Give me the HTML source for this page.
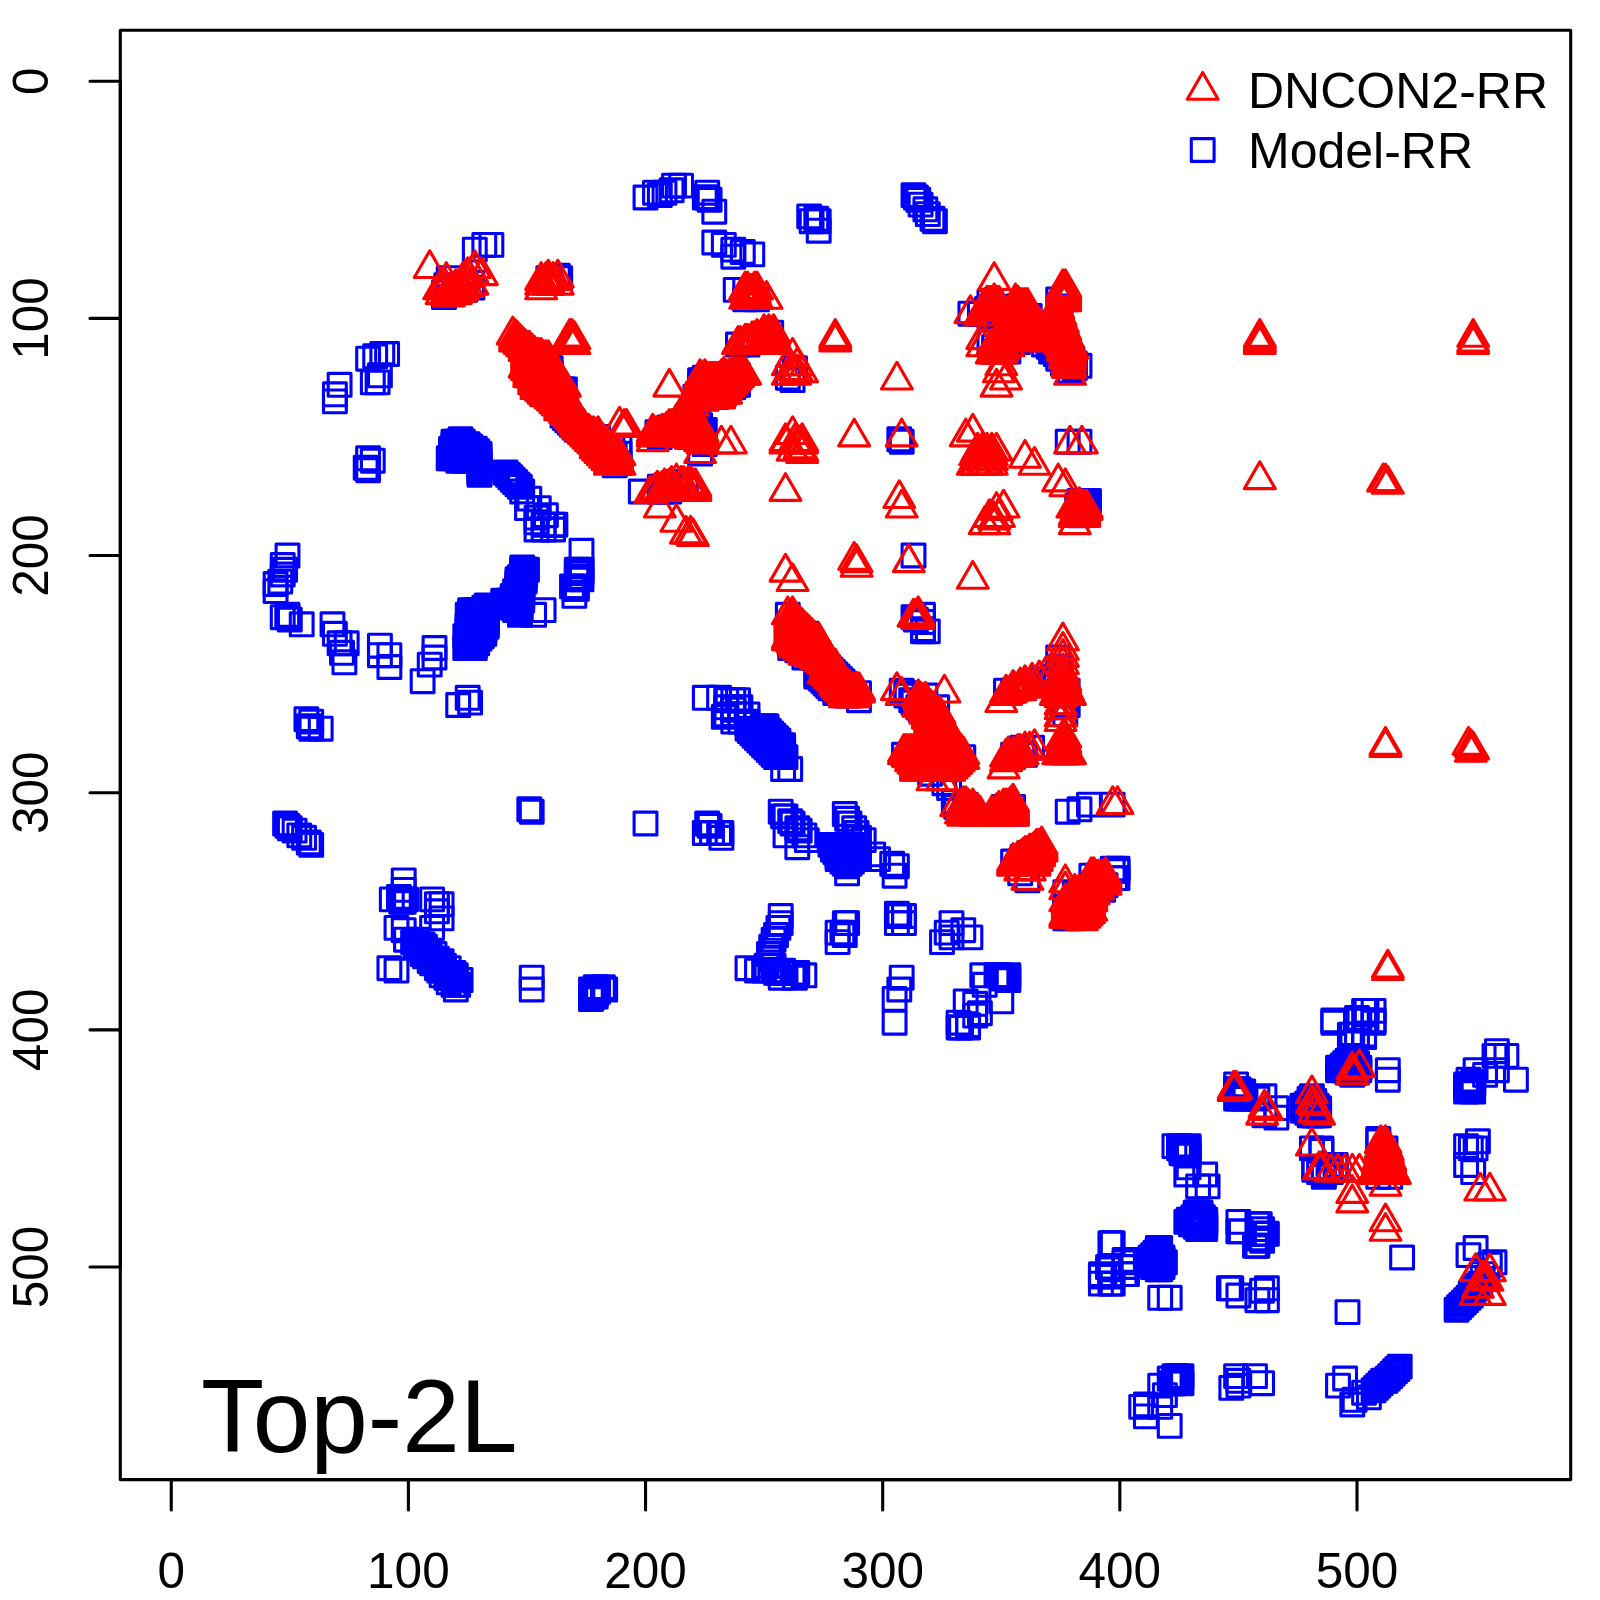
<!DOCTYPE html>
<html><head><meta charset="utf-8"><title>Top-2L contact map</title>
<style>
html,body{margin:0;padding:0;background:#fff}
svg{display:block}
text{font-family:"Liberation Sans",sans-serif;fill:#000}
.ax{stroke:#000;stroke-width:3.1;fill:none;stroke-linecap:round;stroke-linejoin:round}
.s{stroke:#0000ff;stroke-width:3.1;fill:none;stroke-linejoin:round}
.t{stroke:#ff0000;stroke-width:3.1;fill:none;stroke-linejoin:round}
</style></head><body>
<svg width="1600" height="1600" viewBox="0 0 1600 1600">
<rect width="1600" height="1600" fill="#fff"/>
<defs>
<rect id="q" x="-11.40" y="-11.40" width="22.80" height="22.80"/>
<path id="r" d="M0,-17.80 L15.42,8.90 L-15.42,8.90 Z"/>
</defs>

<g class="s">
<use href="#q" x="275.6" y="584.0"/>
<use href="#q" x="275.6" y="591.1"/>
<use href="#q" x="280.3" y="581.6"/>
<use href="#q" x="282.7" y="565.0"/>
<use href="#q" x="282.7" y="574.5"/>
<use href="#q" x="282.7" y="617.2"/>
<use href="#q" x="285.1" y="569.8"/>
<use href="#q" x="285.1" y="823.5"/>
<use href="#q" x="287.5" y="555.5"/>
<use href="#q" x="287.5" y="614.8"/>
<use href="#q" x="287.5" y="617.2"/>
<use href="#q" x="287.5" y="825.9"/>
<use href="#q" x="289.8" y="619.6"/>
<use href="#q" x="289.8" y="828.3"/>
<use href="#q" x="294.6" y="830.6"/>
<use href="#q" x="299.3" y="835.4"/>
<use href="#q" x="301.7" y="624.3"/>
<use href="#q" x="304.1" y="837.8"/>
<use href="#q" x="306.4" y="719.2"/>
<use href="#q" x="308.8" y="726.3"/>
<use href="#q" x="308.8" y="842.5"/>
<use href="#q" x="311.2" y="721.6"/>
<use href="#q" x="311.2" y="728.7"/>
<use href="#q" x="311.2" y="844.9"/>
<use href="#q" x="320.7" y="728.7"/>
<use href="#q" x="332.5" y="624.3"/>
<use href="#q" x="334.9" y="394.3"/>
<use href="#q" x="334.9" y="401.4"/>
<use href="#q" x="334.9" y="633.8"/>
<use href="#q" x="339.6" y="384.8"/>
<use href="#q" x="339.6" y="643.3"/>
<use href="#q" x="342.0" y="652.8"/>
<use href="#q" x="344.4" y="662.3"/>
<use href="#q" x="346.7" y="643.3"/>
<use href="#q" x="365.7" y="467.8"/>
<use href="#q" x="368.1" y="358.7"/>
<use href="#q" x="368.1" y="458.3"/>
<use href="#q" x="368.1" y="470.2"/>
<use href="#q" x="372.8" y="382.4"/>
<use href="#q" x="372.8" y="460.7"/>
<use href="#q" x="375.2" y="356.3"/>
<use href="#q" x="377.6" y="382.4"/>
<use href="#q" x="379.9" y="375.3"/>
<use href="#q" x="379.9" y="645.7"/>
<use href="#q" x="379.9" y="655.2"/>
<use href="#q" x="382.3" y="354.0"/>
<use href="#q" x="387.1" y="354.0"/>
<use href="#q" x="389.4" y="655.2"/>
<use href="#q" x="389.4" y="667.0"/>
<use href="#q" x="389.4" y="968.2"/>
<use href="#q" x="391.8" y="899.4"/>
<use href="#q" x="396.5" y="927.9"/>
<use href="#q" x="396.5" y="970.6"/>
<use href="#q" x="398.9" y="897.0"/>
<use href="#q" x="401.3" y="899.4"/>
<use href="#q" x="401.3" y="901.8"/>
<use href="#q" x="403.7" y="880.4"/>
<use href="#q" x="403.7" y="889.9"/>
<use href="#q" x="403.7" y="899.4"/>
<use href="#q" x="403.7" y="901.8"/>
<use href="#q" x="403.7" y="930.2"/>
<use href="#q" x="406.0" y="899.4"/>
<use href="#q" x="406.0" y="939.7"/>
<use href="#q" x="413.1" y="942.1"/>
<use href="#q" x="415.5" y="942.1"/>
<use href="#q" x="415.5" y="946.8"/>
<use href="#q" x="417.9" y="939.7"/>
<use href="#q" x="417.9" y="944.5"/>
<use href="#q" x="420.3" y="949.2"/>
<use href="#q" x="422.6" y="681.2"/>
<use href="#q" x="422.6" y="944.5"/>
<use href="#q" x="422.6" y="949.2"/>
<use href="#q" x="422.6" y="954.0"/>
<use href="#q" x="425.0" y="946.8"/>
<use href="#q" x="425.0" y="951.6"/>
<use href="#q" x="425.0" y="956.3"/>
<use href="#q" x="427.4" y="954.0"/>
<use href="#q" x="429.7" y="664.6"/>
<use href="#q" x="429.7" y="951.6"/>
<use href="#q" x="429.7" y="961.1"/>
<use href="#q" x="432.1" y="899.4"/>
<use href="#q" x="432.1" y="927.9"/>
<use href="#q" x="432.1" y="958.7"/>
<use href="#q" x="432.1" y="963.4"/>
<use href="#q" x="434.5" y="648.0"/>
<use href="#q" x="434.5" y="657.5"/>
<use href="#q" x="434.5" y="954.0"/>
<use href="#q" x="434.5" y="961.1"/>
<use href="#q" x="436.9" y="904.2"/>
<use href="#q" x="436.9" y="911.3"/>
<use href="#q" x="436.9" y="958.7"/>
<use href="#q" x="436.9" y="968.2"/>
<use href="#q" x="439.2" y="963.4"/>
<use href="#q" x="439.2" y="970.6"/>
<use href="#q" x="441.6" y="904.2"/>
<use href="#q" x="441.6" y="918.4"/>
<use href="#q" x="441.6" y="961.1"/>
<use href="#q" x="441.6" y="968.2"/>
<use href="#q" x="441.6" y="975.3"/>
<use href="#q" x="444.0" y="292.3"/>
<use href="#q" x="444.0" y="297.1"/>
<use href="#q" x="444.0" y="965.8"/>
<use href="#q" x="444.0" y="970.6"/>
<use href="#q" x="446.3" y="285.2"/>
<use href="#q" x="446.3" y="977.7"/>
<use href="#q" x="448.7" y="278.1"/>
<use href="#q" x="448.7" y="458.3"/>
<use href="#q" x="448.7" y="968.2"/>
<use href="#q" x="448.7" y="975.3"/>
<use href="#q" x="448.7" y="982.4"/>
<use href="#q" x="451.1" y="448.8"/>
<use href="#q" x="451.1" y="451.2"/>
<use href="#q" x="451.1" y="453.6"/>
<use href="#q" x="451.1" y="455.9"/>
<use href="#q" x="451.1" y="458.3"/>
<use href="#q" x="451.1" y="977.7"/>
<use href="#q" x="453.5" y="441.7"/>
<use href="#q" x="453.5" y="444.1"/>
<use href="#q" x="453.5" y="446.5"/>
<use href="#q" x="453.5" y="972.9"/>
<use href="#q" x="453.5" y="984.8"/>
<use href="#q" x="455.8" y="441.7"/>
<use href="#q" x="455.8" y="458.3"/>
<use href="#q" x="455.8" y="975.3"/>
<use href="#q" x="455.8" y="980.0"/>
<use href="#q" x="455.8" y="989.5"/>
<use href="#q" x="458.2" y="441.7"/>
<use href="#q" x="458.2" y="455.9"/>
<use href="#q" x="458.2" y="460.7"/>
<use href="#q" x="458.2" y="705.0"/>
<use href="#q" x="458.2" y="984.8"/>
<use href="#q" x="460.6" y="439.3"/>
<use href="#q" x="460.6" y="453.6"/>
<use href="#q" x="460.6" y="980.0"/>
<use href="#q" x="462.9" y="441.7"/>
<use href="#q" x="462.9" y="460.7"/>
<use href="#q" x="465.3" y="289.9"/>
<use href="#q" x="465.3" y="444.1"/>
<use href="#q" x="465.3" y="451.2"/>
<use href="#q" x="465.3" y="636.2"/>
<use href="#q" x="465.3" y="648.0"/>
<use href="#q" x="467.7" y="444.1"/>
<use href="#q" x="467.7" y="453.6"/>
<use href="#q" x="467.7" y="460.7"/>
<use href="#q" x="467.7" y="614.8"/>
<use href="#q" x="467.7" y="624.3"/>
<use href="#q" x="467.7" y="626.7"/>
<use href="#q" x="467.7" y="629.1"/>
<use href="#q" x="467.7" y="631.4"/>
<use href="#q" x="467.7" y="633.8"/>
<use href="#q" x="467.7" y="636.2"/>
<use href="#q" x="467.7" y="638.6"/>
<use href="#q" x="467.7" y="640.9"/>
<use href="#q" x="467.7" y="643.3"/>
<use href="#q" x="467.7" y="645.7"/>
<use href="#q" x="467.7" y="697.8"/>
<use href="#q" x="470.1" y="446.5"/>
<use href="#q" x="470.1" y="455.9"/>
<use href="#q" x="470.1" y="460.7"/>
<use href="#q" x="470.1" y="610.1"/>
<use href="#q" x="470.1" y="612.5"/>
<use href="#q" x="470.1" y="614.8"/>
<use href="#q" x="470.1" y="617.2"/>
<use href="#q" x="470.1" y="619.6"/>
<use href="#q" x="470.1" y="622.0"/>
<use href="#q" x="470.1" y="624.3"/>
<use href="#q" x="470.1" y="626.7"/>
<use href="#q" x="470.1" y="629.1"/>
<use href="#q" x="470.1" y="631.4"/>
<use href="#q" x="470.1" y="633.8"/>
<use href="#q" x="470.1" y="636.2"/>
<use href="#q" x="470.1" y="638.6"/>
<use href="#q" x="470.1" y="640.9"/>
<use href="#q" x="470.1" y="643.3"/>
<use href="#q" x="470.1" y="645.7"/>
<use href="#q" x="470.1" y="702.6"/>
<use href="#q" x="472.4" y="282.8"/>
<use href="#q" x="472.4" y="287.6"/>
<use href="#q" x="472.4" y="448.8"/>
<use href="#q" x="472.4" y="458.3"/>
<use href="#q" x="472.4" y="612.5"/>
<use href="#q" x="472.4" y="614.8"/>
<use href="#q" x="472.4" y="617.2"/>
<use href="#q" x="472.4" y="619.6"/>
<use href="#q" x="472.4" y="622.0"/>
<use href="#q" x="472.4" y="624.3"/>
<use href="#q" x="472.4" y="626.7"/>
<use href="#q" x="472.4" y="629.1"/>
<use href="#q" x="472.4" y="631.4"/>
<use href="#q" x="472.4" y="633.8"/>
<use href="#q" x="472.4" y="636.2"/>
<use href="#q" x="472.4" y="638.6"/>
<use href="#q" x="472.4" y="640.9"/>
<use href="#q" x="472.4" y="643.3"/>
<use href="#q" x="472.4" y="645.7"/>
<use href="#q" x="474.8" y="249.6"/>
<use href="#q" x="474.8" y="448.8"/>
<use href="#q" x="474.8" y="460.7"/>
<use href="#q" x="474.8" y="610.1"/>
<use href="#q" x="474.8" y="612.5"/>
<use href="#q" x="474.8" y="614.8"/>
<use href="#q" x="474.8" y="617.2"/>
<use href="#q" x="474.8" y="619.6"/>
<use href="#q" x="474.8" y="622.0"/>
<use href="#q" x="474.8" y="624.3"/>
<use href="#q" x="474.8" y="626.7"/>
<use href="#q" x="474.8" y="629.1"/>
<use href="#q" x="474.8" y="631.4"/>
<use href="#q" x="474.8" y="633.8"/>
<use href="#q" x="474.8" y="636.2"/>
<use href="#q" x="474.8" y="638.6"/>
<use href="#q" x="474.8" y="640.9"/>
<use href="#q" x="474.8" y="643.3"/>
<use href="#q" x="474.8" y="645.7"/>
<use href="#q" x="474.8" y="648.0"/>
<use href="#q" x="477.2" y="451.2"/>
<use href="#q" x="477.2" y="460.7"/>
<use href="#q" x="477.2" y="610.1"/>
<use href="#q" x="477.2" y="612.5"/>
<use href="#q" x="477.2" y="614.8"/>
<use href="#q" x="477.2" y="617.2"/>
<use href="#q" x="477.2" y="619.6"/>
<use href="#q" x="477.2" y="622.0"/>
<use href="#q" x="477.2" y="624.3"/>
<use href="#q" x="477.2" y="626.7"/>
<use href="#q" x="477.2" y="629.1"/>
<use href="#q" x="477.2" y="631.4"/>
<use href="#q" x="477.2" y="633.8"/>
<use href="#q" x="477.2" y="636.2"/>
<use href="#q" x="477.2" y="638.6"/>
<use href="#q" x="477.2" y="640.9"/>
<use href="#q" x="477.2" y="643.3"/>
<use href="#q" x="479.5" y="453.6"/>
<use href="#q" x="479.5" y="455.9"/>
<use href="#q" x="479.5" y="460.7"/>
<use href="#q" x="479.5" y="463.1"/>
<use href="#q" x="479.5" y="465.4"/>
<use href="#q" x="479.5" y="467.8"/>
<use href="#q" x="479.5" y="470.2"/>
<use href="#q" x="479.5" y="472.5"/>
<use href="#q" x="479.5" y="474.9"/>
<use href="#q" x="479.5" y="610.1"/>
<use href="#q" x="479.5" y="612.5"/>
<use href="#q" x="479.5" y="614.8"/>
<use href="#q" x="479.5" y="617.2"/>
<use href="#q" x="479.5" y="619.6"/>
<use href="#q" x="479.5" y="622.0"/>
<use href="#q" x="479.5" y="624.3"/>
<use href="#q" x="479.5" y="626.7"/>
<use href="#q" x="479.5" y="629.1"/>
<use href="#q" x="479.5" y="631.4"/>
<use href="#q" x="479.5" y="633.8"/>
<use href="#q" x="479.5" y="636.2"/>
<use href="#q" x="479.5" y="638.6"/>
<use href="#q" x="481.9" y="610.1"/>
<use href="#q" x="481.9" y="612.5"/>
<use href="#q" x="481.9" y="614.8"/>
<use href="#q" x="481.9" y="617.2"/>
<use href="#q" x="481.9" y="619.6"/>
<use href="#q" x="481.9" y="622.0"/>
<use href="#q" x="481.9" y="624.3"/>
<use href="#q" x="481.9" y="626.7"/>
<use href="#q" x="481.9" y="629.1"/>
<use href="#q" x="481.9" y="631.4"/>
<use href="#q" x="481.9" y="633.8"/>
<use href="#q" x="481.9" y="636.2"/>
<use href="#q" x="484.3" y="244.9"/>
<use href="#q" x="484.3" y="607.7"/>
<use href="#q" x="484.3" y="610.1"/>
<use href="#q" x="484.3" y="612.5"/>
<use href="#q" x="484.3" y="614.8"/>
<use href="#q" x="484.3" y="617.2"/>
<use href="#q" x="484.3" y="619.6"/>
<use href="#q" x="484.3" y="622.0"/>
<use href="#q" x="484.3" y="624.3"/>
<use href="#q" x="484.3" y="626.7"/>
<use href="#q" x="484.3" y="629.1"/>
<use href="#q" x="484.3" y="631.4"/>
<use href="#q" x="484.3" y="633.8"/>
<use href="#q" x="486.7" y="605.4"/>
<use href="#q" x="486.7" y="607.7"/>
<use href="#q" x="486.7" y="610.1"/>
<use href="#q" x="486.7" y="612.5"/>
<use href="#q" x="486.7" y="614.8"/>
<use href="#q" x="486.7" y="617.2"/>
<use href="#q" x="486.7" y="619.6"/>
<use href="#q" x="486.7" y="622.0"/>
<use href="#q" x="486.7" y="624.3"/>
<use href="#q" x="486.7" y="626.7"/>
<use href="#q" x="491.4" y="244.9"/>
<use href="#q" x="503.3" y="600.6"/>
<use href="#q" x="503.3" y="603.0"/>
<use href="#q" x="505.6" y="472.5"/>
<use href="#q" x="508.0" y="474.9"/>
<use href="#q" x="508.0" y="600.6"/>
<use href="#q" x="508.0" y="603.0"/>
<use href="#q" x="510.4" y="477.3"/>
<use href="#q" x="510.4" y="600.6"/>
<use href="#q" x="510.4" y="603.0"/>
<use href="#q" x="510.4" y="605.4"/>
<use href="#q" x="512.7" y="479.7"/>
<use href="#q" x="512.7" y="595.9"/>
<use href="#q" x="512.7" y="598.2"/>
<use href="#q" x="512.7" y="600.6"/>
<use href="#q" x="512.7" y="603.0"/>
<use href="#q" x="512.7" y="605.4"/>
<use href="#q" x="512.7" y="607.7"/>
<use href="#q" x="515.1" y="482.0"/>
<use href="#q" x="515.1" y="591.1"/>
<use href="#q" x="515.1" y="593.5"/>
<use href="#q" x="515.1" y="595.9"/>
<use href="#q" x="515.1" y="598.2"/>
<use href="#q" x="515.1" y="600.6"/>
<use href="#q" x="515.1" y="603.0"/>
<use href="#q" x="515.1" y="605.4"/>
<use href="#q" x="515.1" y="607.7"/>
<use href="#q" x="515.1" y="610.1"/>
<use href="#q" x="517.5" y="484.4"/>
<use href="#q" x="517.5" y="579.3"/>
<use href="#q" x="517.5" y="581.6"/>
<use href="#q" x="517.5" y="584.0"/>
<use href="#q" x="517.5" y="586.4"/>
<use href="#q" x="517.5" y="588.8"/>
<use href="#q" x="517.5" y="591.1"/>
<use href="#q" x="517.5" y="593.5"/>
<use href="#q" x="517.5" y="595.9"/>
<use href="#q" x="517.5" y="598.2"/>
<use href="#q" x="517.5" y="600.6"/>
<use href="#q" x="517.5" y="603.0"/>
<use href="#q" x="517.5" y="605.4"/>
<use href="#q" x="517.5" y="607.7"/>
<use href="#q" x="517.5" y="610.1"/>
<use href="#q" x="519.9" y="486.8"/>
<use href="#q" x="519.9" y="576.9"/>
<use href="#q" x="519.9" y="579.3"/>
<use href="#q" x="519.9" y="581.6"/>
<use href="#q" x="519.9" y="584.0"/>
<use href="#q" x="519.9" y="586.4"/>
<use href="#q" x="519.9" y="588.8"/>
<use href="#q" x="519.9" y="591.1"/>
<use href="#q" x="519.9" y="593.5"/>
<use href="#q" x="519.9" y="595.9"/>
<use href="#q" x="519.9" y="598.2"/>
<use href="#q" x="519.9" y="600.6"/>
<use href="#q" x="519.9" y="603.0"/>
<use href="#q" x="519.9" y="605.4"/>
<use href="#q" x="519.9" y="607.7"/>
<use href="#q" x="519.9" y="610.1"/>
<use href="#q" x="519.9" y="612.5"/>
<use href="#q" x="519.9" y="614.8"/>
<use href="#q" x="522.2" y="491.5"/>
<use href="#q" x="522.2" y="567.4"/>
<use href="#q" x="522.2" y="569.8"/>
<use href="#q" x="522.2" y="572.2"/>
<use href="#q" x="522.2" y="574.5"/>
<use href="#q" x="522.2" y="576.9"/>
<use href="#q" x="522.2" y="579.3"/>
<use href="#q" x="522.2" y="581.6"/>
<use href="#q" x="522.2" y="584.0"/>
<use href="#q" x="522.2" y="586.4"/>
<use href="#q" x="522.2" y="588.8"/>
<use href="#q" x="522.2" y="591.1"/>
<use href="#q" x="522.2" y="593.5"/>
<use href="#q" x="522.2" y="595.9"/>
<use href="#q" x="522.2" y="598.2"/>
<use href="#q" x="522.2" y="600.6"/>
<use href="#q" x="524.6" y="569.8"/>
<use href="#q" x="524.6" y="572.2"/>
<use href="#q" x="524.6" y="574.5"/>
<use href="#q" x="524.6" y="576.9"/>
<use href="#q" x="524.6" y="579.3"/>
<use href="#q" x="524.6" y="581.6"/>
<use href="#q" x="527.0" y="508.1"/>
<use href="#q" x="527.0" y="569.8"/>
<use href="#q" x="529.3" y="370.6"/>
<use href="#q" x="529.3" y="498.6"/>
<use href="#q" x="529.3" y="809.3"/>
<use href="#q" x="531.7" y="363.5"/>
<use href="#q" x="531.7" y="365.8"/>
<use href="#q" x="531.7" y="368.2"/>
<use href="#q" x="531.7" y="372.9"/>
<use href="#q" x="531.7" y="811.7"/>
<use href="#q" x="531.7" y="977.7"/>
<use href="#q" x="531.7" y="989.5"/>
<use href="#q" x="534.1" y="363.5"/>
<use href="#q" x="534.1" y="375.3"/>
<use href="#q" x="534.1" y="377.7"/>
<use href="#q" x="534.1" y="614.8"/>
<use href="#q" x="536.5" y="363.5"/>
<use href="#q" x="536.5" y="380.1"/>
<use href="#q" x="536.5" y="517.6"/>
<use href="#q" x="536.5" y="522.3"/>
<use href="#q" x="536.5" y="529.5"/>
<use href="#q" x="538.8" y="361.1"/>
<use href="#q" x="538.8" y="382.4"/>
<use href="#q" x="538.8" y="384.8"/>
<use href="#q" x="538.8" y="508.1"/>
<use href="#q" x="541.2" y="361.1"/>
<use href="#q" x="541.2" y="375.3"/>
<use href="#q" x="541.2" y="387.2"/>
<use href="#q" x="543.6" y="361.1"/>
<use href="#q" x="543.6" y="370.6"/>
<use href="#q" x="543.6" y="377.7"/>
<use href="#q" x="543.6" y="389.5"/>
<use href="#q" x="543.6" y="524.7"/>
<use href="#q" x="543.6" y="529.5"/>
<use href="#q" x="543.6" y="610.1"/>
<use href="#q" x="545.9" y="361.1"/>
<use href="#q" x="545.9" y="368.2"/>
<use href="#q" x="545.9" y="380.1"/>
<use href="#q" x="545.9" y="389.5"/>
<use href="#q" x="545.9" y="515.2"/>
<use href="#q" x="548.3" y="278.1"/>
<use href="#q" x="548.3" y="358.7"/>
<use href="#q" x="548.3" y="361.1"/>
<use href="#q" x="548.3" y="365.8"/>
<use href="#q" x="548.3" y="382.4"/>
<use href="#q" x="550.7" y="282.8"/>
<use href="#q" x="550.7" y="368.2"/>
<use href="#q" x="550.7" y="372.9"/>
<use href="#q" x="550.7" y="377.7"/>
<use href="#q" x="550.7" y="380.1"/>
<use href="#q" x="550.7" y="384.8"/>
<use href="#q" x="550.7" y="387.2"/>
<use href="#q" x="550.7" y="389.5"/>
<use href="#q" x="553.1" y="389.5"/>
<use href="#q" x="553.1" y="524.7"/>
<use href="#q" x="553.1" y="529.5"/>
<use href="#q" x="555.4" y="389.5"/>
<use href="#q" x="555.4" y="524.7"/>
<use href="#q" x="557.8" y="275.7"/>
<use href="#q" x="557.8" y="389.5"/>
<use href="#q" x="560.2" y="278.1"/>
<use href="#q" x="560.2" y="389.5"/>
<use href="#q" x="562.5" y="389.5"/>
<use href="#q" x="562.5" y="415.6"/>
<use href="#q" x="564.9" y="389.5"/>
<use href="#q" x="564.9" y="418.0"/>
<use href="#q" x="567.3" y="420.4"/>
<use href="#q" x="569.7" y="422.7"/>
<use href="#q" x="572.0" y="425.1"/>
<use href="#q" x="572.0" y="586.4"/>
<use href="#q" x="574.4" y="427.5"/>
<use href="#q" x="574.4" y="588.8"/>
<use href="#q" x="574.4" y="595.9"/>
<use href="#q" x="576.8" y="429.9"/>
<use href="#q" x="576.8" y="569.8"/>
<use href="#q" x="576.8" y="572.2"/>
<use href="#q" x="576.8" y="579.3"/>
<use href="#q" x="576.8" y="586.4"/>
<use href="#q" x="576.8" y="588.8"/>
<use href="#q" x="579.1" y="572.2"/>
<use href="#q" x="579.1" y="576.9"/>
<use href="#q" x="581.5" y="432.2"/>
<use href="#q" x="581.5" y="550.8"/>
<use href="#q" x="581.5" y="569.8"/>
<use href="#q" x="581.5" y="572.2"/>
<use href="#q" x="581.5" y="579.3"/>
<use href="#q" x="588.6" y="439.3"/>
<use href="#q" x="591.0" y="989.5"/>
<use href="#q" x="591.0" y="999.0"/>
<use href="#q" x="593.4" y="991.9"/>
<use href="#q" x="593.4" y="996.6"/>
<use href="#q" x="595.7" y="987.2"/>
<use href="#q" x="595.7" y="994.3"/>
<use href="#q" x="595.7" y="996.6"/>
<use href="#q" x="598.1" y="437.0"/>
<use href="#q" x="598.1" y="448.8"/>
<use href="#q" x="598.1" y="991.9"/>
<use href="#q" x="602.9" y="987.2"/>
<use href="#q" x="605.2" y="455.9"/>
<use href="#q" x="605.2" y="989.5"/>
<use href="#q" x="607.6" y="446.5"/>
<use href="#q" x="612.3" y="446.5"/>
<use href="#q" x="614.7" y="453.6"/>
<use href="#q" x="614.7" y="463.1"/>
<use href="#q" x="614.7" y="465.4"/>
<use href="#q" x="619.5" y="446.5"/>
<use href="#q" x="619.5" y="453.6"/>
<use href="#q" x="619.5" y="463.1"/>
<use href="#q" x="640.8" y="491.5"/>
<use href="#q" x="645.5" y="197.5"/>
<use href="#q" x="645.5" y="823.5"/>
<use href="#q" x="655.0" y="192.7"/>
<use href="#q" x="657.4" y="432.2"/>
<use href="#q" x="659.8" y="195.1"/>
<use href="#q" x="659.8" y="432.2"/>
<use href="#q" x="659.8" y="434.6"/>
<use href="#q" x="659.8" y="437.0"/>
<use href="#q" x="659.8" y="486.8"/>
<use href="#q" x="659.8" y="491.5"/>
<use href="#q" x="662.2" y="432.2"/>
<use href="#q" x="662.2" y="434.6"/>
<use href="#q" x="662.2" y="486.8"/>
<use href="#q" x="662.2" y="489.1"/>
<use href="#q" x="662.2" y="491.5"/>
<use href="#q" x="664.5" y="192.7"/>
<use href="#q" x="664.5" y="432.2"/>
<use href="#q" x="664.5" y="434.6"/>
<use href="#q" x="666.9" y="429.9"/>
<use href="#q" x="666.9" y="432.2"/>
<use href="#q" x="666.9" y="434.6"/>
<use href="#q" x="666.9" y="489.1"/>
<use href="#q" x="669.3" y="427.5"/>
<use href="#q" x="669.3" y="429.9"/>
<use href="#q" x="669.3" y="432.2"/>
<use href="#q" x="669.3" y="434.6"/>
<use href="#q" x="669.3" y="486.8"/>
<use href="#q" x="669.3" y="491.5"/>
<use href="#q" x="671.6" y="190.3"/>
<use href="#q" x="671.6" y="427.5"/>
<use href="#q" x="671.6" y="429.9"/>
<use href="#q" x="671.6" y="432.2"/>
<use href="#q" x="671.6" y="434.6"/>
<use href="#q" x="674.0" y="185.6"/>
<use href="#q" x="674.0" y="427.5"/>
<use href="#q" x="674.0" y="429.9"/>
<use href="#q" x="674.0" y="432.2"/>
<use href="#q" x="676.4" y="427.5"/>
<use href="#q" x="676.4" y="429.9"/>
<use href="#q" x="676.4" y="432.2"/>
<use href="#q" x="676.4" y="482.0"/>
<use href="#q" x="676.4" y="486.8"/>
<use href="#q" x="678.8" y="427.5"/>
<use href="#q" x="678.8" y="429.9"/>
<use href="#q" x="678.8" y="432.2"/>
<use href="#q" x="678.8" y="484.4"/>
<use href="#q" x="678.8" y="486.8"/>
<use href="#q" x="681.1" y="185.6"/>
<use href="#q" x="681.1" y="425.1"/>
<use href="#q" x="681.1" y="427.5"/>
<use href="#q" x="681.1" y="429.9"/>
<use href="#q" x="681.1" y="432.2"/>
<use href="#q" x="683.5" y="425.1"/>
<use href="#q" x="683.5" y="427.5"/>
<use href="#q" x="683.5" y="429.9"/>
<use href="#q" x="683.5" y="432.2"/>
<use href="#q" x="685.9" y="422.7"/>
<use href="#q" x="685.9" y="425.1"/>
<use href="#q" x="685.9" y="427.5"/>
<use href="#q" x="685.9" y="429.9"/>
<use href="#q" x="685.9" y="432.2"/>
<use href="#q" x="685.9" y="484.4"/>
<use href="#q" x="688.2" y="422.7"/>
<use href="#q" x="688.2" y="425.1"/>
<use href="#q" x="688.2" y="427.5"/>
<use href="#q" x="688.2" y="429.9"/>
<use href="#q" x="688.2" y="432.2"/>
<use href="#q" x="690.6" y="413.3"/>
<use href="#q" x="690.6" y="418.0"/>
<use href="#q" x="690.6" y="420.4"/>
<use href="#q" x="690.6" y="422.7"/>
<use href="#q" x="690.6" y="425.1"/>
<use href="#q" x="690.6" y="427.5"/>
<use href="#q" x="690.6" y="429.9"/>
<use href="#q" x="690.6" y="432.2"/>
<use href="#q" x="693.0" y="413.3"/>
<use href="#q" x="693.0" y="418.0"/>
<use href="#q" x="693.0" y="420.4"/>
<use href="#q" x="693.0" y="422.7"/>
<use href="#q" x="693.0" y="425.1"/>
<use href="#q" x="693.0" y="427.5"/>
<use href="#q" x="693.0" y="429.9"/>
<use href="#q" x="695.4" y="396.7"/>
<use href="#q" x="695.4" y="420.4"/>
<use href="#q" x="695.4" y="422.7"/>
<use href="#q" x="695.4" y="425.1"/>
<use href="#q" x="695.4" y="427.5"/>
<use href="#q" x="695.4" y="429.9"/>
<use href="#q" x="697.7" y="394.3"/>
<use href="#q" x="697.7" y="396.7"/>
<use href="#q" x="697.7" y="422.7"/>
<use href="#q" x="697.7" y="425.1"/>
<use href="#q" x="697.7" y="427.5"/>
<use href="#q" x="697.7" y="429.9"/>
<use href="#q" x="700.1" y="380.1"/>
<use href="#q" x="700.1" y="384.8"/>
<use href="#q" x="700.1" y="387.2"/>
<use href="#q" x="700.1" y="389.5"/>
<use href="#q" x="700.1" y="391.9"/>
<use href="#q" x="700.1" y="394.3"/>
<use href="#q" x="700.1" y="396.7"/>
<use href="#q" x="700.1" y="425.1"/>
<use href="#q" x="700.1" y="427.5"/>
<use href="#q" x="700.1" y="429.9"/>
<use href="#q" x="700.1" y="453.6"/>
<use href="#q" x="702.5" y="380.1"/>
<use href="#q" x="702.5" y="382.4"/>
<use href="#q" x="702.5" y="384.8"/>
<use href="#q" x="702.5" y="387.2"/>
<use href="#q" x="702.5" y="389.5"/>
<use href="#q" x="702.5" y="391.9"/>
<use href="#q" x="702.5" y="394.3"/>
<use href="#q" x="702.5" y="396.7"/>
<use href="#q" x="702.5" y="429.9"/>
<use href="#q" x="704.8" y="197.5"/>
<use href="#q" x="704.8" y="377.7"/>
<use href="#q" x="704.8" y="380.1"/>
<use href="#q" x="704.8" y="382.4"/>
<use href="#q" x="704.8" y="384.8"/>
<use href="#q" x="704.8" y="387.2"/>
<use href="#q" x="704.8" y="389.5"/>
<use href="#q" x="704.8" y="391.9"/>
<use href="#q" x="704.8" y="394.3"/>
<use href="#q" x="704.8" y="396.7"/>
<use href="#q" x="704.8" y="429.9"/>
<use href="#q" x="704.8" y="444.1"/>
<use href="#q" x="704.8" y="697.8"/>
<use href="#q" x="704.8" y="833.0"/>
<use href="#q" x="707.2" y="192.7"/>
<use href="#q" x="707.2" y="197.5"/>
<use href="#q" x="707.2" y="380.1"/>
<use href="#q" x="707.2" y="382.4"/>
<use href="#q" x="707.2" y="384.8"/>
<use href="#q" x="707.2" y="387.2"/>
<use href="#q" x="707.2" y="389.5"/>
<use href="#q" x="707.2" y="391.9"/>
<use href="#q" x="707.2" y="394.3"/>
<use href="#q" x="707.2" y="396.7"/>
<use href="#q" x="707.2" y="823.5"/>
<use href="#q" x="709.6" y="199.8"/>
<use href="#q" x="709.6" y="380.1"/>
<use href="#q" x="709.6" y="382.4"/>
<use href="#q" x="709.6" y="384.8"/>
<use href="#q" x="709.6" y="387.2"/>
<use href="#q" x="709.6" y="389.5"/>
<use href="#q" x="709.6" y="391.9"/>
<use href="#q" x="709.6" y="394.3"/>
<use href="#q" x="709.6" y="396.7"/>
<use href="#q" x="709.6" y="825.9"/>
<use href="#q" x="712.0" y="380.1"/>
<use href="#q" x="712.0" y="382.4"/>
<use href="#q" x="712.0" y="384.8"/>
<use href="#q" x="712.0" y="387.2"/>
<use href="#q" x="712.0" y="389.5"/>
<use href="#q" x="712.0" y="391.9"/>
<use href="#q" x="712.0" y="394.3"/>
<use href="#q" x="712.0" y="396.7"/>
<use href="#q" x="712.0" y="833.0"/>
<use href="#q" x="714.3" y="211.7"/>
<use href="#q" x="714.3" y="242.5"/>
<use href="#q" x="714.3" y="377.7"/>
<use href="#q" x="714.3" y="380.1"/>
<use href="#q" x="714.3" y="382.4"/>
<use href="#q" x="714.3" y="384.8"/>
<use href="#q" x="714.3" y="387.2"/>
<use href="#q" x="714.3" y="389.5"/>
<use href="#q" x="714.3" y="391.9"/>
<use href="#q" x="714.3" y="394.3"/>
<use href="#q" x="714.3" y="396.7"/>
<use href="#q" x="716.7" y="377.7"/>
<use href="#q" x="716.7" y="380.1"/>
<use href="#q" x="716.7" y="382.4"/>
<use href="#q" x="716.7" y="384.8"/>
<use href="#q" x="716.7" y="387.2"/>
<use href="#q" x="716.7" y="389.5"/>
<use href="#q" x="716.7" y="391.9"/>
<use href="#q" x="716.7" y="394.3"/>
<use href="#q" x="716.7" y="396.7"/>
<use href="#q" x="719.1" y="377.7"/>
<use href="#q" x="719.1" y="380.1"/>
<use href="#q" x="719.1" y="382.4"/>
<use href="#q" x="719.1" y="384.8"/>
<use href="#q" x="719.1" y="387.2"/>
<use href="#q" x="719.1" y="389.5"/>
<use href="#q" x="719.1" y="391.9"/>
<use href="#q" x="719.1" y="394.3"/>
<use href="#q" x="719.1" y="697.8"/>
<use href="#q" x="719.1" y="833.0"/>
<use href="#q" x="721.4" y="377.7"/>
<use href="#q" x="721.4" y="380.1"/>
<use href="#q" x="721.4" y="382.4"/>
<use href="#q" x="721.4" y="384.8"/>
<use href="#q" x="721.4" y="387.2"/>
<use href="#q" x="721.4" y="389.5"/>
<use href="#q" x="721.4" y="391.9"/>
<use href="#q" x="721.4" y="394.3"/>
<use href="#q" x="721.4" y="833.0"/>
<use href="#q" x="721.4" y="837.8"/>
<use href="#q" x="723.8" y="244.9"/>
<use href="#q" x="723.8" y="377.7"/>
<use href="#q" x="723.8" y="380.1"/>
<use href="#q" x="723.8" y="382.4"/>
<use href="#q" x="723.8" y="384.8"/>
<use href="#q" x="723.8" y="387.2"/>
<use href="#q" x="723.8" y="389.5"/>
<use href="#q" x="723.8" y="391.9"/>
<use href="#q" x="723.8" y="394.3"/>
<use href="#q" x="723.8" y="716.8"/>
<use href="#q" x="726.2" y="375.3"/>
<use href="#q" x="726.2" y="377.7"/>
<use href="#q" x="726.2" y="380.1"/>
<use href="#q" x="726.2" y="382.4"/>
<use href="#q" x="726.2" y="384.8"/>
<use href="#q" x="726.2" y="387.2"/>
<use href="#q" x="726.2" y="389.5"/>
<use href="#q" x="726.2" y="391.9"/>
<use href="#q" x="726.2" y="700.2"/>
<use href="#q" x="726.2" y="707.3"/>
<use href="#q" x="726.2" y="714.4"/>
<use href="#q" x="728.6" y="377.7"/>
<use href="#q" x="728.6" y="380.1"/>
<use href="#q" x="728.6" y="382.4"/>
<use href="#q" x="728.6" y="384.8"/>
<use href="#q" x="728.6" y="387.2"/>
<use href="#q" x="728.6" y="389.5"/>
<use href="#q" x="730.9" y="377.7"/>
<use href="#q" x="730.9" y="380.1"/>
<use href="#q" x="730.9" y="382.4"/>
<use href="#q" x="730.9" y="384.8"/>
<use href="#q" x="730.9" y="387.2"/>
<use href="#q" x="733.3" y="249.6"/>
<use href="#q" x="733.3" y="256.7"/>
<use href="#q" x="733.3" y="377.7"/>
<use href="#q" x="733.3" y="380.1"/>
<use href="#q" x="733.3" y="382.4"/>
<use href="#q" x="733.3" y="384.8"/>
<use href="#q" x="733.3" y="387.2"/>
<use href="#q" x="733.3" y="700.2"/>
<use href="#q" x="733.3" y="707.3"/>
<use href="#q" x="733.3" y="709.7"/>
<use href="#q" x="733.3" y="714.4"/>
<use href="#q" x="733.3" y="721.6"/>
<use href="#q" x="735.7" y="289.9"/>
<use href="#q" x="735.7" y="377.7"/>
<use href="#q" x="735.7" y="380.1"/>
<use href="#q" x="735.7" y="382.4"/>
<use href="#q" x="735.7" y="384.8"/>
<use href="#q" x="738.0" y="344.5"/>
<use href="#q" x="738.0" y="375.3"/>
<use href="#q" x="738.0" y="384.8"/>
<use href="#q" x="738.0" y="700.2"/>
<use href="#q" x="740.4" y="707.3"/>
<use href="#q" x="740.4" y="714.4"/>
<use href="#q" x="740.4" y="721.6"/>
<use href="#q" x="742.8" y="252.0"/>
<use href="#q" x="745.2" y="289.9"/>
<use href="#q" x="745.2" y="299.4"/>
<use href="#q" x="747.5" y="344.5"/>
<use href="#q" x="747.5" y="714.4"/>
<use href="#q" x="747.5" y="721.6"/>
<use href="#q" x="747.5" y="723.9"/>
<use href="#q" x="747.5" y="728.7"/>
<use href="#q" x="747.5" y="968.2"/>
<use href="#q" x="749.9" y="731.0"/>
<use href="#q" x="752.3" y="254.4"/>
<use href="#q" x="752.3" y="733.4"/>
<use href="#q" x="754.6" y="339.7"/>
<use href="#q" x="754.6" y="731.0"/>
<use href="#q" x="754.6" y="733.4"/>
<use href="#q" x="754.6" y="735.8"/>
<use href="#q" x="757.0" y="299.4"/>
<use href="#q" x="757.0" y="731.0"/>
<use href="#q" x="757.0" y="733.4"/>
<use href="#q" x="757.0" y="735.8"/>
<use href="#q" x="757.0" y="738.2"/>
<use href="#q" x="757.0" y="970.6"/>
<use href="#q" x="759.4" y="731.0"/>
<use href="#q" x="759.4" y="733.4"/>
<use href="#q" x="759.4" y="735.8"/>
<use href="#q" x="759.4" y="738.2"/>
<use href="#q" x="759.4" y="740.5"/>
<use href="#q" x="761.8" y="728.7"/>
<use href="#q" x="761.8" y="731.0"/>
<use href="#q" x="761.8" y="733.4"/>
<use href="#q" x="761.8" y="735.8"/>
<use href="#q" x="761.8" y="738.2"/>
<use href="#q" x="761.8" y="740.5"/>
<use href="#q" x="761.8" y="742.9"/>
<use href="#q" x="764.1" y="726.3"/>
<use href="#q" x="764.1" y="728.7"/>
<use href="#q" x="764.1" y="731.0"/>
<use href="#q" x="764.1" y="733.4"/>
<use href="#q" x="764.1" y="735.8"/>
<use href="#q" x="764.1" y="738.2"/>
<use href="#q" x="764.1" y="740.5"/>
<use href="#q" x="764.1" y="742.9"/>
<use href="#q" x="764.1" y="745.3"/>
<use href="#q" x="764.1" y="970.6"/>
<use href="#q" x="766.5" y="726.3"/>
<use href="#q" x="766.5" y="728.7"/>
<use href="#q" x="766.5" y="731.0"/>
<use href="#q" x="766.5" y="733.4"/>
<use href="#q" x="766.5" y="735.8"/>
<use href="#q" x="766.5" y="738.2"/>
<use href="#q" x="766.5" y="740.5"/>
<use href="#q" x="766.5" y="742.9"/>
<use href="#q" x="766.5" y="745.3"/>
<use href="#q" x="766.5" y="747.6"/>
<use href="#q" x="766.5" y="965.8"/>
<use href="#q" x="768.9" y="731.0"/>
<use href="#q" x="768.9" y="733.4"/>
<use href="#q" x="768.9" y="735.8"/>
<use href="#q" x="768.9" y="738.2"/>
<use href="#q" x="768.9" y="740.5"/>
<use href="#q" x="768.9" y="742.9"/>
<use href="#q" x="768.9" y="745.3"/>
<use href="#q" x="768.9" y="747.6"/>
<use href="#q" x="768.9" y="750.0"/>
<use href="#q" x="768.9" y="954.0"/>
<use href="#q" x="771.2" y="332.6"/>
<use href="#q" x="771.2" y="733.4"/>
<use href="#q" x="771.2" y="735.8"/>
<use href="#q" x="771.2" y="738.2"/>
<use href="#q" x="771.2" y="740.5"/>
<use href="#q" x="771.2" y="742.9"/>
<use href="#q" x="771.2" y="745.3"/>
<use href="#q" x="771.2" y="747.6"/>
<use href="#q" x="771.2" y="750.0"/>
<use href="#q" x="771.2" y="752.4"/>
<use href="#q" x="771.2" y="946.8"/>
<use href="#q" x="771.2" y="954.0"/>
<use href="#q" x="771.2" y="958.7"/>
<use href="#q" x="773.6" y="735.8"/>
<use href="#q" x="773.6" y="738.2"/>
<use href="#q" x="773.6" y="740.5"/>
<use href="#q" x="773.6" y="742.9"/>
<use href="#q" x="773.6" y="745.3"/>
<use href="#q" x="773.6" y="747.6"/>
<use href="#q" x="773.6" y="750.0"/>
<use href="#q" x="773.6" y="752.4"/>
<use href="#q" x="773.6" y="754.8"/>
<use href="#q" x="773.6" y="939.7"/>
<use href="#q" x="773.6" y="965.8"/>
<use href="#q" x="773.6" y="970.6"/>
<use href="#q" x="776.0" y="738.2"/>
<use href="#q" x="776.0" y="740.5"/>
<use href="#q" x="776.0" y="742.9"/>
<use href="#q" x="776.0" y="745.3"/>
<use href="#q" x="776.0" y="747.6"/>
<use href="#q" x="776.0" y="750.0"/>
<use href="#q" x="776.0" y="752.4"/>
<use href="#q" x="776.0" y="754.8"/>
<use href="#q" x="776.0" y="757.1"/>
<use href="#q" x="776.0" y="935.0"/>
<use href="#q" x="776.0" y="972.9"/>
<use href="#q" x="778.4" y="740.5"/>
<use href="#q" x="778.4" y="742.9"/>
<use href="#q" x="778.4" y="745.3"/>
<use href="#q" x="778.4" y="747.6"/>
<use href="#q" x="778.4" y="750.0"/>
<use href="#q" x="778.4" y="752.4"/>
<use href="#q" x="778.4" y="754.8"/>
<use href="#q" x="778.4" y="757.1"/>
<use href="#q" x="778.4" y="927.9"/>
<use href="#q" x="778.4" y="972.9"/>
<use href="#q" x="780.7" y="745.3"/>
<use href="#q" x="780.7" y="747.6"/>
<use href="#q" x="780.7" y="750.0"/>
<use href="#q" x="780.7" y="752.4"/>
<use href="#q" x="780.7" y="754.8"/>
<use href="#q" x="780.7" y="757.1"/>
<use href="#q" x="780.7" y="811.7"/>
<use href="#q" x="780.7" y="916.0"/>
<use href="#q" x="780.7" y="923.1"/>
<use href="#q" x="780.7" y="977.7"/>
<use href="#q" x="783.1" y="745.3"/>
<use href="#q" x="783.1" y="747.6"/>
<use href="#q" x="783.1" y="750.0"/>
<use href="#q" x="783.1" y="752.4"/>
<use href="#q" x="783.1" y="754.8"/>
<use href="#q" x="783.1" y="757.1"/>
<use href="#q" x="783.1" y="769.0"/>
<use href="#q" x="783.1" y="816.4"/>
<use href="#q" x="783.1" y="970.6"/>
<use href="#q" x="785.5" y="757.1"/>
<use href="#q" x="785.5" y="816.4"/>
<use href="#q" x="785.5" y="835.4"/>
<use href="#q" x="785.5" y="972.9"/>
<use href="#q" x="787.8" y="377.7"/>
<use href="#q" x="787.8" y="614.8"/>
<use href="#q" x="787.8" y="629.1"/>
<use href="#q" x="790.2" y="636.2"/>
<use href="#q" x="790.2" y="643.3"/>
<use href="#q" x="790.2" y="648.0"/>
<use href="#q" x="790.2" y="769.0"/>
<use href="#q" x="790.2" y="821.2"/>
<use href="#q" x="792.6" y="380.1"/>
<use href="#q" x="792.6" y="823.5"/>
<use href="#q" x="792.6" y="972.9"/>
<use href="#q" x="795.0" y="368.2"/>
<use href="#q" x="795.0" y="977.7"/>
<use href="#q" x="797.3" y="636.2"/>
<use href="#q" x="797.3" y="643.3"/>
<use href="#q" x="797.3" y="650.4"/>
<use href="#q" x="797.3" y="828.3"/>
<use href="#q" x="797.3" y="847.2"/>
<use href="#q" x="797.3" y="972.9"/>
<use href="#q" x="799.7" y="643.3"/>
<use href="#q" x="799.7" y="830.6"/>
<use href="#q" x="804.4" y="636.2"/>
<use href="#q" x="804.4" y="643.3"/>
<use href="#q" x="804.4" y="650.4"/>
<use href="#q" x="804.4" y="657.5"/>
<use href="#q" x="804.4" y="835.4"/>
<use href="#q" x="804.4" y="975.3"/>
<use href="#q" x="806.8" y="633.8"/>
<use href="#q" x="806.8" y="840.1"/>
<use href="#q" x="809.2" y="216.4"/>
<use href="#q" x="811.6" y="221.2"/>
<use href="#q" x="811.6" y="643.3"/>
<use href="#q" x="811.6" y="650.4"/>
<use href="#q" x="811.6" y="657.5"/>
<use href="#q" x="813.9" y="657.5"/>
<use href="#q" x="816.3" y="218.8"/>
<use href="#q" x="816.3" y="674.1"/>
<use href="#q" x="816.3" y="676.5"/>
<use href="#q" x="818.7" y="221.2"/>
<use href="#q" x="818.7" y="230.7"/>
<use href="#q" x="818.7" y="657.5"/>
<use href="#q" x="818.7" y="671.8"/>
<use href="#q" x="818.7" y="674.1"/>
<use href="#q" x="818.7" y="676.5"/>
<use href="#q" x="821.0" y="659.9"/>
<use href="#q" x="821.0" y="664.6"/>
<use href="#q" x="821.0" y="667.0"/>
<use href="#q" x="821.0" y="669.4"/>
<use href="#q" x="821.0" y="671.8"/>
<use href="#q" x="821.0" y="674.1"/>
<use href="#q" x="821.0" y="676.5"/>
<use href="#q" x="821.0" y="678.9"/>
<use href="#q" x="823.4" y="662.3"/>
<use href="#q" x="823.4" y="664.6"/>
<use href="#q" x="823.4" y="667.0"/>
<use href="#q" x="823.4" y="669.4"/>
<use href="#q" x="823.4" y="671.8"/>
<use href="#q" x="823.4" y="674.1"/>
<use href="#q" x="823.4" y="676.5"/>
<use href="#q" x="823.4" y="678.9"/>
<use href="#q" x="823.4" y="681.2"/>
<use href="#q" x="825.8" y="664.6"/>
<use href="#q" x="825.8" y="667.0"/>
<use href="#q" x="825.8" y="669.4"/>
<use href="#q" x="825.8" y="671.8"/>
<use href="#q" x="825.8" y="674.1"/>
<use href="#q" x="825.8" y="676.5"/>
<use href="#q" x="825.8" y="678.9"/>
<use href="#q" x="825.8" y="681.2"/>
<use href="#q" x="825.8" y="683.6"/>
<use href="#q" x="828.2" y="667.0"/>
<use href="#q" x="828.2" y="669.4"/>
<use href="#q" x="828.2" y="671.8"/>
<use href="#q" x="828.2" y="674.1"/>
<use href="#q" x="828.2" y="676.5"/>
<use href="#q" x="828.2" y="678.9"/>
<use href="#q" x="828.2" y="681.2"/>
<use href="#q" x="828.2" y="683.6"/>
<use href="#q" x="828.2" y="686.0"/>
<use href="#q" x="830.5" y="669.4"/>
<use href="#q" x="830.5" y="671.8"/>
<use href="#q" x="830.5" y="674.1"/>
<use href="#q" x="830.5" y="676.5"/>
<use href="#q" x="830.5" y="678.9"/>
<use href="#q" x="830.5" y="681.2"/>
<use href="#q" x="830.5" y="683.6"/>
<use href="#q" x="830.5" y="686.0"/>
<use href="#q" x="830.5" y="688.4"/>
<use href="#q" x="830.5" y="844.9"/>
<use href="#q" x="832.9" y="671.8"/>
<use href="#q" x="832.9" y="674.1"/>
<use href="#q" x="832.9" y="676.5"/>
<use href="#q" x="832.9" y="678.9"/>
<use href="#q" x="832.9" y="681.2"/>
<use href="#q" x="832.9" y="683.6"/>
<use href="#q" x="832.9" y="686.0"/>
<use href="#q" x="832.9" y="688.4"/>
<use href="#q" x="832.9" y="847.2"/>
<use href="#q" x="832.9" y="849.6"/>
<use href="#q" x="835.3" y="674.1"/>
<use href="#q" x="835.3" y="676.5"/>
<use href="#q" x="835.3" y="678.9"/>
<use href="#q" x="835.3" y="681.2"/>
<use href="#q" x="835.3" y="683.6"/>
<use href="#q" x="835.3" y="686.0"/>
<use href="#q" x="835.3" y="688.4"/>
<use href="#q" x="835.3" y="690.7"/>
<use href="#q" x="835.3" y="693.1"/>
<use href="#q" x="835.3" y="847.2"/>
<use href="#q" x="835.3" y="849.6"/>
<use href="#q" x="835.3" y="852.0"/>
<use href="#q" x="837.6" y="676.5"/>
<use href="#q" x="837.6" y="678.9"/>
<use href="#q" x="837.6" y="681.2"/>
<use href="#q" x="837.6" y="683.6"/>
<use href="#q" x="837.6" y="686.0"/>
<use href="#q" x="837.6" y="688.4"/>
<use href="#q" x="837.6" y="690.7"/>
<use href="#q" x="837.6" y="693.1"/>
<use href="#q" x="837.6" y="847.2"/>
<use href="#q" x="837.6" y="849.6"/>
<use href="#q" x="837.6" y="852.0"/>
<use href="#q" x="837.6" y="854.4"/>
<use href="#q" x="837.6" y="856.7"/>
<use href="#q" x="837.6" y="859.1"/>
<use href="#q" x="837.6" y="932.6"/>
<use href="#q" x="837.6" y="942.1"/>
<use href="#q" x="840.0" y="678.9"/>
<use href="#q" x="840.0" y="681.2"/>
<use href="#q" x="840.0" y="683.6"/>
<use href="#q" x="840.0" y="686.0"/>
<use href="#q" x="840.0" y="688.4"/>
<use href="#q" x="840.0" y="690.7"/>
<use href="#q" x="840.0" y="693.1"/>
<use href="#q" x="840.0" y="847.2"/>
<use href="#q" x="840.0" y="849.6"/>
<use href="#q" x="840.0" y="852.0"/>
<use href="#q" x="840.0" y="854.4"/>
<use href="#q" x="840.0" y="856.7"/>
<use href="#q" x="840.0" y="859.1"/>
<use href="#q" x="842.4" y="681.2"/>
<use href="#q" x="842.4" y="683.6"/>
<use href="#q" x="842.4" y="686.0"/>
<use href="#q" x="842.4" y="688.4"/>
<use href="#q" x="842.4" y="690.7"/>
<use href="#q" x="842.4" y="693.1"/>
<use href="#q" x="842.4" y="847.2"/>
<use href="#q" x="842.4" y="849.6"/>
<use href="#q" x="842.4" y="852.0"/>
<use href="#q" x="842.4" y="854.4"/>
<use href="#q" x="842.4" y="856.7"/>
<use href="#q" x="842.4" y="859.1"/>
<use href="#q" x="842.4" y="861.5"/>
<use href="#q" x="842.4" y="932.6"/>
<use href="#q" x="844.8" y="683.6"/>
<use href="#q" x="844.8" y="686.0"/>
<use href="#q" x="844.8" y="688.4"/>
<use href="#q" x="844.8" y="690.7"/>
<use href="#q" x="844.8" y="693.1"/>
<use href="#q" x="844.8" y="814.0"/>
<use href="#q" x="844.8" y="847.2"/>
<use href="#q" x="844.8" y="849.6"/>
<use href="#q" x="844.8" y="852.0"/>
<use href="#q" x="844.8" y="854.4"/>
<use href="#q" x="844.8" y="856.7"/>
<use href="#q" x="844.8" y="859.1"/>
<use href="#q" x="844.8" y="861.5"/>
<use href="#q" x="844.8" y="863.8"/>
<use href="#q" x="844.8" y="923.1"/>
<use href="#q" x="844.8" y="935.0"/>
<use href="#q" x="847.1" y="686.0"/>
<use href="#q" x="847.1" y="688.4"/>
<use href="#q" x="847.1" y="690.7"/>
<use href="#q" x="847.1" y="693.1"/>
<use href="#q" x="847.1" y="695.5"/>
<use href="#q" x="847.1" y="818.8"/>
<use href="#q" x="847.1" y="847.2"/>
<use href="#q" x="847.1" y="849.6"/>
<use href="#q" x="847.1" y="852.0"/>
<use href="#q" x="847.1" y="854.4"/>
<use href="#q" x="847.1" y="856.7"/>
<use href="#q" x="847.1" y="859.1"/>
<use href="#q" x="847.1" y="861.5"/>
<use href="#q" x="847.1" y="863.8"/>
<use href="#q" x="847.1" y="866.2"/>
<use href="#q" x="847.1" y="873.3"/>
<use href="#q" x="847.1" y="923.1"/>
<use href="#q" x="849.5" y="823.5"/>
<use href="#q" x="849.5" y="847.2"/>
<use href="#q" x="849.5" y="849.6"/>
<use href="#q" x="849.5" y="852.0"/>
<use href="#q" x="849.5" y="854.4"/>
<use href="#q" x="849.5" y="856.7"/>
<use href="#q" x="849.5" y="859.1"/>
<use href="#q" x="849.5" y="861.5"/>
<use href="#q" x="849.5" y="863.8"/>
<use href="#q" x="851.9" y="844.9"/>
<use href="#q" x="851.9" y="847.2"/>
<use href="#q" x="851.9" y="849.6"/>
<use href="#q" x="851.9" y="852.0"/>
<use href="#q" x="851.9" y="854.4"/>
<use href="#q" x="851.9" y="856.7"/>
<use href="#q" x="851.9" y="859.1"/>
<use href="#q" x="851.9" y="861.5"/>
<use href="#q" x="854.2" y="828.3"/>
<use href="#q" x="854.2" y="844.9"/>
<use href="#q" x="854.2" y="849.6"/>
<use href="#q" x="854.2" y="852.0"/>
<use href="#q" x="854.2" y="854.4"/>
<use href="#q" x="854.2" y="856.7"/>
<use href="#q" x="854.2" y="859.1"/>
<use href="#q" x="856.6" y="833.0"/>
<use href="#q" x="856.6" y="856.7"/>
<use href="#q" x="856.6" y="859.1"/>
<use href="#q" x="859.0" y="693.1"/>
<use href="#q" x="859.0" y="700.2"/>
<use href="#q" x="859.0" y="837.8"/>
<use href="#q" x="859.0" y="856.7"/>
<use href="#q" x="859.0" y="859.1"/>
<use href="#q" x="863.7" y="840.1"/>
<use href="#q" x="873.2" y="854.4"/>
<use href="#q" x="878.0" y="859.1"/>
<use href="#q" x="892.2" y="863.8"/>
<use href="#q" x="894.6" y="875.7"/>
<use href="#q" x="894.6" y="999.0"/>
<use href="#q" x="894.6" y="1022.7"/>
<use href="#q" x="896.9" y="866.2"/>
<use href="#q" x="896.9" y="913.6"/>
<use href="#q" x="896.9" y="923.1"/>
<use href="#q" x="899.3" y="439.3"/>
<use href="#q" x="899.3" y="916.0"/>
<use href="#q" x="899.3" y="989.5"/>
<use href="#q" x="901.7" y="441.7"/>
<use href="#q" x="901.7" y="690.7"/>
<use href="#q" x="901.7" y="977.7"/>
<use href="#q" x="904.0" y="754.8"/>
<use href="#q" x="904.0" y="916.0"/>
<use href="#q" x="904.0" y="923.1"/>
<use href="#q" x="906.4" y="693.1"/>
<use href="#q" x="906.4" y="695.5"/>
<use href="#q" x="908.8" y="757.1"/>
<use href="#q" x="911.2" y="700.2"/>
<use href="#q" x="913.5" y="195.1"/>
<use href="#q" x="913.5" y="555.5"/>
<use href="#q" x="913.5" y="617.2"/>
<use href="#q" x="913.5" y="702.6"/>
<use href="#q" x="913.5" y="759.5"/>
<use href="#q" x="915.9" y="197.5"/>
<use href="#q" x="915.9" y="619.6"/>
<use href="#q" x="918.3" y="199.8"/>
<use href="#q" x="918.3" y="707.3"/>
<use href="#q" x="918.3" y="764.2"/>
<use href="#q" x="920.6" y="204.6"/>
<use href="#q" x="920.6" y="709.7"/>
<use href="#q" x="923.0" y="614.8"/>
<use href="#q" x="923.0" y="622.0"/>
<use href="#q" x="923.0" y="629.1"/>
<use href="#q" x="923.0" y="631.4"/>
<use href="#q" x="923.0" y="766.6"/>
<use href="#q" x="925.4" y="209.3"/>
<use href="#q" x="925.4" y="695.5"/>
<use href="#q" x="925.4" y="714.4"/>
<use href="#q" x="927.8" y="214.1"/>
<use href="#q" x="927.8" y="631.4"/>
<use href="#q" x="927.8" y="769.0"/>
<use href="#q" x="930.1" y="716.8"/>
<use href="#q" x="930.1" y="773.7"/>
<use href="#q" x="932.5" y="218.8"/>
<use href="#q" x="934.9" y="221.2"/>
<use href="#q" x="934.9" y="740.5"/>
<use href="#q" x="934.9" y="761.9"/>
<use href="#q" x="934.9" y="764.2"/>
<use href="#q" x="937.2" y="707.3"/>
<use href="#q" x="937.2" y="742.9"/>
<use href="#q" x="937.2" y="745.3"/>
<use href="#q" x="937.2" y="747.6"/>
<use href="#q" x="937.2" y="750.0"/>
<use href="#q" x="937.2" y="752.4"/>
<use href="#q" x="937.2" y="754.8"/>
<use href="#q" x="937.2" y="757.1"/>
<use href="#q" x="937.2" y="759.5"/>
<use href="#q" x="937.2" y="761.9"/>
<use href="#q" x="939.6" y="742.9"/>
<use href="#q" x="939.6" y="745.3"/>
<use href="#q" x="939.6" y="747.6"/>
<use href="#q" x="939.6" y="750.0"/>
<use href="#q" x="939.6" y="752.4"/>
<use href="#q" x="939.6" y="754.8"/>
<use href="#q" x="939.6" y="757.1"/>
<use href="#q" x="939.6" y="759.5"/>
<use href="#q" x="939.6" y="761.9"/>
<use href="#q" x="939.6" y="764.2"/>
<use href="#q" x="942.0" y="745.3"/>
<use href="#q" x="942.0" y="747.6"/>
<use href="#q" x="942.0" y="750.0"/>
<use href="#q" x="942.0" y="752.4"/>
<use href="#q" x="942.0" y="754.8"/>
<use href="#q" x="942.0" y="757.1"/>
<use href="#q" x="942.0" y="759.5"/>
<use href="#q" x="942.0" y="761.9"/>
<use href="#q" x="942.0" y="764.2"/>
<use href="#q" x="942.0" y="942.1"/>
<use href="#q" x="944.4" y="747.6"/>
<use href="#q" x="944.4" y="750.0"/>
<use href="#q" x="944.4" y="752.4"/>
<use href="#q" x="944.4" y="754.8"/>
<use href="#q" x="944.4" y="757.1"/>
<use href="#q" x="944.4" y="759.5"/>
<use href="#q" x="944.4" y="761.9"/>
<use href="#q" x="944.4" y="764.2"/>
<use href="#q" x="944.4" y="783.2"/>
<use href="#q" x="946.7" y="747.6"/>
<use href="#q" x="946.7" y="750.0"/>
<use href="#q" x="946.7" y="752.4"/>
<use href="#q" x="946.7" y="754.8"/>
<use href="#q" x="946.7" y="757.1"/>
<use href="#q" x="946.7" y="759.5"/>
<use href="#q" x="946.7" y="761.9"/>
<use href="#q" x="946.7" y="764.2"/>
<use href="#q" x="946.7" y="766.6"/>
<use href="#q" x="946.7" y="769.0"/>
<use href="#q" x="946.7" y="932.6"/>
<use href="#q" x="949.1" y="747.6"/>
<use href="#q" x="949.1" y="750.0"/>
<use href="#q" x="949.1" y="752.4"/>
<use href="#q" x="949.1" y="754.8"/>
<use href="#q" x="949.1" y="757.1"/>
<use href="#q" x="949.1" y="759.5"/>
<use href="#q" x="949.1" y="761.9"/>
<use href="#q" x="949.1" y="764.2"/>
<use href="#q" x="949.1" y="766.6"/>
<use href="#q" x="949.1" y="769.0"/>
<use href="#q" x="949.1" y="788.0"/>
<use href="#q" x="951.5" y="752.4"/>
<use href="#q" x="951.5" y="754.8"/>
<use href="#q" x="951.5" y="757.1"/>
<use href="#q" x="951.5" y="759.5"/>
<use href="#q" x="951.5" y="761.9"/>
<use href="#q" x="951.5" y="923.1"/>
<use href="#q" x="951.5" y="937.4"/>
<use href="#q" x="953.8" y="754.8"/>
<use href="#q" x="953.8" y="757.1"/>
<use href="#q" x="953.8" y="759.5"/>
<use href="#q" x="953.8" y="802.2"/>
<use href="#q" x="956.2" y="757.1"/>
<use href="#q" x="956.2" y="806.9"/>
<use href="#q" x="958.6" y="1022.7"/>
<use href="#q" x="958.6" y="1027.5"/>
<use href="#q" x="961.0" y="1027.5"/>
<use href="#q" x="963.3" y="757.1"/>
<use href="#q" x="963.3" y="930.2"/>
<use href="#q" x="965.7" y="804.6"/>
<use href="#q" x="965.7" y="1001.4"/>
<use href="#q" x="968.1" y="1025.1"/>
<use href="#q" x="968.1" y="1027.5"/>
<use href="#q" x="970.4" y="313.7"/>
<use href="#q" x="970.4" y="937.4"/>
<use href="#q" x="975.2" y="1003.8"/>
<use href="#q" x="975.2" y="1015.6"/>
<use href="#q" x="979.9" y="313.7"/>
<use href="#q" x="979.9" y="1013.2"/>
<use href="#q" x="982.3" y="975.3"/>
<use href="#q" x="984.7" y="984.8"/>
<use href="#q" x="987.0" y="308.9"/>
<use href="#q" x="989.4" y="301.8"/>
<use href="#q" x="989.4" y="311.3"/>
<use href="#q" x="989.4" y="313.7"/>
<use href="#q" x="989.4" y="316.0"/>
<use href="#q" x="989.4" y="342.1"/>
<use href="#q" x="991.8" y="311.3"/>
<use href="#q" x="991.8" y="313.7"/>
<use href="#q" x="994.2" y="346.9"/>
<use href="#q" x="994.2" y="351.6"/>
<use href="#q" x="996.5" y="975.3"/>
<use href="#q" x="998.9" y="975.3"/>
<use href="#q" x="1001.3" y="346.9"/>
<use href="#q" x="1001.3" y="977.7"/>
<use href="#q" x="1001.3" y="1001.4"/>
<use href="#q" x="1003.6" y="806.9"/>
<use href="#q" x="1003.6" y="977.7"/>
<use href="#q" x="1006.0" y="690.7"/>
<use href="#q" x="1006.0" y="809.3"/>
<use href="#q" x="1006.0" y="814.0"/>
<use href="#q" x="1006.0" y="977.7"/>
<use href="#q" x="1008.4" y="351.6"/>
<use href="#q" x="1008.4" y="975.3"/>
<use href="#q" x="1008.4" y="980.0"/>
<use href="#q" x="1013.1" y="690.7"/>
<use href="#q" x="1013.1" y="754.8"/>
<use href="#q" x="1013.1" y="757.1"/>
<use href="#q" x="1013.1" y="806.9"/>
<use href="#q" x="1013.1" y="814.0"/>
<use href="#q" x="1013.1" y="861.5"/>
<use href="#q" x="1017.9" y="306.5"/>
<use href="#q" x="1017.9" y="342.1"/>
<use href="#q" x="1017.9" y="688.4"/>
<use href="#q" x="1020.2" y="313.7"/>
<use href="#q" x="1020.2" y="873.3"/>
<use href="#q" x="1022.6" y="747.6"/>
<use href="#q" x="1022.6" y="752.4"/>
<use href="#q" x="1022.6" y="856.7"/>
<use href="#q" x="1025.0" y="686.0"/>
<use href="#q" x="1025.0" y="754.8"/>
<use href="#q" x="1027.4" y="861.5"/>
<use href="#q" x="1027.4" y="880.4"/>
<use href="#q" x="1029.7" y="316.0"/>
<use href="#q" x="1029.7" y="327.9"/>
<use href="#q" x="1029.7" y="683.6"/>
<use href="#q" x="1032.1" y="323.1"/>
<use href="#q" x="1032.1" y="325.5"/>
<use href="#q" x="1032.1" y="747.6"/>
<use href="#q" x="1032.1" y="852.0"/>
<use href="#q" x="1034.5" y="327.9"/>
<use href="#q" x="1034.5" y="332.6"/>
<use href="#q" x="1036.8" y="325.5"/>
<use href="#q" x="1036.8" y="335.0"/>
<use href="#q" x="1036.8" y="681.2"/>
<use href="#q" x="1039.2" y="330.3"/>
<use href="#q" x="1039.2" y="332.6"/>
<use href="#q" x="1041.6" y="335.0"/>
<use href="#q" x="1041.6" y="339.7"/>
<use href="#q" x="1044.0" y="332.6"/>
<use href="#q" x="1044.0" y="337.4"/>
<use href="#q" x="1044.0" y="344.5"/>
<use href="#q" x="1044.0" y="678.9"/>
<use href="#q" x="1044.0" y="681.2"/>
<use href="#q" x="1046.3" y="335.0"/>
<use href="#q" x="1048.7" y="342.1"/>
<use href="#q" x="1048.7" y="346.9"/>
<use href="#q" x="1048.7" y="681.2"/>
<use href="#q" x="1051.1" y="339.7"/>
<use href="#q" x="1051.1" y="344.5"/>
<use href="#q" x="1051.1" y="351.6"/>
<use href="#q" x="1053.4" y="342.1"/>
<use href="#q" x="1053.4" y="349.2"/>
<use href="#q" x="1055.8" y="354.0"/>
<use href="#q" x="1055.8" y="676.5"/>
<use href="#q" x="1055.8" y="683.6"/>
<use href="#q" x="1058.2" y="299.4"/>
<use href="#q" x="1058.2" y="346.9"/>
<use href="#q" x="1058.2" y="351.6"/>
<use href="#q" x="1058.2" y="358.7"/>
<use href="#q" x="1058.2" y="657.5"/>
<use href="#q" x="1060.6" y="306.5"/>
<use href="#q" x="1060.6" y="349.2"/>
<use href="#q" x="1060.6" y="354.0"/>
<use href="#q" x="1060.6" y="667.0"/>
<use href="#q" x="1060.6" y="674.1"/>
<use href="#q" x="1060.6" y="683.6"/>
<use href="#q" x="1060.6" y="693.1"/>
<use href="#q" x="1062.9" y="363.5"/>
<use href="#q" x="1062.9" y="686.0"/>
<use href="#q" x="1062.9" y="688.4"/>
<use href="#q" x="1062.9" y="695.5"/>
<use href="#q" x="1062.9" y="702.6"/>
<use href="#q" x="1062.9" y="707.3"/>
<use href="#q" x="1065.3" y="351.6"/>
<use href="#q" x="1065.3" y="358.7"/>
<use href="#q" x="1065.3" y="365.8"/>
<use href="#q" x="1065.3" y="714.4"/>
<use href="#q" x="1065.3" y="892.3"/>
<use href="#q" x="1065.3" y="906.5"/>
<use href="#q" x="1065.3" y="908.9"/>
<use href="#q" x="1065.3" y="918.4"/>
<use href="#q" x="1067.7" y="356.3"/>
<use href="#q" x="1067.7" y="361.1"/>
<use href="#q" x="1067.7" y="441.7"/>
<use href="#q" x="1067.7" y="690.7"/>
<use href="#q" x="1067.7" y="705.0"/>
<use href="#q" x="1067.7" y="811.7"/>
<use href="#q" x="1067.7" y="911.3"/>
<use href="#q" x="1067.7" y="913.6"/>
<use href="#q" x="1067.7" y="916.0"/>
<use href="#q" x="1070.0" y="365.8"/>
<use href="#q" x="1070.0" y="370.6"/>
<use href="#q" x="1070.0" y="918.4"/>
<use href="#q" x="1072.4" y="358.7"/>
<use href="#q" x="1074.8" y="363.5"/>
<use href="#q" x="1074.8" y="368.2"/>
<use href="#q" x="1074.8" y="894.7"/>
<use href="#q" x="1077.2" y="505.7"/>
<use href="#q" x="1077.2" y="512.9"/>
<use href="#q" x="1079.5" y="365.8"/>
<use href="#q" x="1079.5" y="441.7"/>
<use href="#q" x="1079.5" y="501.0"/>
<use href="#q" x="1079.5" y="515.2"/>
<use href="#q" x="1079.5" y="809.3"/>
<use href="#q" x="1081.9" y="503.4"/>
<use href="#q" x="1081.9" y="508.1"/>
<use href="#q" x="1084.3" y="505.7"/>
<use href="#q" x="1086.6" y="503.4"/>
<use href="#q" x="1086.6" y="505.7"/>
<use href="#q" x="1089.0" y="501.0"/>
<use href="#q" x="1089.0" y="804.6"/>
<use href="#q" x="1091.4" y="875.7"/>
<use href="#q" x="1091.4" y="911.3"/>
<use href="#q" x="1093.8" y="885.2"/>
<use href="#q" x="1100.9" y="1274.1"/>
<use href="#q" x="1100.9" y="1276.5"/>
<use href="#q" x="1100.9" y="1283.6"/>
<use href="#q" x="1103.2" y="889.9"/>
<use href="#q" x="1105.6" y="885.2"/>
<use href="#q" x="1108.0" y="1267.0"/>
<use href="#q" x="1110.4" y="1243.3"/>
<use href="#q" x="1110.4" y="1267.0"/>
<use href="#q" x="1110.4" y="1269.4"/>
<use href="#q" x="1110.4" y="1276.5"/>
<use href="#q" x="1110.4" y="1283.6"/>
<use href="#q" x="1112.7" y="804.6"/>
<use href="#q" x="1112.7" y="868.6"/>
<use href="#q" x="1112.7" y="1243.3"/>
<use href="#q" x="1112.7" y="1283.6"/>
<use href="#q" x="1115.1" y="878.1"/>
<use href="#q" x="1117.5" y="868.6"/>
<use href="#q" x="1117.5" y="871.0"/>
<use href="#q" x="1117.5" y="878.1"/>
<use href="#q" x="1124.6" y="1259.9"/>
<use href="#q" x="1124.6" y="1262.3"/>
<use href="#q" x="1124.6" y="1267.0"/>
<use href="#q" x="1124.6" y="1274.1"/>
<use href="#q" x="1127.0" y="1274.1"/>
<use href="#q" x="1141.2" y="1406.9"/>
<use href="#q" x="1145.9" y="1259.9"/>
<use href="#q" x="1145.9" y="1262.3"/>
<use href="#q" x="1145.9" y="1404.5"/>
<use href="#q" x="1145.9" y="1416.4"/>
<use href="#q" x="1148.3" y="1259.9"/>
<use href="#q" x="1148.3" y="1262.3"/>
<use href="#q" x="1148.3" y="1264.6"/>
<use href="#q" x="1150.7" y="1257.5"/>
<use href="#q" x="1150.7" y="1259.9"/>
<use href="#q" x="1150.7" y="1262.3"/>
<use href="#q" x="1150.7" y="1264.6"/>
<use href="#q" x="1153.1" y="1255.1"/>
<use href="#q" x="1153.1" y="1257.5"/>
<use href="#q" x="1153.1" y="1259.9"/>
<use href="#q" x="1153.1" y="1262.3"/>
<use href="#q" x="1153.1" y="1264.6"/>
<use href="#q" x="1153.1" y="1267.0"/>
<use href="#q" x="1155.4" y="1252.8"/>
<use href="#q" x="1155.4" y="1255.1"/>
<use href="#q" x="1155.4" y="1257.5"/>
<use href="#q" x="1155.4" y="1259.9"/>
<use href="#q" x="1155.4" y="1262.3"/>
<use href="#q" x="1155.4" y="1264.6"/>
<use href="#q" x="1155.4" y="1267.0"/>
<use href="#q" x="1157.8" y="1248.0"/>
<use href="#q" x="1157.8" y="1250.4"/>
<use href="#q" x="1157.8" y="1252.8"/>
<use href="#q" x="1157.8" y="1255.1"/>
<use href="#q" x="1157.8" y="1257.5"/>
<use href="#q" x="1157.8" y="1259.9"/>
<use href="#q" x="1157.8" y="1262.3"/>
<use href="#q" x="1157.8" y="1264.6"/>
<use href="#q" x="1157.8" y="1267.0"/>
<use href="#q" x="1157.8" y="1269.4"/>
<use href="#q" x="1160.2" y="1248.0"/>
<use href="#q" x="1160.2" y="1255.1"/>
<use href="#q" x="1160.2" y="1257.5"/>
<use href="#q" x="1160.2" y="1259.9"/>
<use href="#q" x="1160.2" y="1262.3"/>
<use href="#q" x="1160.2" y="1264.6"/>
<use href="#q" x="1160.2" y="1267.0"/>
<use href="#q" x="1160.2" y="1269.4"/>
<use href="#q" x="1160.2" y="1297.8"/>
<use href="#q" x="1160.2" y="1385.6"/>
<use href="#q" x="1160.2" y="1406.9"/>
<use href="#q" x="1162.5" y="1257.5"/>
<use href="#q" x="1162.5" y="1259.9"/>
<use href="#q" x="1162.5" y="1262.3"/>
<use href="#q" x="1162.5" y="1264.6"/>
<use href="#q" x="1162.5" y="1267.0"/>
<use href="#q" x="1164.9" y="1262.3"/>
<use href="#q" x="1164.9" y="1395.1"/>
<use href="#q" x="1169.7" y="1297.8"/>
<use href="#q" x="1169.7" y="1378.5"/>
<use href="#q" x="1169.7" y="1425.9"/>
<use href="#q" x="1172.0" y="1383.2"/>
<use href="#q" x="1174.4" y="1146.1"/>
<use href="#q" x="1174.4" y="1376.1"/>
<use href="#q" x="1174.4" y="1378.5"/>
<use href="#q" x="1174.4" y="1380.8"/>
<use href="#q" x="1174.4" y="1383.2"/>
<use href="#q" x="1176.8" y="1376.1"/>
<use href="#q" x="1176.8" y="1378.5"/>
<use href="#q" x="1176.8" y="1380.8"/>
<use href="#q" x="1179.1" y="1146.1"/>
<use href="#q" x="1179.1" y="1148.4"/>
<use href="#q" x="1179.1" y="1378.5"/>
<use href="#q" x="1179.1" y="1380.8"/>
<use href="#q" x="1181.5" y="1148.4"/>
<use href="#q" x="1181.5" y="1150.8"/>
<use href="#q" x="1181.5" y="1153.2"/>
<use href="#q" x="1181.5" y="1376.1"/>
<use href="#q" x="1181.5" y="1383.2"/>
<use href="#q" x="1183.9" y="1148.4"/>
<use href="#q" x="1183.9" y="1150.8"/>
<use href="#q" x="1183.9" y="1153.2"/>
<use href="#q" x="1186.3" y="1148.4"/>
<use href="#q" x="1186.3" y="1150.8"/>
<use href="#q" x="1186.3" y="1153.2"/>
<use href="#q" x="1186.3" y="1174.5"/>
<use href="#q" x="1186.3" y="1221.9"/>
<use href="#q" x="1188.6" y="1146.1"/>
<use href="#q" x="1188.6" y="1148.4"/>
<use href="#q" x="1188.6" y="1153.2"/>
<use href="#q" x="1188.6" y="1155.5"/>
<use href="#q" x="1188.6" y="1167.4"/>
<use href="#q" x="1188.6" y="1219.6"/>
<use href="#q" x="1191.0" y="1219.6"/>
<use href="#q" x="1191.0" y="1221.9"/>
<use href="#q" x="1191.0" y="1224.3"/>
<use href="#q" x="1193.4" y="1217.2"/>
<use href="#q" x="1193.4" y="1219.6"/>
<use href="#q" x="1193.4" y="1221.9"/>
<use href="#q" x="1193.4" y="1224.3"/>
<use href="#q" x="1195.7" y="1212.5"/>
<use href="#q" x="1195.7" y="1214.8"/>
<use href="#q" x="1195.7" y="1217.2"/>
<use href="#q" x="1195.7" y="1219.6"/>
<use href="#q" x="1195.7" y="1221.9"/>
<use href="#q" x="1195.7" y="1224.3"/>
<use href="#q" x="1195.7" y="1226.7"/>
<use href="#q" x="1198.1" y="1186.4"/>
<use href="#q" x="1198.1" y="1212.5"/>
<use href="#q" x="1198.1" y="1214.8"/>
<use href="#q" x="1198.1" y="1217.2"/>
<use href="#q" x="1198.1" y="1219.6"/>
<use href="#q" x="1198.1" y="1221.9"/>
<use href="#q" x="1198.1" y="1224.3"/>
<use href="#q" x="1198.1" y="1226.7"/>
<use href="#q" x="1198.1" y="1229.1"/>
<use href="#q" x="1200.5" y="1212.5"/>
<use href="#q" x="1200.5" y="1214.8"/>
<use href="#q" x="1200.5" y="1217.2"/>
<use href="#q" x="1200.5" y="1219.6"/>
<use href="#q" x="1200.5" y="1221.9"/>
<use href="#q" x="1200.5" y="1224.3"/>
<use href="#q" x="1200.5" y="1226.7"/>
<use href="#q" x="1200.5" y="1229.1"/>
<use href="#q" x="1202.9" y="1217.2"/>
<use href="#q" x="1202.9" y="1219.6"/>
<use href="#q" x="1202.9" y="1221.9"/>
<use href="#q" x="1202.9" y="1224.3"/>
<use href="#q" x="1202.9" y="1226.7"/>
<use href="#q" x="1202.9" y="1229.1"/>
<use href="#q" x="1205.2" y="1174.5"/>
<use href="#q" x="1205.2" y="1219.6"/>
<use href="#q" x="1205.2" y="1221.9"/>
<use href="#q" x="1205.2" y="1224.3"/>
<use href="#q" x="1205.2" y="1226.7"/>
<use href="#q" x="1205.2" y="1229.1"/>
<use href="#q" x="1207.6" y="1186.4"/>
<use href="#q" x="1228.9" y="1288.3"/>
<use href="#q" x="1231.3" y="1288.3"/>
<use href="#q" x="1231.3" y="1387.9"/>
<use href="#q" x="1236.1" y="1084.4"/>
<use href="#q" x="1236.1" y="1089.1"/>
<use href="#q" x="1236.1" y="1098.6"/>
<use href="#q" x="1236.1" y="1376.1"/>
<use href="#q" x="1238.4" y="1089.1"/>
<use href="#q" x="1238.4" y="1091.5"/>
<use href="#q" x="1238.4" y="1093.9"/>
<use href="#q" x="1238.4" y="1096.3"/>
<use href="#q" x="1238.4" y="1098.6"/>
<use href="#q" x="1238.4" y="1221.9"/>
<use href="#q" x="1238.4" y="1231.4"/>
<use href="#q" x="1238.4" y="1295.5"/>
<use href="#q" x="1238.4" y="1380.8"/>
<use href="#q" x="1238.4" y="1385.6"/>
<use href="#q" x="1240.8" y="1091.5"/>
<use href="#q" x="1240.8" y="1093.9"/>
<use href="#q" x="1240.8" y="1096.3"/>
<use href="#q" x="1240.8" y="1231.4"/>
<use href="#q" x="1243.2" y="1091.5"/>
<use href="#q" x="1243.2" y="1093.9"/>
<use href="#q" x="1243.2" y="1096.3"/>
<use href="#q" x="1243.2" y="1098.6"/>
<use href="#q" x="1245.5" y="1098.6"/>
<use href="#q" x="1255.0" y="1245.7"/>
<use href="#q" x="1255.0" y="1376.1"/>
<use href="#q" x="1257.4" y="1098.6"/>
<use href="#q" x="1257.4" y="1224.3"/>
<use href="#q" x="1257.4" y="1245.7"/>
<use href="#q" x="1257.4" y="1300.2"/>
<use href="#q" x="1259.8" y="1224.3"/>
<use href="#q" x="1259.8" y="1238.5"/>
<use href="#q" x="1262.1" y="1229.1"/>
<use href="#q" x="1262.1" y="1233.8"/>
<use href="#q" x="1262.1" y="1240.9"/>
<use href="#q" x="1262.1" y="1290.7"/>
<use href="#q" x="1262.1" y="1383.2"/>
<use href="#q" x="1264.5" y="1096.3"/>
<use href="#q" x="1264.5" y="1115.2"/>
<use href="#q" x="1264.5" y="1233.8"/>
<use href="#q" x="1266.9" y="1233.8"/>
<use href="#q" x="1266.9" y="1288.3"/>
<use href="#q" x="1266.9" y="1300.2"/>
<use href="#q" x="1276.4" y="1108.1"/>
<use href="#q" x="1276.4" y="1117.6"/>
<use href="#q" x="1302.5" y="1105.7"/>
<use href="#q" x="1302.5" y="1108.1"/>
<use href="#q" x="1302.5" y="1110.5"/>
<use href="#q" x="1304.8" y="1105.7"/>
<use href="#q" x="1304.8" y="1108.1"/>
<use href="#q" x="1304.8" y="1110.5"/>
<use href="#q" x="1307.2" y="1103.4"/>
<use href="#q" x="1307.2" y="1105.7"/>
<use href="#q" x="1307.2" y="1108.1"/>
<use href="#q" x="1307.2" y="1110.5"/>
<use href="#q" x="1307.2" y="1112.9"/>
<use href="#q" x="1309.6" y="1098.6"/>
<use href="#q" x="1309.6" y="1101.0"/>
<use href="#q" x="1309.6" y="1103.4"/>
<use href="#q" x="1309.6" y="1105.7"/>
<use href="#q" x="1309.6" y="1108.1"/>
<use href="#q" x="1309.6" y="1110.5"/>
<use href="#q" x="1309.6" y="1112.9"/>
<use href="#q" x="1309.6" y="1115.2"/>
<use href="#q" x="1311.9" y="1096.3"/>
<use href="#q" x="1311.9" y="1101.0"/>
<use href="#q" x="1311.9" y="1103.4"/>
<use href="#q" x="1311.9" y="1105.7"/>
<use href="#q" x="1311.9" y="1108.1"/>
<use href="#q" x="1311.9" y="1110.5"/>
<use href="#q" x="1311.9" y="1112.9"/>
<use href="#q" x="1311.9" y="1115.2"/>
<use href="#q" x="1311.9" y="1148.4"/>
<use href="#q" x="1314.3" y="1101.0"/>
<use href="#q" x="1314.3" y="1103.4"/>
<use href="#q" x="1314.3" y="1105.7"/>
<use href="#q" x="1314.3" y="1108.1"/>
<use href="#q" x="1314.3" y="1110.5"/>
<use href="#q" x="1314.3" y="1112.9"/>
<use href="#q" x="1314.3" y="1115.2"/>
<use href="#q" x="1314.3" y="1167.4"/>
<use href="#q" x="1314.3" y="1169.8"/>
<use href="#q" x="1316.7" y="1105.7"/>
<use href="#q" x="1316.7" y="1108.1"/>
<use href="#q" x="1316.7" y="1110.5"/>
<use href="#q" x="1316.7" y="1112.9"/>
<use href="#q" x="1316.7" y="1115.2"/>
<use href="#q" x="1319.1" y="1108.1"/>
<use href="#q" x="1319.1" y="1110.5"/>
<use href="#q" x="1319.1" y="1112.9"/>
<use href="#q" x="1319.1" y="1115.2"/>
<use href="#q" x="1319.1" y="1172.1"/>
<use href="#q" x="1321.4" y="1148.4"/>
<use href="#q" x="1321.4" y="1150.8"/>
<use href="#q" x="1323.8" y="1172.1"/>
<use href="#q" x="1323.8" y="1174.5"/>
<use href="#q" x="1323.8" y="1176.9"/>
<use href="#q" x="1328.5" y="1169.8"/>
<use href="#q" x="1330.9" y="1172.1"/>
<use href="#q" x="1333.3" y="1020.4"/>
<use href="#q" x="1333.3" y="1022.7"/>
<use href="#q" x="1335.7" y="1165.0"/>
<use href="#q" x="1335.7" y="1167.4"/>
<use href="#q" x="1338.0" y="1067.8"/>
<use href="#q" x="1338.0" y="1070.2"/>
<use href="#q" x="1338.0" y="1385.6"/>
<use href="#q" x="1340.4" y="1067.8"/>
<use href="#q" x="1342.8" y="1065.4"/>
<use href="#q" x="1342.8" y="1067.8"/>
<use href="#q" x="1345.1" y="1063.1"/>
<use href="#q" x="1345.1" y="1065.4"/>
<use href="#q" x="1345.1" y="1067.8"/>
<use href="#q" x="1345.1" y="1070.2"/>
<use href="#q" x="1345.1" y="1378.5"/>
<use href="#q" x="1347.5" y="1060.7"/>
<use href="#q" x="1347.5" y="1063.1"/>
<use href="#q" x="1347.5" y="1065.4"/>
<use href="#q" x="1347.5" y="1067.8"/>
<use href="#q" x="1347.5" y="1070.2"/>
<use href="#q" x="1347.5" y="1072.5"/>
<use href="#q" x="1347.5" y="1312.1"/>
<use href="#q" x="1349.9" y="1034.6"/>
<use href="#q" x="1349.9" y="1055.9"/>
<use href="#q" x="1349.9" y="1058.3"/>
<use href="#q" x="1349.9" y="1060.7"/>
<use href="#q" x="1349.9" y="1063.1"/>
<use href="#q" x="1349.9" y="1065.4"/>
<use href="#q" x="1349.9" y="1067.8"/>
<use href="#q" x="1349.9" y="1070.2"/>
<use href="#q" x="1349.9" y="1072.5"/>
<use href="#q" x="1352.3" y="1034.6"/>
<use href="#q" x="1352.3" y="1055.9"/>
<use href="#q" x="1352.3" y="1058.3"/>
<use href="#q" x="1352.3" y="1060.7"/>
<use href="#q" x="1352.3" y="1063.1"/>
<use href="#q" x="1352.3" y="1065.4"/>
<use href="#q" x="1352.3" y="1067.8"/>
<use href="#q" x="1352.3" y="1070.2"/>
<use href="#q" x="1352.3" y="1072.5"/>
<use href="#q" x="1352.3" y="1074.9"/>
<use href="#q" x="1352.3" y="1404.5"/>
<use href="#q" x="1354.6" y="1058.3"/>
<use href="#q" x="1354.6" y="1060.7"/>
<use href="#q" x="1354.6" y="1063.1"/>
<use href="#q" x="1354.6" y="1065.4"/>
<use href="#q" x="1354.6" y="1067.8"/>
<use href="#q" x="1354.6" y="1070.2"/>
<use href="#q" x="1354.6" y="1072.5"/>
<use href="#q" x="1354.6" y="1399.8"/>
<use href="#q" x="1357.0" y="1018.0"/>
<use href="#q" x="1357.0" y="1020.4"/>
<use href="#q" x="1357.0" y="1034.6"/>
<use href="#q" x="1357.0" y="1063.1"/>
<use href="#q" x="1357.0" y="1065.4"/>
<use href="#q" x="1357.0" y="1067.8"/>
<use href="#q" x="1357.0" y="1070.2"/>
<use href="#q" x="1357.0" y="1072.5"/>
<use href="#q" x="1359.4" y="1020.4"/>
<use href="#q" x="1359.4" y="1067.8"/>
<use href="#q" x="1359.4" y="1070.2"/>
<use href="#q" x="1364.1" y="1010.9"/>
<use href="#q" x="1364.1" y="1034.6"/>
<use href="#q" x="1364.1" y="1037.0"/>
<use href="#q" x="1364.1" y="1392.7"/>
<use href="#q" x="1366.5" y="1010.9"/>
<use href="#q" x="1366.5" y="1020.4"/>
<use href="#q" x="1368.9" y="1397.4"/>
<use href="#q" x="1373.6" y="1010.9"/>
<use href="#q" x="1373.6" y="1020.4"/>
<use href="#q" x="1373.6" y="1022.7"/>
<use href="#q" x="1373.6" y="1390.3"/>
<use href="#q" x="1376.0" y="1387.9"/>
<use href="#q" x="1378.3" y="1138.9"/>
<use href="#q" x="1378.3" y="1141.3"/>
<use href="#q" x="1378.3" y="1176.9"/>
<use href="#q" x="1378.3" y="1385.6"/>
<use href="#q" x="1380.7" y="1172.1"/>
<use href="#q" x="1380.7" y="1383.2"/>
<use href="#q" x="1383.1" y="1380.8"/>
<use href="#q" x="1385.5" y="1148.4"/>
<use href="#q" x="1385.5" y="1380.8"/>
<use href="#q" x="1387.8" y="1070.2"/>
<use href="#q" x="1387.8" y="1079.7"/>
<use href="#q" x="1387.8" y="1378.5"/>
<use href="#q" x="1390.2" y="1167.4"/>
<use href="#q" x="1390.2" y="1176.9"/>
<use href="#q" x="1390.2" y="1376.1"/>
<use href="#q" x="1392.6" y="1373.7"/>
<use href="#q" x="1394.9" y="1371.3"/>
<use href="#q" x="1397.3" y="1369.0"/>
<use href="#q" x="1399.7" y="1366.6"/>
<use href="#q" x="1402.1" y="1257.5"/>
<use href="#q" x="1456.6" y="1309.7"/>
<use href="#q" x="1459.0" y="1307.3"/>
<use href="#q" x="1461.3" y="1304.9"/>
<use href="#q" x="1463.7" y="1302.6"/>
<use href="#q" x="1466.1" y="1084.4"/>
<use href="#q" x="1466.1" y="1086.8"/>
<use href="#q" x="1466.1" y="1091.5"/>
<use href="#q" x="1466.1" y="1146.1"/>
<use href="#q" x="1466.1" y="1165.0"/>
<use href="#q" x="1466.1" y="1300.2"/>
<use href="#q" x="1468.5" y="1079.7"/>
<use href="#q" x="1468.5" y="1084.4"/>
<use href="#q" x="1468.5" y="1086.8"/>
<use href="#q" x="1468.5" y="1089.1"/>
<use href="#q" x="1468.5" y="1255.1"/>
<use href="#q" x="1468.5" y="1297.8"/>
<use href="#q" x="1470.8" y="1084.4"/>
<use href="#q" x="1470.8" y="1086.8"/>
<use href="#q" x="1470.8" y="1089.1"/>
<use href="#q" x="1470.8" y="1148.4"/>
<use href="#q" x="1470.8" y="1293.1"/>
<use href="#q" x="1470.8" y="1295.5"/>
<use href="#q" x="1473.2" y="1082.0"/>
<use href="#q" x="1473.2" y="1084.4"/>
<use href="#q" x="1473.2" y="1091.5"/>
<use href="#q" x="1473.2" y="1172.1"/>
<use href="#q" x="1473.2" y="1290.7"/>
<use href="#q" x="1475.6" y="1070.2"/>
<use href="#q" x="1475.6" y="1148.4"/>
<use href="#q" x="1475.6" y="1248.0"/>
<use href="#q" x="1475.6" y="1288.3"/>
<use href="#q" x="1477.9" y="1141.3"/>
<use href="#q" x="1477.9" y="1286.0"/>
<use href="#q" x="1480.3" y="1283.6"/>
<use href="#q" x="1482.7" y="1274.1"/>
<use href="#q" x="1485.1" y="1074.9"/>
<use href="#q" x="1487.4" y="1278.9"/>
<use href="#q" x="1489.8" y="1264.6"/>
<use href="#q" x="1494.5" y="1055.9"/>
<use href="#q" x="1494.5" y="1262.3"/>
<use href="#q" x="1496.9" y="1051.2"/>
<use href="#q" x="1496.9" y="1070.2"/>
<use href="#q" x="1506.4" y="1055.9"/>
<use href="#q" x="1515.9" y="1079.7"/>
</g>
<g class="t">
<use href="#r" x="429.7" y="268.6"/>
<use href="#r" x="439.2" y="289.9"/>
<use href="#r" x="441.6" y="287.6"/>
<use href="#r" x="441.6" y="294.7"/>
<use href="#r" x="444.0" y="285.2"/>
<use href="#r" x="446.3" y="280.5"/>
<use href="#r" x="446.3" y="294.7"/>
<use href="#r" x="448.7" y="294.7"/>
<use href="#r" x="448.7" y="297.1"/>
<use href="#r" x="451.1" y="292.3"/>
<use href="#r" x="451.1" y="294.7"/>
<use href="#r" x="453.5" y="289.9"/>
<use href="#r" x="455.8" y="287.6"/>
<use href="#r" x="455.8" y="292.3"/>
<use href="#r" x="455.8" y="294.7"/>
<use href="#r" x="458.2" y="292.3"/>
<use href="#r" x="460.6" y="285.2"/>
<use href="#r" x="460.6" y="292.3"/>
<use href="#r" x="462.9" y="280.5"/>
<use href="#r" x="462.9" y="289.9"/>
<use href="#r" x="465.3" y="278.1"/>
<use href="#r" x="467.7" y="275.7"/>
<use href="#r" x="467.7" y="287.6"/>
<use href="#r" x="472.4" y="273.3"/>
<use href="#r" x="472.4" y="285.2"/>
<use href="#r" x="474.8" y="268.6"/>
<use href="#r" x="481.9" y="275.7"/>
<use href="#r" x="512.7" y="335.0"/>
<use href="#r" x="515.1" y="337.4"/>
<use href="#r" x="515.1" y="339.7"/>
<use href="#r" x="515.1" y="342.1"/>
<use href="#r" x="517.5" y="339.7"/>
<use href="#r" x="517.5" y="342.1"/>
<use href="#r" x="519.9" y="342.1"/>
<use href="#r" x="519.9" y="344.5"/>
<use href="#r" x="522.2" y="344.5"/>
<use href="#r" x="522.2" y="346.9"/>
<use href="#r" x="524.6" y="346.9"/>
<use href="#r" x="524.6" y="349.2"/>
<use href="#r" x="524.6" y="351.6"/>
<use href="#r" x="524.6" y="368.2"/>
<use href="#r" x="527.0" y="349.2"/>
<use href="#r" x="527.0" y="351.6"/>
<use href="#r" x="527.0" y="354.0"/>
<use href="#r" x="527.0" y="356.3"/>
<use href="#r" x="527.0" y="358.7"/>
<use href="#r" x="527.0" y="361.1"/>
<use href="#r" x="527.0" y="363.5"/>
<use href="#r" x="527.0" y="365.8"/>
<use href="#r" x="527.0" y="368.2"/>
<use href="#r" x="527.0" y="370.6"/>
<use href="#r" x="529.3" y="349.2"/>
<use href="#r" x="529.3" y="351.6"/>
<use href="#r" x="529.3" y="354.0"/>
<use href="#r" x="529.3" y="356.3"/>
<use href="#r" x="529.3" y="358.7"/>
<use href="#r" x="529.3" y="361.1"/>
<use href="#r" x="529.3" y="363.5"/>
<use href="#r" x="529.3" y="365.8"/>
<use href="#r" x="529.3" y="368.2"/>
<use href="#r" x="529.3" y="370.6"/>
<use href="#r" x="529.3" y="372.9"/>
<use href="#r" x="529.3" y="375.3"/>
<use href="#r" x="529.3" y="377.7"/>
<use href="#r" x="531.7" y="351.6"/>
<use href="#r" x="531.7" y="354.0"/>
<use href="#r" x="531.7" y="356.3"/>
<use href="#r" x="531.7" y="358.7"/>
<use href="#r" x="531.7" y="361.1"/>
<use href="#r" x="531.7" y="363.5"/>
<use href="#r" x="531.7" y="365.8"/>
<use href="#r" x="531.7" y="368.2"/>
<use href="#r" x="531.7" y="370.6"/>
<use href="#r" x="531.7" y="372.9"/>
<use href="#r" x="531.7" y="375.3"/>
<use href="#r" x="531.7" y="377.7"/>
<use href="#r" x="534.1" y="354.0"/>
<use href="#r" x="534.1" y="356.3"/>
<use href="#r" x="534.1" y="358.7"/>
<use href="#r" x="534.1" y="361.1"/>
<use href="#r" x="534.1" y="363.5"/>
<use href="#r" x="534.1" y="365.8"/>
<use href="#r" x="534.1" y="368.2"/>
<use href="#r" x="534.1" y="370.6"/>
<use href="#r" x="534.1" y="372.9"/>
<use href="#r" x="534.1" y="375.3"/>
<use href="#r" x="534.1" y="377.7"/>
<use href="#r" x="534.1" y="380.1"/>
<use href="#r" x="534.1" y="382.4"/>
<use href="#r" x="534.1" y="384.8"/>
<use href="#r" x="536.5" y="356.3"/>
<use href="#r" x="536.5" y="358.7"/>
<use href="#r" x="536.5" y="361.1"/>
<use href="#r" x="536.5" y="363.5"/>
<use href="#r" x="536.5" y="365.8"/>
<use href="#r" x="536.5" y="368.2"/>
<use href="#r" x="536.5" y="370.6"/>
<use href="#r" x="536.5" y="372.9"/>
<use href="#r" x="536.5" y="375.3"/>
<use href="#r" x="536.5" y="377.7"/>
<use href="#r" x="536.5" y="380.1"/>
<use href="#r" x="536.5" y="382.4"/>
<use href="#r" x="536.5" y="384.8"/>
<use href="#r" x="536.5" y="387.2"/>
<use href="#r" x="536.5" y="389.5"/>
<use href="#r" x="538.8" y="356.3"/>
<use href="#r" x="538.8" y="358.7"/>
<use href="#r" x="538.8" y="361.1"/>
<use href="#r" x="538.8" y="363.5"/>
<use href="#r" x="538.8" y="365.8"/>
<use href="#r" x="538.8" y="368.2"/>
<use href="#r" x="538.8" y="370.6"/>
<use href="#r" x="538.8" y="372.9"/>
<use href="#r" x="538.8" y="375.3"/>
<use href="#r" x="538.8" y="377.7"/>
<use href="#r" x="538.8" y="380.1"/>
<use href="#r" x="538.8" y="382.4"/>
<use href="#r" x="538.8" y="384.8"/>
<use href="#r" x="538.8" y="387.2"/>
<use href="#r" x="538.8" y="389.5"/>
<use href="#r" x="541.2" y="280.5"/>
<use href="#r" x="541.2" y="285.2"/>
<use href="#r" x="541.2" y="289.9"/>
<use href="#r" x="541.2" y="356.3"/>
<use href="#r" x="541.2" y="358.7"/>
<use href="#r" x="541.2" y="361.1"/>
<use href="#r" x="541.2" y="363.5"/>
<use href="#r" x="541.2" y="365.8"/>
<use href="#r" x="541.2" y="368.2"/>
<use href="#r" x="541.2" y="370.6"/>
<use href="#r" x="541.2" y="372.9"/>
<use href="#r" x="541.2" y="375.3"/>
<use href="#r" x="541.2" y="377.7"/>
<use href="#r" x="541.2" y="380.1"/>
<use href="#r" x="541.2" y="382.4"/>
<use href="#r" x="541.2" y="384.8"/>
<use href="#r" x="541.2" y="387.2"/>
<use href="#r" x="541.2" y="389.5"/>
<use href="#r" x="541.2" y="391.9"/>
<use href="#r" x="543.6" y="358.7"/>
<use href="#r" x="543.6" y="361.1"/>
<use href="#r" x="543.6" y="363.5"/>
<use href="#r" x="543.6" y="365.8"/>
<use href="#r" x="543.6" y="368.2"/>
<use href="#r" x="543.6" y="370.6"/>
<use href="#r" x="543.6" y="372.9"/>
<use href="#r" x="543.6" y="375.3"/>
<use href="#r" x="543.6" y="377.7"/>
<use href="#r" x="543.6" y="380.1"/>
<use href="#r" x="543.6" y="382.4"/>
<use href="#r" x="543.6" y="384.8"/>
<use href="#r" x="543.6" y="387.2"/>
<use href="#r" x="543.6" y="389.5"/>
<use href="#r" x="543.6" y="391.9"/>
<use href="#r" x="543.6" y="394.3"/>
<use href="#r" x="545.9" y="280.5"/>
<use href="#r" x="545.9" y="358.7"/>
<use href="#r" x="545.9" y="361.1"/>
<use href="#r" x="545.9" y="363.5"/>
<use href="#r" x="545.9" y="365.8"/>
<use href="#r" x="545.9" y="368.2"/>
<use href="#r" x="545.9" y="370.6"/>
<use href="#r" x="545.9" y="372.9"/>
<use href="#r" x="545.9" y="375.3"/>
<use href="#r" x="545.9" y="377.7"/>
<use href="#r" x="545.9" y="380.1"/>
<use href="#r" x="545.9" y="382.4"/>
<use href="#r" x="545.9" y="384.8"/>
<use href="#r" x="545.9" y="387.2"/>
<use href="#r" x="545.9" y="389.5"/>
<use href="#r" x="545.9" y="391.9"/>
<use href="#r" x="545.9" y="394.3"/>
<use href="#r" x="545.9" y="396.7"/>
<use href="#r" x="548.3" y="278.1"/>
<use href="#r" x="548.3" y="282.8"/>
<use href="#r" x="548.3" y="285.2"/>
<use href="#r" x="548.3" y="358.7"/>
<use href="#r" x="548.3" y="361.1"/>
<use href="#r" x="548.3" y="363.5"/>
<use href="#r" x="548.3" y="365.8"/>
<use href="#r" x="548.3" y="368.2"/>
<use href="#r" x="548.3" y="370.6"/>
<use href="#r" x="548.3" y="372.9"/>
<use href="#r" x="548.3" y="375.3"/>
<use href="#r" x="548.3" y="377.7"/>
<use href="#r" x="548.3" y="380.1"/>
<use href="#r" x="548.3" y="382.4"/>
<use href="#r" x="548.3" y="384.8"/>
<use href="#r" x="548.3" y="387.2"/>
<use href="#r" x="548.3" y="389.5"/>
<use href="#r" x="548.3" y="391.9"/>
<use href="#r" x="548.3" y="394.3"/>
<use href="#r" x="548.3" y="396.7"/>
<use href="#r" x="550.7" y="365.8"/>
<use href="#r" x="550.7" y="368.2"/>
<use href="#r" x="550.7" y="370.6"/>
<use href="#r" x="550.7" y="372.9"/>
<use href="#r" x="550.7" y="375.3"/>
<use href="#r" x="550.7" y="377.7"/>
<use href="#r" x="550.7" y="380.1"/>
<use href="#r" x="550.7" y="382.4"/>
<use href="#r" x="550.7" y="384.8"/>
<use href="#r" x="550.7" y="387.2"/>
<use href="#r" x="550.7" y="389.5"/>
<use href="#r" x="550.7" y="391.9"/>
<use href="#r" x="550.7" y="394.3"/>
<use href="#r" x="550.7" y="396.7"/>
<use href="#r" x="550.7" y="399.0"/>
<use href="#r" x="553.1" y="280.5"/>
<use href="#r" x="553.1" y="368.2"/>
<use href="#r" x="553.1" y="370.6"/>
<use href="#r" x="553.1" y="372.9"/>
<use href="#r" x="553.1" y="375.3"/>
<use href="#r" x="553.1" y="377.7"/>
<use href="#r" x="553.1" y="380.1"/>
<use href="#r" x="553.1" y="382.4"/>
<use href="#r" x="553.1" y="384.8"/>
<use href="#r" x="553.1" y="387.2"/>
<use href="#r" x="553.1" y="389.5"/>
<use href="#r" x="553.1" y="391.9"/>
<use href="#r" x="553.1" y="394.3"/>
<use href="#r" x="553.1" y="396.7"/>
<use href="#r" x="553.1" y="399.0"/>
<use href="#r" x="553.1" y="401.4"/>
<use href="#r" x="555.4" y="372.9"/>
<use href="#r" x="555.4" y="375.3"/>
<use href="#r" x="555.4" y="377.7"/>
<use href="#r" x="555.4" y="380.1"/>
<use href="#r" x="555.4" y="382.4"/>
<use href="#r" x="555.4" y="384.8"/>
<use href="#r" x="555.4" y="387.2"/>
<use href="#r" x="555.4" y="389.5"/>
<use href="#r" x="555.4" y="391.9"/>
<use href="#r" x="555.4" y="394.3"/>
<use href="#r" x="555.4" y="396.7"/>
<use href="#r" x="555.4" y="399.0"/>
<use href="#r" x="555.4" y="401.4"/>
<use href="#r" x="555.4" y="403.8"/>
<use href="#r" x="557.8" y="278.1"/>
<use href="#r" x="557.8" y="285.2"/>
<use href="#r" x="557.8" y="377.7"/>
<use href="#r" x="557.8" y="380.1"/>
<use href="#r" x="557.8" y="382.4"/>
<use href="#r" x="557.8" y="384.8"/>
<use href="#r" x="557.8" y="387.2"/>
<use href="#r" x="557.8" y="389.5"/>
<use href="#r" x="557.8" y="391.9"/>
<use href="#r" x="557.8" y="394.3"/>
<use href="#r" x="557.8" y="396.7"/>
<use href="#r" x="557.8" y="399.0"/>
<use href="#r" x="557.8" y="401.4"/>
<use href="#r" x="557.8" y="403.8"/>
<use href="#r" x="557.8" y="406.1"/>
<use href="#r" x="560.2" y="382.4"/>
<use href="#r" x="560.2" y="384.8"/>
<use href="#r" x="560.2" y="387.2"/>
<use href="#r" x="560.2" y="389.5"/>
<use href="#r" x="560.2" y="391.9"/>
<use href="#r" x="560.2" y="394.3"/>
<use href="#r" x="560.2" y="396.7"/>
<use href="#r" x="560.2" y="399.0"/>
<use href="#r" x="560.2" y="401.4"/>
<use href="#r" x="560.2" y="403.8"/>
<use href="#r" x="560.2" y="406.1"/>
<use href="#r" x="560.2" y="408.5"/>
<use href="#r" x="560.2" y="410.9"/>
<use href="#r" x="562.5" y="384.8"/>
<use href="#r" x="562.5" y="387.2"/>
<use href="#r" x="562.5" y="389.5"/>
<use href="#r" x="562.5" y="391.9"/>
<use href="#r" x="562.5" y="394.3"/>
<use href="#r" x="562.5" y="396.7"/>
<use href="#r" x="562.5" y="399.0"/>
<use href="#r" x="562.5" y="401.4"/>
<use href="#r" x="562.5" y="403.8"/>
<use href="#r" x="562.5" y="406.1"/>
<use href="#r" x="562.5" y="408.5"/>
<use href="#r" x="562.5" y="410.9"/>
<use href="#r" x="564.9" y="387.2"/>
<use href="#r" x="564.9" y="396.7"/>
<use href="#r" x="564.9" y="399.0"/>
<use href="#r" x="564.9" y="401.4"/>
<use href="#r" x="564.9" y="403.8"/>
<use href="#r" x="564.9" y="406.1"/>
<use href="#r" x="564.9" y="408.5"/>
<use href="#r" x="564.9" y="410.9"/>
<use href="#r" x="564.9" y="413.3"/>
<use href="#r" x="567.3" y="401.4"/>
<use href="#r" x="567.3" y="403.8"/>
<use href="#r" x="567.3" y="406.1"/>
<use href="#r" x="567.3" y="408.5"/>
<use href="#r" x="567.3" y="410.9"/>
<use href="#r" x="567.3" y="413.3"/>
<use href="#r" x="567.3" y="415.6"/>
<use href="#r" x="569.7" y="337.4"/>
<use href="#r" x="569.7" y="339.7"/>
<use href="#r" x="569.7" y="342.1"/>
<use href="#r" x="569.7" y="406.1"/>
<use href="#r" x="569.7" y="408.5"/>
<use href="#r" x="569.7" y="410.9"/>
<use href="#r" x="569.7" y="413.3"/>
<use href="#r" x="569.7" y="415.6"/>
<use href="#r" x="569.7" y="418.0"/>
<use href="#r" x="572.0" y="337.4"/>
<use href="#r" x="572.0" y="342.1"/>
<use href="#r" x="572.0" y="408.5"/>
<use href="#r" x="572.0" y="410.9"/>
<use href="#r" x="572.0" y="413.3"/>
<use href="#r" x="572.0" y="415.6"/>
<use href="#r" x="572.0" y="418.0"/>
<use href="#r" x="572.0" y="420.4"/>
<use href="#r" x="574.4" y="339.7"/>
<use href="#r" x="574.4" y="344.5"/>
<use href="#r" x="574.4" y="413.3"/>
<use href="#r" x="574.4" y="415.6"/>
<use href="#r" x="574.4" y="418.0"/>
<use href="#r" x="574.4" y="420.4"/>
<use href="#r" x="574.4" y="422.7"/>
<use href="#r" x="576.8" y="418.0"/>
<use href="#r" x="576.8" y="420.4"/>
<use href="#r" x="576.8" y="422.7"/>
<use href="#r" x="576.8" y="425.1"/>
<use href="#r" x="576.8" y="427.5"/>
<use href="#r" x="579.1" y="420.4"/>
<use href="#r" x="579.1" y="422.7"/>
<use href="#r" x="579.1" y="425.1"/>
<use href="#r" x="579.1" y="427.5"/>
<use href="#r" x="579.1" y="429.9"/>
<use href="#r" x="581.5" y="425.1"/>
<use href="#r" x="581.5" y="427.5"/>
<use href="#r" x="581.5" y="429.9"/>
<use href="#r" x="581.5" y="432.2"/>
<use href="#r" x="583.9" y="427.5"/>
<use href="#r" x="583.9" y="429.9"/>
<use href="#r" x="583.9" y="432.2"/>
<use href="#r" x="583.9" y="434.6"/>
<use href="#r" x="586.3" y="432.2"/>
<use href="#r" x="586.3" y="434.6"/>
<use href="#r" x="586.3" y="437.0"/>
<use href="#r" x="588.6" y="432.2"/>
<use href="#r" x="588.6" y="434.6"/>
<use href="#r" x="588.6" y="437.0"/>
<use href="#r" x="588.6" y="439.3"/>
<use href="#r" x="591.0" y="434.6"/>
<use href="#r" x="591.0" y="437.0"/>
<use href="#r" x="591.0" y="439.3"/>
<use href="#r" x="591.0" y="441.7"/>
<use href="#r" x="593.4" y="434.6"/>
<use href="#r" x="593.4" y="437.0"/>
<use href="#r" x="593.4" y="439.3"/>
<use href="#r" x="593.4" y="441.7"/>
<use href="#r" x="593.4" y="444.1"/>
<use href="#r" x="595.7" y="437.0"/>
<use href="#r" x="595.7" y="439.3"/>
<use href="#r" x="595.7" y="441.7"/>
<use href="#r" x="595.7" y="444.1"/>
<use href="#r" x="595.7" y="446.5"/>
<use href="#r" x="595.7" y="448.8"/>
<use href="#r" x="598.1" y="434.6"/>
<use href="#r" x="598.1" y="437.0"/>
<use href="#r" x="598.1" y="439.3"/>
<use href="#r" x="598.1" y="441.7"/>
<use href="#r" x="598.1" y="444.1"/>
<use href="#r" x="598.1" y="446.5"/>
<use href="#r" x="598.1" y="448.8"/>
<use href="#r" x="598.1" y="451.2"/>
<use href="#r" x="600.5" y="439.3"/>
<use href="#r" x="600.5" y="441.7"/>
<use href="#r" x="600.5" y="444.1"/>
<use href="#r" x="600.5" y="446.5"/>
<use href="#r" x="600.5" y="448.8"/>
<use href="#r" x="600.5" y="451.2"/>
<use href="#r" x="600.5" y="453.6"/>
<use href="#r" x="602.9" y="441.7"/>
<use href="#r" x="602.9" y="444.1"/>
<use href="#r" x="602.9" y="446.5"/>
<use href="#r" x="602.9" y="448.8"/>
<use href="#r" x="602.9" y="451.2"/>
<use href="#r" x="602.9" y="453.6"/>
<use href="#r" x="602.9" y="455.9"/>
<use href="#r" x="605.2" y="444.1"/>
<use href="#r" x="605.2" y="446.5"/>
<use href="#r" x="605.2" y="448.8"/>
<use href="#r" x="605.2" y="451.2"/>
<use href="#r" x="605.2" y="453.6"/>
<use href="#r" x="605.2" y="455.9"/>
<use href="#r" x="605.2" y="458.3"/>
<use href="#r" x="607.6" y="446.5"/>
<use href="#r" x="607.6" y="448.8"/>
<use href="#r" x="607.6" y="451.2"/>
<use href="#r" x="607.6" y="453.6"/>
<use href="#r" x="607.6" y="455.9"/>
<use href="#r" x="607.6" y="458.3"/>
<use href="#r" x="607.6" y="460.7"/>
<use href="#r" x="610.0" y="448.8"/>
<use href="#r" x="610.0" y="451.2"/>
<use href="#r" x="610.0" y="453.6"/>
<use href="#r" x="610.0" y="455.9"/>
<use href="#r" x="610.0" y="458.3"/>
<use href="#r" x="610.0" y="460.7"/>
<use href="#r" x="610.0" y="463.1"/>
<use href="#r" x="610.0" y="465.4"/>
<use href="#r" x="612.3" y="451.2"/>
<use href="#r" x="612.3" y="453.6"/>
<use href="#r" x="612.3" y="455.9"/>
<use href="#r" x="612.3" y="458.3"/>
<use href="#r" x="612.3" y="460.7"/>
<use href="#r" x="612.3" y="463.1"/>
<use href="#r" x="614.7" y="453.6"/>
<use href="#r" x="614.7" y="455.9"/>
<use href="#r" x="614.7" y="458.3"/>
<use href="#r" x="614.7" y="460.7"/>
<use href="#r" x="614.7" y="463.1"/>
<use href="#r" x="617.1" y="455.9"/>
<use href="#r" x="617.1" y="458.3"/>
<use href="#r" x="617.1" y="460.7"/>
<use href="#r" x="617.1" y="463.1"/>
<use href="#r" x="619.5" y="425.1"/>
<use href="#r" x="619.5" y="455.9"/>
<use href="#r" x="619.5" y="465.4"/>
<use href="#r" x="624.2" y="427.5"/>
<use href="#r" x="626.6" y="427.5"/>
<use href="#r" x="650.3" y="493.9"/>
<use href="#r" x="652.7" y="432.2"/>
<use href="#r" x="652.7" y="434.6"/>
<use href="#r" x="652.7" y="437.0"/>
<use href="#r" x="652.7" y="441.7"/>
<use href="#r" x="655.0" y="434.6"/>
<use href="#r" x="655.0" y="491.5"/>
<use href="#r" x="657.4" y="434.6"/>
<use href="#r" x="657.4" y="489.1"/>
<use href="#r" x="659.8" y="434.6"/>
<use href="#r" x="659.8" y="508.1"/>
<use href="#r" x="662.2" y="432.2"/>
<use href="#r" x="662.2" y="434.6"/>
<use href="#r" x="662.2" y="489.1"/>
<use href="#r" x="664.5" y="432.2"/>
<use href="#r" x="664.5" y="434.6"/>
<use href="#r" x="664.5" y="486.8"/>
<use href="#r" x="664.5" y="491.5"/>
<use href="#r" x="666.9" y="429.9"/>
<use href="#r" x="666.9" y="432.2"/>
<use href="#r" x="666.9" y="434.6"/>
<use href="#r" x="669.3" y="387.2"/>
<use href="#r" x="669.3" y="427.5"/>
<use href="#r" x="669.3" y="429.9"/>
<use href="#r" x="669.3" y="432.2"/>
<use href="#r" x="669.3" y="434.6"/>
<use href="#r" x="669.3" y="486.8"/>
<use href="#r" x="671.6" y="427.5"/>
<use href="#r" x="671.6" y="429.9"/>
<use href="#r" x="671.6" y="432.2"/>
<use href="#r" x="671.6" y="434.6"/>
<use href="#r" x="671.6" y="484.4"/>
<use href="#r" x="674.0" y="427.5"/>
<use href="#r" x="674.0" y="429.9"/>
<use href="#r" x="674.0" y="432.2"/>
<use href="#r" x="674.0" y="434.6"/>
<use href="#r" x="676.4" y="422.7"/>
<use href="#r" x="676.4" y="425.1"/>
<use href="#r" x="676.4" y="427.5"/>
<use href="#r" x="676.4" y="429.9"/>
<use href="#r" x="676.4" y="432.2"/>
<use href="#r" x="676.4" y="434.6"/>
<use href="#r" x="676.4" y="437.0"/>
<use href="#r" x="676.4" y="482.0"/>
<use href="#r" x="676.4" y="522.3"/>
<use href="#r" x="678.8" y="420.4"/>
<use href="#r" x="678.8" y="425.1"/>
<use href="#r" x="678.8" y="427.5"/>
<use href="#r" x="678.8" y="429.9"/>
<use href="#r" x="678.8" y="432.2"/>
<use href="#r" x="678.8" y="434.6"/>
<use href="#r" x="678.8" y="437.0"/>
<use href="#r" x="681.1" y="415.6"/>
<use href="#r" x="681.1" y="422.7"/>
<use href="#r" x="681.1" y="425.1"/>
<use href="#r" x="681.1" y="427.5"/>
<use href="#r" x="681.1" y="429.9"/>
<use href="#r" x="681.1" y="432.2"/>
<use href="#r" x="681.1" y="434.6"/>
<use href="#r" x="681.1" y="437.0"/>
<use href="#r" x="681.1" y="484.4"/>
<use href="#r" x="683.5" y="410.9"/>
<use href="#r" x="683.5" y="420.4"/>
<use href="#r" x="683.5" y="422.7"/>
<use href="#r" x="683.5" y="425.1"/>
<use href="#r" x="683.5" y="427.5"/>
<use href="#r" x="683.5" y="429.9"/>
<use href="#r" x="683.5" y="432.2"/>
<use href="#r" x="683.5" y="434.6"/>
<use href="#r" x="683.5" y="437.0"/>
<use href="#r" x="683.5" y="484.4"/>
<use href="#r" x="685.9" y="422.7"/>
<use href="#r" x="685.9" y="425.1"/>
<use href="#r" x="685.9" y="427.5"/>
<use href="#r" x="685.9" y="429.9"/>
<use href="#r" x="685.9" y="432.2"/>
<use href="#r" x="685.9" y="434.6"/>
<use href="#r" x="685.9" y="437.0"/>
<use href="#r" x="685.9" y="534.2"/>
<use href="#r" x="688.2" y="406.1"/>
<use href="#r" x="688.2" y="415.6"/>
<use href="#r" x="688.2" y="420.4"/>
<use href="#r" x="688.2" y="422.7"/>
<use href="#r" x="688.2" y="425.1"/>
<use href="#r" x="688.2" y="427.5"/>
<use href="#r" x="688.2" y="429.9"/>
<use href="#r" x="688.2" y="432.2"/>
<use href="#r" x="688.2" y="434.6"/>
<use href="#r" x="688.2" y="437.0"/>
<use href="#r" x="688.2" y="484.4"/>
<use href="#r" x="690.6" y="401.4"/>
<use href="#r" x="690.6" y="410.9"/>
<use href="#r" x="690.6" y="418.0"/>
<use href="#r" x="690.6" y="420.4"/>
<use href="#r" x="690.6" y="422.7"/>
<use href="#r" x="690.6" y="425.1"/>
<use href="#r" x="690.6" y="427.5"/>
<use href="#r" x="690.6" y="429.9"/>
<use href="#r" x="690.6" y="432.2"/>
<use href="#r" x="690.6" y="434.6"/>
<use href="#r" x="690.6" y="437.0"/>
<use href="#r" x="690.6" y="439.3"/>
<use href="#r" x="690.6" y="484.4"/>
<use href="#r" x="690.6" y="534.2"/>
<use href="#r" x="693.0" y="396.7"/>
<use href="#r" x="693.0" y="406.1"/>
<use href="#r" x="693.0" y="422.7"/>
<use href="#r" x="693.0" y="425.1"/>
<use href="#r" x="693.0" y="427.5"/>
<use href="#r" x="693.0" y="429.9"/>
<use href="#r" x="693.0" y="432.2"/>
<use href="#r" x="693.0" y="434.6"/>
<use href="#r" x="693.0" y="437.0"/>
<use href="#r" x="693.0" y="439.3"/>
<use href="#r" x="693.0" y="486.8"/>
<use href="#r" x="693.0" y="536.6"/>
<use href="#r" x="695.4" y="391.9"/>
<use href="#r" x="695.4" y="401.4"/>
<use href="#r" x="695.4" y="425.1"/>
<use href="#r" x="695.4" y="427.5"/>
<use href="#r" x="695.4" y="429.9"/>
<use href="#r" x="695.4" y="432.2"/>
<use href="#r" x="695.4" y="434.6"/>
<use href="#r" x="695.4" y="437.0"/>
<use href="#r" x="695.4" y="439.3"/>
<use href="#r" x="695.4" y="486.8"/>
<use href="#r" x="695.4" y="489.1"/>
<use href="#r" x="695.4" y="491.5"/>
<use href="#r" x="697.7" y="384.8"/>
<use href="#r" x="697.7" y="387.2"/>
<use href="#r" x="697.7" y="389.5"/>
<use href="#r" x="697.7" y="391.9"/>
<use href="#r" x="697.7" y="394.3"/>
<use href="#r" x="697.7" y="396.7"/>
<use href="#r" x="697.7" y="427.5"/>
<use href="#r" x="697.7" y="429.9"/>
<use href="#r" x="697.7" y="432.2"/>
<use href="#r" x="697.7" y="434.6"/>
<use href="#r" x="697.7" y="437.0"/>
<use href="#r" x="697.7" y="439.3"/>
<use href="#r" x="700.1" y="377.7"/>
<use href="#r" x="700.1" y="380.1"/>
<use href="#r" x="700.1" y="382.4"/>
<use href="#r" x="700.1" y="384.8"/>
<use href="#r" x="700.1" y="387.2"/>
<use href="#r" x="700.1" y="389.5"/>
<use href="#r" x="700.1" y="391.9"/>
<use href="#r" x="700.1" y="394.3"/>
<use href="#r" x="700.1" y="396.7"/>
<use href="#r" x="700.1" y="432.2"/>
<use href="#r" x="700.1" y="434.6"/>
<use href="#r" x="700.1" y="437.0"/>
<use href="#r" x="700.1" y="439.3"/>
<use href="#r" x="700.1" y="441.7"/>
<use href="#r" x="700.1" y="453.6"/>
<use href="#r" x="702.5" y="380.1"/>
<use href="#r" x="702.5" y="382.4"/>
<use href="#r" x="702.5" y="384.8"/>
<use href="#r" x="702.5" y="387.2"/>
<use href="#r" x="702.5" y="389.5"/>
<use href="#r" x="702.5" y="391.9"/>
<use href="#r" x="702.5" y="394.3"/>
<use href="#r" x="702.5" y="396.7"/>
<use href="#r" x="702.5" y="399.0"/>
<use href="#r" x="702.5" y="401.4"/>
<use href="#r" x="702.5" y="432.2"/>
<use href="#r" x="702.5" y="434.6"/>
<use href="#r" x="702.5" y="437.0"/>
<use href="#r" x="702.5" y="439.3"/>
<use href="#r" x="702.5" y="441.7"/>
<use href="#r" x="702.5" y="444.1"/>
<use href="#r" x="704.8" y="377.7"/>
<use href="#r" x="704.8" y="380.1"/>
<use href="#r" x="704.8" y="382.4"/>
<use href="#r" x="704.8" y="384.8"/>
<use href="#r" x="704.8" y="387.2"/>
<use href="#r" x="704.8" y="389.5"/>
<use href="#r" x="704.8" y="391.9"/>
<use href="#r" x="704.8" y="394.3"/>
<use href="#r" x="704.8" y="396.7"/>
<use href="#r" x="704.8" y="399.0"/>
<use href="#r" x="707.2" y="380.1"/>
<use href="#r" x="707.2" y="382.4"/>
<use href="#r" x="707.2" y="384.8"/>
<use href="#r" x="707.2" y="387.2"/>
<use href="#r" x="707.2" y="389.5"/>
<use href="#r" x="707.2" y="391.9"/>
<use href="#r" x="707.2" y="394.3"/>
<use href="#r" x="707.2" y="396.7"/>
<use href="#r" x="707.2" y="399.0"/>
<use href="#r" x="709.6" y="380.1"/>
<use href="#r" x="709.6" y="382.4"/>
<use href="#r" x="709.6" y="384.8"/>
<use href="#r" x="709.6" y="387.2"/>
<use href="#r" x="709.6" y="389.5"/>
<use href="#r" x="709.6" y="391.9"/>
<use href="#r" x="709.6" y="394.3"/>
<use href="#r" x="709.6" y="396.7"/>
<use href="#r" x="709.6" y="399.0"/>
<use href="#r" x="712.0" y="380.1"/>
<use href="#r" x="712.0" y="382.4"/>
<use href="#r" x="712.0" y="384.8"/>
<use href="#r" x="712.0" y="387.2"/>
<use href="#r" x="712.0" y="389.5"/>
<use href="#r" x="712.0" y="391.9"/>
<use href="#r" x="712.0" y="394.3"/>
<use href="#r" x="712.0" y="396.7"/>
<use href="#r" x="714.3" y="380.1"/>
<use href="#r" x="714.3" y="382.4"/>
<use href="#r" x="714.3" y="384.8"/>
<use href="#r" x="714.3" y="387.2"/>
<use href="#r" x="714.3" y="389.5"/>
<use href="#r" x="714.3" y="391.9"/>
<use href="#r" x="714.3" y="394.3"/>
<use href="#r" x="714.3" y="396.7"/>
<use href="#r" x="716.7" y="380.1"/>
<use href="#r" x="716.7" y="382.4"/>
<use href="#r" x="716.7" y="384.8"/>
<use href="#r" x="716.7" y="387.2"/>
<use href="#r" x="716.7" y="389.5"/>
<use href="#r" x="716.7" y="391.9"/>
<use href="#r" x="716.7" y="394.3"/>
<use href="#r" x="716.7" y="396.7"/>
<use href="#r" x="719.1" y="380.1"/>
<use href="#r" x="719.1" y="382.4"/>
<use href="#r" x="719.1" y="384.8"/>
<use href="#r" x="719.1" y="387.2"/>
<use href="#r" x="719.1" y="389.5"/>
<use href="#r" x="719.1" y="391.9"/>
<use href="#r" x="719.1" y="394.3"/>
<use href="#r" x="719.1" y="396.7"/>
<use href="#r" x="719.1" y="399.0"/>
<use href="#r" x="721.4" y="377.7"/>
<use href="#r" x="721.4" y="380.1"/>
<use href="#r" x="721.4" y="382.4"/>
<use href="#r" x="721.4" y="384.8"/>
<use href="#r" x="721.4" y="387.2"/>
<use href="#r" x="721.4" y="389.5"/>
<use href="#r" x="721.4" y="391.9"/>
<use href="#r" x="721.4" y="394.3"/>
<use href="#r" x="721.4" y="444.1"/>
<use href="#r" x="723.8" y="375.3"/>
<use href="#r" x="723.8" y="377.7"/>
<use href="#r" x="723.8" y="380.1"/>
<use href="#r" x="723.8" y="382.4"/>
<use href="#r" x="723.8" y="384.8"/>
<use href="#r" x="723.8" y="387.2"/>
<use href="#r" x="723.8" y="389.5"/>
<use href="#r" x="723.8" y="391.9"/>
<use href="#r" x="723.8" y="394.3"/>
<use href="#r" x="726.2" y="377.7"/>
<use href="#r" x="726.2" y="380.1"/>
<use href="#r" x="726.2" y="382.4"/>
<use href="#r" x="726.2" y="384.8"/>
<use href="#r" x="726.2" y="387.2"/>
<use href="#r" x="726.2" y="389.5"/>
<use href="#r" x="726.2" y="394.3"/>
<use href="#r" x="728.6" y="377.7"/>
<use href="#r" x="728.6" y="380.1"/>
<use href="#r" x="728.6" y="382.4"/>
<use href="#r" x="728.6" y="384.8"/>
<use href="#r" x="728.6" y="387.2"/>
<use href="#r" x="730.9" y="375.3"/>
<use href="#r" x="730.9" y="377.7"/>
<use href="#r" x="730.9" y="380.1"/>
<use href="#r" x="730.9" y="382.4"/>
<use href="#r" x="730.9" y="384.8"/>
<use href="#r" x="730.9" y="444.1"/>
<use href="#r" x="733.3" y="375.3"/>
<use href="#r" x="733.3" y="377.7"/>
<use href="#r" x="733.3" y="380.1"/>
<use href="#r" x="733.3" y="382.4"/>
<use href="#r" x="735.7" y="375.3"/>
<use href="#r" x="735.7" y="377.7"/>
<use href="#r" x="735.7" y="380.1"/>
<use href="#r" x="738.0" y="344.5"/>
<use href="#r" x="738.0" y="375.3"/>
<use href="#r" x="738.0" y="377.7"/>
<use href="#r" x="740.4" y="344.5"/>
<use href="#r" x="740.4" y="375.3"/>
<use href="#r" x="742.8" y="375.3"/>
<use href="#r" x="745.2" y="289.9"/>
<use href="#r" x="745.2" y="292.3"/>
<use href="#r" x="745.2" y="299.4"/>
<use href="#r" x="745.2" y="342.1"/>
<use href="#r" x="745.2" y="375.3"/>
<use href="#r" x="747.5" y="289.9"/>
<use href="#r" x="747.5" y="292.3"/>
<use href="#r" x="747.5" y="294.7"/>
<use href="#r" x="747.5" y="297.1"/>
<use href="#r" x="747.5" y="299.4"/>
<use href="#r" x="747.5" y="342.1"/>
<use href="#r" x="749.9" y="292.3"/>
<use href="#r" x="749.9" y="294.7"/>
<use href="#r" x="749.9" y="297.1"/>
<use href="#r" x="749.9" y="299.4"/>
<use href="#r" x="752.3" y="292.3"/>
<use href="#r" x="752.3" y="294.7"/>
<use href="#r" x="752.3" y="297.1"/>
<use href="#r" x="752.3" y="299.4"/>
<use href="#r" x="752.3" y="339.7"/>
<use href="#r" x="754.6" y="289.9"/>
<use href="#r" x="754.6" y="292.3"/>
<use href="#r" x="754.6" y="294.7"/>
<use href="#r" x="754.6" y="297.1"/>
<use href="#r" x="754.6" y="299.4"/>
<use href="#r" x="754.6" y="339.7"/>
<use href="#r" x="757.0" y="289.9"/>
<use href="#r" x="757.0" y="299.4"/>
<use href="#r" x="757.0" y="337.4"/>
<use href="#r" x="761.8" y="337.4"/>
<use href="#r" x="764.1" y="332.6"/>
<use href="#r" x="764.1" y="335.0"/>
<use href="#r" x="764.1" y="337.4"/>
<use href="#r" x="764.1" y="339.7"/>
<use href="#r" x="764.1" y="342.1"/>
<use href="#r" x="764.1" y="344.5"/>
<use href="#r" x="766.5" y="299.4"/>
<use href="#r" x="766.5" y="335.0"/>
<use href="#r" x="766.5" y="337.4"/>
<use href="#r" x="766.5" y="339.7"/>
<use href="#r" x="766.5" y="342.1"/>
<use href="#r" x="768.9" y="332.6"/>
<use href="#r" x="768.9" y="335.0"/>
<use href="#r" x="768.9" y="337.4"/>
<use href="#r" x="768.9" y="339.7"/>
<use href="#r" x="768.9" y="342.1"/>
<use href="#r" x="771.2" y="335.0"/>
<use href="#r" x="771.2" y="337.4"/>
<use href="#r" x="771.2" y="339.7"/>
<use href="#r" x="771.2" y="342.1"/>
<use href="#r" x="773.6" y="332.6"/>
<use href="#r" x="773.6" y="335.0"/>
<use href="#r" x="773.6" y="337.4"/>
<use href="#r" x="773.6" y="339.7"/>
<use href="#r" x="773.6" y="342.1"/>
<use href="#r" x="776.0" y="342.1"/>
<use href="#r" x="776.0" y="344.5"/>
<use href="#r" x="785.5" y="441.7"/>
<use href="#r" x="785.5" y="444.1"/>
<use href="#r" x="785.5" y="491.5"/>
<use href="#r" x="785.5" y="572.2"/>
<use href="#r" x="787.8" y="365.8"/>
<use href="#r" x="787.8" y="375.3"/>
<use href="#r" x="787.8" y="614.8"/>
<use href="#r" x="787.8" y="638.6"/>
<use href="#r" x="787.8" y="640.9"/>
<use href="#r" x="790.2" y="617.2"/>
<use href="#r" x="790.2" y="619.6"/>
<use href="#r" x="790.2" y="622.0"/>
<use href="#r" x="790.2" y="624.3"/>
<use href="#r" x="790.2" y="626.7"/>
<use href="#r" x="790.2" y="629.1"/>
<use href="#r" x="790.2" y="631.4"/>
<use href="#r" x="790.2" y="633.8"/>
<use href="#r" x="790.2" y="636.2"/>
<use href="#r" x="790.2" y="638.6"/>
<use href="#r" x="790.2" y="640.9"/>
<use href="#r" x="792.6" y="356.3"/>
<use href="#r" x="792.6" y="370.6"/>
<use href="#r" x="792.6" y="434.6"/>
<use href="#r" x="792.6" y="451.2"/>
<use href="#r" x="792.6" y="581.6"/>
<use href="#r" x="792.6" y="614.8"/>
<use href="#r" x="792.6" y="617.2"/>
<use href="#r" x="792.6" y="619.6"/>
<use href="#r" x="792.6" y="622.0"/>
<use href="#r" x="792.6" y="624.3"/>
<use href="#r" x="792.6" y="626.7"/>
<use href="#r" x="792.6" y="629.1"/>
<use href="#r" x="792.6" y="631.4"/>
<use href="#r" x="792.6" y="633.8"/>
<use href="#r" x="792.6" y="636.2"/>
<use href="#r" x="792.6" y="638.6"/>
<use href="#r" x="792.6" y="640.9"/>
<use href="#r" x="792.6" y="643.3"/>
<use href="#r" x="795.0" y="375.3"/>
<use href="#r" x="795.0" y="441.7"/>
<use href="#r" x="795.0" y="619.6"/>
<use href="#r" x="795.0" y="622.0"/>
<use href="#r" x="795.0" y="624.3"/>
<use href="#r" x="795.0" y="626.7"/>
<use href="#r" x="795.0" y="629.1"/>
<use href="#r" x="795.0" y="631.4"/>
<use href="#r" x="795.0" y="633.8"/>
<use href="#r" x="795.0" y="636.2"/>
<use href="#r" x="795.0" y="638.6"/>
<use href="#r" x="795.0" y="640.9"/>
<use href="#r" x="795.0" y="643.3"/>
<use href="#r" x="795.0" y="645.7"/>
<use href="#r" x="795.0" y="648.0"/>
<use href="#r" x="797.3" y="365.8"/>
<use href="#r" x="797.3" y="372.9"/>
<use href="#r" x="797.3" y="444.1"/>
<use href="#r" x="797.3" y="622.0"/>
<use href="#r" x="797.3" y="624.3"/>
<use href="#r" x="797.3" y="626.7"/>
<use href="#r" x="797.3" y="629.1"/>
<use href="#r" x="797.3" y="631.4"/>
<use href="#r" x="797.3" y="633.8"/>
<use href="#r" x="797.3" y="636.2"/>
<use href="#r" x="797.3" y="638.6"/>
<use href="#r" x="797.3" y="640.9"/>
<use href="#r" x="797.3" y="643.3"/>
<use href="#r" x="797.3" y="645.7"/>
<use href="#r" x="797.3" y="648.0"/>
<use href="#r" x="799.7" y="444.1"/>
<use href="#r" x="799.7" y="448.8"/>
<use href="#r" x="799.7" y="624.3"/>
<use href="#r" x="799.7" y="626.7"/>
<use href="#r" x="799.7" y="629.1"/>
<use href="#r" x="799.7" y="631.4"/>
<use href="#r" x="799.7" y="633.8"/>
<use href="#r" x="799.7" y="636.2"/>
<use href="#r" x="799.7" y="638.6"/>
<use href="#r" x="799.7" y="640.9"/>
<use href="#r" x="799.7" y="643.3"/>
<use href="#r" x="799.7" y="645.7"/>
<use href="#r" x="799.7" y="648.0"/>
<use href="#r" x="799.7" y="650.4"/>
<use href="#r" x="802.1" y="372.9"/>
<use href="#r" x="802.1" y="441.7"/>
<use href="#r" x="802.1" y="444.1"/>
<use href="#r" x="802.1" y="451.2"/>
<use href="#r" x="802.1" y="453.6"/>
<use href="#r" x="802.1" y="626.7"/>
<use href="#r" x="802.1" y="629.1"/>
<use href="#r" x="802.1" y="631.4"/>
<use href="#r" x="802.1" y="633.8"/>
<use href="#r" x="802.1" y="636.2"/>
<use href="#r" x="802.1" y="638.6"/>
<use href="#r" x="802.1" y="640.9"/>
<use href="#r" x="802.1" y="643.3"/>
<use href="#r" x="802.1" y="645.7"/>
<use href="#r" x="802.1" y="648.0"/>
<use href="#r" x="802.1" y="650.4"/>
<use href="#r" x="804.4" y="629.1"/>
<use href="#r" x="804.4" y="631.4"/>
<use href="#r" x="804.4" y="633.8"/>
<use href="#r" x="804.4" y="636.2"/>
<use href="#r" x="804.4" y="638.6"/>
<use href="#r" x="804.4" y="640.9"/>
<use href="#r" x="804.4" y="643.3"/>
<use href="#r" x="804.4" y="645.7"/>
<use href="#r" x="804.4" y="648.0"/>
<use href="#r" x="804.4" y="650.4"/>
<use href="#r" x="804.4" y="652.8"/>
<use href="#r" x="804.4" y="655.2"/>
<use href="#r" x="806.8" y="631.4"/>
<use href="#r" x="806.8" y="633.8"/>
<use href="#r" x="806.8" y="636.2"/>
<use href="#r" x="806.8" y="638.6"/>
<use href="#r" x="806.8" y="640.9"/>
<use href="#r" x="806.8" y="643.3"/>
<use href="#r" x="806.8" y="645.7"/>
<use href="#r" x="806.8" y="648.0"/>
<use href="#r" x="806.8" y="650.4"/>
<use href="#r" x="806.8" y="652.8"/>
<use href="#r" x="806.8" y="655.2"/>
<use href="#r" x="809.2" y="633.8"/>
<use href="#r" x="809.2" y="636.2"/>
<use href="#r" x="809.2" y="638.6"/>
<use href="#r" x="809.2" y="640.9"/>
<use href="#r" x="809.2" y="643.3"/>
<use href="#r" x="809.2" y="645.7"/>
<use href="#r" x="809.2" y="648.0"/>
<use href="#r" x="809.2" y="650.4"/>
<use href="#r" x="809.2" y="652.8"/>
<use href="#r" x="809.2" y="655.2"/>
<use href="#r" x="811.6" y="636.2"/>
<use href="#r" x="811.6" y="638.6"/>
<use href="#r" x="811.6" y="640.9"/>
<use href="#r" x="811.6" y="643.3"/>
<use href="#r" x="811.6" y="645.7"/>
<use href="#r" x="811.6" y="648.0"/>
<use href="#r" x="811.6" y="650.4"/>
<use href="#r" x="811.6" y="652.8"/>
<use href="#r" x="811.6" y="655.2"/>
<use href="#r" x="811.6" y="657.5"/>
<use href="#r" x="813.9" y="638.6"/>
<use href="#r" x="813.9" y="640.9"/>
<use href="#r" x="813.9" y="643.3"/>
<use href="#r" x="813.9" y="645.7"/>
<use href="#r" x="813.9" y="648.0"/>
<use href="#r" x="813.9" y="650.4"/>
<use href="#r" x="813.9" y="652.8"/>
<use href="#r" x="813.9" y="655.2"/>
<use href="#r" x="813.9" y="657.5"/>
<use href="#r" x="816.3" y="640.9"/>
<use href="#r" x="816.3" y="643.3"/>
<use href="#r" x="816.3" y="645.7"/>
<use href="#r" x="816.3" y="648.0"/>
<use href="#r" x="816.3" y="650.4"/>
<use href="#r" x="816.3" y="652.8"/>
<use href="#r" x="816.3" y="655.2"/>
<use href="#r" x="816.3" y="657.5"/>
<use href="#r" x="816.3" y="659.9"/>
<use href="#r" x="818.7" y="640.9"/>
<use href="#r" x="818.7" y="643.3"/>
<use href="#r" x="818.7" y="645.7"/>
<use href="#r" x="818.7" y="648.0"/>
<use href="#r" x="818.7" y="650.4"/>
<use href="#r" x="818.7" y="652.8"/>
<use href="#r" x="818.7" y="655.2"/>
<use href="#r" x="818.7" y="657.5"/>
<use href="#r" x="818.7" y="659.9"/>
<use href="#r" x="821.0" y="645.7"/>
<use href="#r" x="821.0" y="648.0"/>
<use href="#r" x="821.0" y="650.4"/>
<use href="#r" x="821.0" y="652.8"/>
<use href="#r" x="821.0" y="655.2"/>
<use href="#r" x="821.0" y="657.5"/>
<use href="#r" x="821.0" y="659.9"/>
<use href="#r" x="821.0" y="662.3"/>
<use href="#r" x="823.4" y="650.4"/>
<use href="#r" x="823.4" y="652.8"/>
<use href="#r" x="823.4" y="655.2"/>
<use href="#r" x="823.4" y="657.5"/>
<use href="#r" x="823.4" y="659.9"/>
<use href="#r" x="823.4" y="662.3"/>
<use href="#r" x="823.4" y="664.6"/>
<use href="#r" x="823.4" y="674.1"/>
<use href="#r" x="825.8" y="655.2"/>
<use href="#r" x="825.8" y="657.5"/>
<use href="#r" x="825.8" y="659.9"/>
<use href="#r" x="825.8" y="662.3"/>
<use href="#r" x="825.8" y="664.6"/>
<use href="#r" x="825.8" y="667.0"/>
<use href="#r" x="825.8" y="669.4"/>
<use href="#r" x="825.8" y="671.8"/>
<use href="#r" x="825.8" y="674.1"/>
<use href="#r" x="828.2" y="657.5"/>
<use href="#r" x="828.2" y="659.9"/>
<use href="#r" x="828.2" y="662.3"/>
<use href="#r" x="828.2" y="664.6"/>
<use href="#r" x="828.2" y="667.0"/>
<use href="#r" x="828.2" y="669.4"/>
<use href="#r" x="828.2" y="671.8"/>
<use href="#r" x="828.2" y="674.1"/>
<use href="#r" x="828.2" y="676.5"/>
<use href="#r" x="830.5" y="662.3"/>
<use href="#r" x="830.5" y="664.6"/>
<use href="#r" x="830.5" y="667.0"/>
<use href="#r" x="830.5" y="669.4"/>
<use href="#r" x="830.5" y="671.8"/>
<use href="#r" x="830.5" y="674.1"/>
<use href="#r" x="830.5" y="676.5"/>
<use href="#r" x="830.5" y="678.9"/>
<use href="#r" x="832.9" y="667.0"/>
<use href="#r" x="832.9" y="669.4"/>
<use href="#r" x="832.9" y="671.8"/>
<use href="#r" x="832.9" y="674.1"/>
<use href="#r" x="832.9" y="676.5"/>
<use href="#r" x="832.9" y="678.9"/>
<use href="#r" x="832.9" y="681.2"/>
<use href="#r" x="835.3" y="337.4"/>
<use href="#r" x="835.3" y="339.7"/>
<use href="#r" x="835.3" y="342.1"/>
<use href="#r" x="835.3" y="667.0"/>
<use href="#r" x="835.3" y="669.4"/>
<use href="#r" x="835.3" y="671.8"/>
<use href="#r" x="835.3" y="674.1"/>
<use href="#r" x="835.3" y="676.5"/>
<use href="#r" x="835.3" y="678.9"/>
<use href="#r" x="835.3" y="681.2"/>
<use href="#r" x="835.3" y="683.6"/>
<use href="#r" x="835.3" y="686.0"/>
<use href="#r" x="837.6" y="674.1"/>
<use href="#r" x="837.6" y="676.5"/>
<use href="#r" x="837.6" y="678.9"/>
<use href="#r" x="837.6" y="681.2"/>
<use href="#r" x="837.6" y="683.6"/>
<use href="#r" x="837.6" y="686.0"/>
<use href="#r" x="837.6" y="688.4"/>
<use href="#r" x="840.0" y="676.5"/>
<use href="#r" x="840.0" y="678.9"/>
<use href="#r" x="840.0" y="681.2"/>
<use href="#r" x="840.0" y="683.6"/>
<use href="#r" x="840.0" y="686.0"/>
<use href="#r" x="840.0" y="688.4"/>
<use href="#r" x="840.0" y="690.7"/>
<use href="#r" x="842.4" y="681.2"/>
<use href="#r" x="842.4" y="683.6"/>
<use href="#r" x="842.4" y="686.0"/>
<use href="#r" x="842.4" y="688.4"/>
<use href="#r" x="842.4" y="690.7"/>
<use href="#r" x="842.4" y="693.1"/>
<use href="#r" x="844.8" y="683.6"/>
<use href="#r" x="844.8" y="686.0"/>
<use href="#r" x="844.8" y="688.4"/>
<use href="#r" x="844.8" y="690.7"/>
<use href="#r" x="844.8" y="693.1"/>
<use href="#r" x="844.8" y="695.5"/>
<use href="#r" x="844.8" y="697.8"/>
<use href="#r" x="847.1" y="686.0"/>
<use href="#r" x="847.1" y="688.4"/>
<use href="#r" x="847.1" y="690.7"/>
<use href="#r" x="847.1" y="693.1"/>
<use href="#r" x="847.1" y="695.5"/>
<use href="#r" x="847.1" y="697.8"/>
<use href="#r" x="849.5" y="688.4"/>
<use href="#r" x="849.5" y="690.7"/>
<use href="#r" x="849.5" y="693.1"/>
<use href="#r" x="849.5" y="695.5"/>
<use href="#r" x="851.9" y="690.7"/>
<use href="#r" x="851.9" y="693.1"/>
<use href="#r" x="851.9" y="695.5"/>
<use href="#r" x="851.9" y="697.8"/>
<use href="#r" x="854.2" y="437.0"/>
<use href="#r" x="854.2" y="560.3"/>
<use href="#r" x="854.2" y="690.7"/>
<use href="#r" x="854.2" y="693.1"/>
<use href="#r" x="854.2" y="695.5"/>
<use href="#r" x="854.2" y="697.8"/>
<use href="#r" x="856.6" y="562.7"/>
<use href="#r" x="856.6" y="567.4"/>
<use href="#r" x="856.6" y="690.7"/>
<use href="#r" x="856.6" y="693.1"/>
<use href="#r" x="859.0" y="690.7"/>
<use href="#r" x="859.0" y="693.1"/>
<use href="#r" x="896.9" y="380.1"/>
<use href="#r" x="896.9" y="690.7"/>
<use href="#r" x="899.3" y="498.6"/>
<use href="#r" x="901.7" y="437.0"/>
<use href="#r" x="901.7" y="508.1"/>
<use href="#r" x="901.7" y="695.5"/>
<use href="#r" x="904.0" y="752.4"/>
<use href="#r" x="904.0" y="754.8"/>
<use href="#r" x="906.4" y="752.4"/>
<use href="#r" x="906.4" y="754.8"/>
<use href="#r" x="908.8" y="562.7"/>
<use href="#r" x="908.8" y="752.4"/>
<use href="#r" x="908.8" y="754.8"/>
<use href="#r" x="908.8" y="757.1"/>
<use href="#r" x="911.2" y="752.4"/>
<use href="#r" x="911.2" y="754.8"/>
<use href="#r" x="911.2" y="757.1"/>
<use href="#r" x="911.2" y="759.5"/>
<use href="#r" x="911.2" y="761.9"/>
<use href="#r" x="913.5" y="617.2"/>
<use href="#r" x="913.5" y="752.4"/>
<use href="#r" x="913.5" y="754.8"/>
<use href="#r" x="913.5" y="757.1"/>
<use href="#r" x="913.5" y="759.5"/>
<use href="#r" x="913.5" y="761.9"/>
<use href="#r" x="913.5" y="764.2"/>
<use href="#r" x="915.9" y="617.2"/>
<use href="#r" x="915.9" y="750.0"/>
<use href="#r" x="915.9" y="752.4"/>
<use href="#r" x="915.9" y="754.8"/>
<use href="#r" x="915.9" y="757.1"/>
<use href="#r" x="915.9" y="759.5"/>
<use href="#r" x="915.9" y="761.9"/>
<use href="#r" x="915.9" y="764.2"/>
<use href="#r" x="915.9" y="766.6"/>
<use href="#r" x="915.9" y="769.0"/>
<use href="#r" x="915.9" y="771.4"/>
<use href="#r" x="918.3" y="614.8"/>
<use href="#r" x="918.3" y="617.2"/>
<use href="#r" x="918.3" y="619.6"/>
<use href="#r" x="918.3" y="697.8"/>
<use href="#r" x="918.3" y="707.3"/>
<use href="#r" x="918.3" y="750.0"/>
<use href="#r" x="918.3" y="752.4"/>
<use href="#r" x="918.3" y="754.8"/>
<use href="#r" x="918.3" y="757.1"/>
<use href="#r" x="918.3" y="759.5"/>
<use href="#r" x="918.3" y="761.9"/>
<use href="#r" x="918.3" y="764.2"/>
<use href="#r" x="918.3" y="766.6"/>
<use href="#r" x="918.3" y="769.0"/>
<use href="#r" x="918.3" y="771.4"/>
<use href="#r" x="920.6" y="700.2"/>
<use href="#r" x="920.6" y="702.6"/>
<use href="#r" x="920.6" y="705.0"/>
<use href="#r" x="920.6" y="707.3"/>
<use href="#r" x="920.6" y="747.6"/>
<use href="#r" x="920.6" y="750.0"/>
<use href="#r" x="920.6" y="752.4"/>
<use href="#r" x="920.6" y="754.8"/>
<use href="#r" x="920.6" y="757.1"/>
<use href="#r" x="920.6" y="759.5"/>
<use href="#r" x="920.6" y="761.9"/>
<use href="#r" x="920.6" y="764.2"/>
<use href="#r" x="920.6" y="766.6"/>
<use href="#r" x="920.6" y="769.0"/>
<use href="#r" x="923.0" y="702.6"/>
<use href="#r" x="923.0" y="705.0"/>
<use href="#r" x="923.0" y="707.3"/>
<use href="#r" x="923.0" y="709.7"/>
<use href="#r" x="923.0" y="747.6"/>
<use href="#r" x="923.0" y="750.0"/>
<use href="#r" x="923.0" y="752.4"/>
<use href="#r" x="923.0" y="754.8"/>
<use href="#r" x="923.0" y="757.1"/>
<use href="#r" x="923.0" y="759.5"/>
<use href="#r" x="923.0" y="761.9"/>
<use href="#r" x="923.0" y="764.2"/>
<use href="#r" x="923.0" y="766.6"/>
<use href="#r" x="923.0" y="769.0"/>
<use href="#r" x="925.4" y="700.2"/>
<use href="#r" x="925.4" y="702.6"/>
<use href="#r" x="925.4" y="705.0"/>
<use href="#r" x="925.4" y="707.3"/>
<use href="#r" x="925.4" y="709.7"/>
<use href="#r" x="925.4" y="712.1"/>
<use href="#r" x="925.4" y="714.4"/>
<use href="#r" x="925.4" y="745.3"/>
<use href="#r" x="925.4" y="747.6"/>
<use href="#r" x="925.4" y="750.0"/>
<use href="#r" x="925.4" y="752.4"/>
<use href="#r" x="925.4" y="754.8"/>
<use href="#r" x="925.4" y="757.1"/>
<use href="#r" x="925.4" y="759.5"/>
<use href="#r" x="925.4" y="761.9"/>
<use href="#r" x="925.4" y="764.2"/>
<use href="#r" x="925.4" y="766.6"/>
<use href="#r" x="925.4" y="769.0"/>
<use href="#r" x="927.8" y="705.0"/>
<use href="#r" x="927.8" y="707.3"/>
<use href="#r" x="927.8" y="709.7"/>
<use href="#r" x="927.8" y="712.1"/>
<use href="#r" x="927.8" y="714.4"/>
<use href="#r" x="927.8" y="716.8"/>
<use href="#r" x="927.8" y="719.2"/>
<use href="#r" x="927.8" y="742.9"/>
<use href="#r" x="927.8" y="745.3"/>
<use href="#r" x="927.8" y="747.6"/>
<use href="#r" x="927.8" y="750.0"/>
<use href="#r" x="927.8" y="752.4"/>
<use href="#r" x="927.8" y="754.8"/>
<use href="#r" x="927.8" y="757.1"/>
<use href="#r" x="927.8" y="759.5"/>
<use href="#r" x="927.8" y="761.9"/>
<use href="#r" x="927.8" y="764.2"/>
<use href="#r" x="927.8" y="766.6"/>
<use href="#r" x="927.8" y="769.0"/>
<use href="#r" x="930.1" y="707.3"/>
<use href="#r" x="930.1" y="709.7"/>
<use href="#r" x="930.1" y="712.1"/>
<use href="#r" x="930.1" y="714.4"/>
<use href="#r" x="930.1" y="716.8"/>
<use href="#r" x="930.1" y="719.2"/>
<use href="#r" x="930.1" y="721.6"/>
<use href="#r" x="930.1" y="723.9"/>
<use href="#r" x="930.1" y="726.3"/>
<use href="#r" x="930.1" y="728.7"/>
<use href="#r" x="930.1" y="742.9"/>
<use href="#r" x="930.1" y="745.3"/>
<use href="#r" x="930.1" y="747.6"/>
<use href="#r" x="930.1" y="750.0"/>
<use href="#r" x="930.1" y="752.4"/>
<use href="#r" x="930.1" y="754.8"/>
<use href="#r" x="930.1" y="757.1"/>
<use href="#r" x="930.1" y="759.5"/>
<use href="#r" x="930.1" y="761.9"/>
<use href="#r" x="930.1" y="764.2"/>
<use href="#r" x="930.1" y="766.6"/>
<use href="#r" x="930.1" y="769.0"/>
<use href="#r" x="932.5" y="709.7"/>
<use href="#r" x="932.5" y="712.1"/>
<use href="#r" x="932.5" y="714.4"/>
<use href="#r" x="932.5" y="716.8"/>
<use href="#r" x="932.5" y="719.2"/>
<use href="#r" x="932.5" y="721.6"/>
<use href="#r" x="932.5" y="723.9"/>
<use href="#r" x="932.5" y="726.3"/>
<use href="#r" x="932.5" y="728.7"/>
<use href="#r" x="932.5" y="731.0"/>
<use href="#r" x="932.5" y="733.4"/>
<use href="#r" x="932.5" y="735.8"/>
<use href="#r" x="932.5" y="738.2"/>
<use href="#r" x="932.5" y="740.5"/>
<use href="#r" x="932.5" y="742.9"/>
<use href="#r" x="932.5" y="745.3"/>
<use href="#r" x="932.5" y="747.6"/>
<use href="#r" x="932.5" y="750.0"/>
<use href="#r" x="932.5" y="752.4"/>
<use href="#r" x="932.5" y="754.8"/>
<use href="#r" x="932.5" y="757.1"/>
<use href="#r" x="932.5" y="759.5"/>
<use href="#r" x="932.5" y="761.9"/>
<use href="#r" x="932.5" y="764.2"/>
<use href="#r" x="932.5" y="766.6"/>
<use href="#r" x="932.5" y="769.0"/>
<use href="#r" x="932.5" y="780.8"/>
<use href="#r" x="934.9" y="712.1"/>
<use href="#r" x="934.9" y="714.4"/>
<use href="#r" x="934.9" y="716.8"/>
<use href="#r" x="934.9" y="719.2"/>
<use href="#r" x="934.9" y="721.6"/>
<use href="#r" x="934.9" y="723.9"/>
<use href="#r" x="934.9" y="726.3"/>
<use href="#r" x="934.9" y="728.7"/>
<use href="#r" x="934.9" y="731.0"/>
<use href="#r" x="934.9" y="733.4"/>
<use href="#r" x="934.9" y="735.8"/>
<use href="#r" x="934.9" y="738.2"/>
<use href="#r" x="934.9" y="740.5"/>
<use href="#r" x="934.9" y="742.9"/>
<use href="#r" x="934.9" y="745.3"/>
<use href="#r" x="934.9" y="747.6"/>
<use href="#r" x="934.9" y="750.0"/>
<use href="#r" x="934.9" y="752.4"/>
<use href="#r" x="934.9" y="754.8"/>
<use href="#r" x="934.9" y="757.1"/>
<use href="#r" x="934.9" y="759.5"/>
<use href="#r" x="934.9" y="761.9"/>
<use href="#r" x="934.9" y="764.2"/>
<use href="#r" x="934.9" y="766.6"/>
<use href="#r" x="934.9" y="769.0"/>
<use href="#r" x="937.2" y="714.4"/>
<use href="#r" x="937.2" y="716.8"/>
<use href="#r" x="937.2" y="719.2"/>
<use href="#r" x="937.2" y="721.6"/>
<use href="#r" x="937.2" y="723.9"/>
<use href="#r" x="937.2" y="726.3"/>
<use href="#r" x="937.2" y="728.7"/>
<use href="#r" x="937.2" y="731.0"/>
<use href="#r" x="937.2" y="733.4"/>
<use href="#r" x="937.2" y="735.8"/>
<use href="#r" x="937.2" y="738.2"/>
<use href="#r" x="937.2" y="740.5"/>
<use href="#r" x="937.2" y="742.9"/>
<use href="#r" x="937.2" y="745.3"/>
<use href="#r" x="937.2" y="747.6"/>
<use href="#r" x="937.2" y="750.0"/>
<use href="#r" x="937.2" y="752.4"/>
<use href="#r" x="937.2" y="754.8"/>
<use href="#r" x="937.2" y="757.1"/>
<use href="#r" x="937.2" y="759.5"/>
<use href="#r" x="937.2" y="761.9"/>
<use href="#r" x="937.2" y="764.2"/>
<use href="#r" x="937.2" y="766.6"/>
<use href="#r" x="937.2" y="769.0"/>
<use href="#r" x="939.6" y="714.4"/>
<use href="#r" x="939.6" y="716.8"/>
<use href="#r" x="939.6" y="719.2"/>
<use href="#r" x="939.6" y="721.6"/>
<use href="#r" x="939.6" y="723.9"/>
<use href="#r" x="939.6" y="726.3"/>
<use href="#r" x="939.6" y="728.7"/>
<use href="#r" x="939.6" y="731.0"/>
<use href="#r" x="939.6" y="733.4"/>
<use href="#r" x="939.6" y="735.8"/>
<use href="#r" x="939.6" y="738.2"/>
<use href="#r" x="939.6" y="740.5"/>
<use href="#r" x="939.6" y="742.9"/>
<use href="#r" x="939.6" y="745.3"/>
<use href="#r" x="939.6" y="747.6"/>
<use href="#r" x="939.6" y="750.0"/>
<use href="#r" x="939.6" y="752.4"/>
<use href="#r" x="939.6" y="754.8"/>
<use href="#r" x="939.6" y="757.1"/>
<use href="#r" x="939.6" y="759.5"/>
<use href="#r" x="939.6" y="761.9"/>
<use href="#r" x="939.6" y="764.2"/>
<use href="#r" x="939.6" y="766.6"/>
<use href="#r" x="939.6" y="769.0"/>
<use href="#r" x="942.0" y="721.6"/>
<use href="#r" x="942.0" y="723.9"/>
<use href="#r" x="942.0" y="726.3"/>
<use href="#r" x="942.0" y="728.7"/>
<use href="#r" x="942.0" y="731.0"/>
<use href="#r" x="942.0" y="733.4"/>
<use href="#r" x="942.0" y="735.8"/>
<use href="#r" x="942.0" y="738.2"/>
<use href="#r" x="942.0" y="740.5"/>
<use href="#r" x="942.0" y="742.9"/>
<use href="#r" x="942.0" y="745.3"/>
<use href="#r" x="942.0" y="747.6"/>
<use href="#r" x="942.0" y="750.0"/>
<use href="#r" x="942.0" y="752.4"/>
<use href="#r" x="942.0" y="754.8"/>
<use href="#r" x="942.0" y="757.1"/>
<use href="#r" x="942.0" y="759.5"/>
<use href="#r" x="942.0" y="761.9"/>
<use href="#r" x="942.0" y="764.2"/>
<use href="#r" x="942.0" y="766.6"/>
<use href="#r" x="942.0" y="769.0"/>
<use href="#r" x="942.0" y="780.8"/>
<use href="#r" x="944.4" y="693.1"/>
<use href="#r" x="944.4" y="726.3"/>
<use href="#r" x="944.4" y="728.7"/>
<use href="#r" x="944.4" y="731.0"/>
<use href="#r" x="944.4" y="733.4"/>
<use href="#r" x="944.4" y="735.8"/>
<use href="#r" x="944.4" y="738.2"/>
<use href="#r" x="944.4" y="740.5"/>
<use href="#r" x="944.4" y="742.9"/>
<use href="#r" x="944.4" y="745.3"/>
<use href="#r" x="944.4" y="747.6"/>
<use href="#r" x="944.4" y="750.0"/>
<use href="#r" x="944.4" y="752.4"/>
<use href="#r" x="944.4" y="754.8"/>
<use href="#r" x="944.4" y="757.1"/>
<use href="#r" x="944.4" y="759.5"/>
<use href="#r" x="944.4" y="761.9"/>
<use href="#r" x="944.4" y="764.2"/>
<use href="#r" x="944.4" y="766.6"/>
<use href="#r" x="944.4" y="769.0"/>
<use href="#r" x="946.7" y="731.0"/>
<use href="#r" x="946.7" y="733.4"/>
<use href="#r" x="946.7" y="735.8"/>
<use href="#r" x="946.7" y="738.2"/>
<use href="#r" x="946.7" y="740.5"/>
<use href="#r" x="946.7" y="742.9"/>
<use href="#r" x="946.7" y="745.3"/>
<use href="#r" x="946.7" y="747.6"/>
<use href="#r" x="946.7" y="750.0"/>
<use href="#r" x="946.7" y="752.4"/>
<use href="#r" x="946.7" y="754.8"/>
<use href="#r" x="946.7" y="757.1"/>
<use href="#r" x="946.7" y="759.5"/>
<use href="#r" x="946.7" y="761.9"/>
<use href="#r" x="946.7" y="764.2"/>
<use href="#r" x="946.7" y="766.6"/>
<use href="#r" x="946.7" y="769.0"/>
<use href="#r" x="949.1" y="733.4"/>
<use href="#r" x="949.1" y="735.8"/>
<use href="#r" x="949.1" y="738.2"/>
<use href="#r" x="949.1" y="740.5"/>
<use href="#r" x="949.1" y="742.9"/>
<use href="#r" x="949.1" y="745.3"/>
<use href="#r" x="949.1" y="747.6"/>
<use href="#r" x="949.1" y="750.0"/>
<use href="#r" x="949.1" y="752.4"/>
<use href="#r" x="949.1" y="754.8"/>
<use href="#r" x="949.1" y="757.1"/>
<use href="#r" x="949.1" y="759.5"/>
<use href="#r" x="949.1" y="761.9"/>
<use href="#r" x="949.1" y="764.2"/>
<use href="#r" x="949.1" y="766.6"/>
<use href="#r" x="949.1" y="769.0"/>
<use href="#r" x="949.1" y="771.4"/>
<use href="#r" x="951.5" y="738.2"/>
<use href="#r" x="951.5" y="740.5"/>
<use href="#r" x="951.5" y="742.9"/>
<use href="#r" x="951.5" y="745.3"/>
<use href="#r" x="951.5" y="747.6"/>
<use href="#r" x="951.5" y="750.0"/>
<use href="#r" x="951.5" y="752.4"/>
<use href="#r" x="951.5" y="754.8"/>
<use href="#r" x="951.5" y="757.1"/>
<use href="#r" x="951.5" y="759.5"/>
<use href="#r" x="951.5" y="761.9"/>
<use href="#r" x="951.5" y="764.2"/>
<use href="#r" x="951.5" y="766.6"/>
<use href="#r" x="951.5" y="769.0"/>
<use href="#r" x="953.8" y="742.9"/>
<use href="#r" x="953.8" y="745.3"/>
<use href="#r" x="953.8" y="747.6"/>
<use href="#r" x="953.8" y="750.0"/>
<use href="#r" x="953.8" y="752.4"/>
<use href="#r" x="953.8" y="754.8"/>
<use href="#r" x="953.8" y="757.1"/>
<use href="#r" x="953.8" y="759.5"/>
<use href="#r" x="953.8" y="761.9"/>
<use href="#r" x="953.8" y="764.2"/>
<use href="#r" x="953.8" y="766.6"/>
<use href="#r" x="956.2" y="745.3"/>
<use href="#r" x="956.2" y="747.6"/>
<use href="#r" x="956.2" y="750.0"/>
<use href="#r" x="956.2" y="752.4"/>
<use href="#r" x="956.2" y="754.8"/>
<use href="#r" x="956.2" y="757.1"/>
<use href="#r" x="956.2" y="759.5"/>
<use href="#r" x="956.2" y="761.9"/>
<use href="#r" x="956.2" y="764.2"/>
<use href="#r" x="956.2" y="806.9"/>
<use href="#r" x="958.6" y="750.0"/>
<use href="#r" x="958.6" y="752.4"/>
<use href="#r" x="958.6" y="754.8"/>
<use href="#r" x="958.6" y="757.1"/>
<use href="#r" x="958.6" y="759.5"/>
<use href="#r" x="958.6" y="761.9"/>
<use href="#r" x="961.0" y="752.4"/>
<use href="#r" x="961.0" y="754.8"/>
<use href="#r" x="961.0" y="757.1"/>
<use href="#r" x="961.0" y="759.5"/>
<use href="#r" x="961.0" y="806.9"/>
<use href="#r" x="961.0" y="814.0"/>
<use href="#r" x="963.3" y="754.8"/>
<use href="#r" x="963.3" y="759.5"/>
<use href="#r" x="963.3" y="804.6"/>
<use href="#r" x="963.3" y="806.9"/>
<use href="#r" x="963.3" y="809.3"/>
<use href="#r" x="963.3" y="811.7"/>
<use href="#r" x="963.3" y="814.0"/>
<use href="#r" x="963.3" y="816.4"/>
<use href="#r" x="965.7" y="437.0"/>
<use href="#r" x="965.7" y="804.6"/>
<use href="#r" x="965.7" y="806.9"/>
<use href="#r" x="965.7" y="809.3"/>
<use href="#r" x="965.7" y="811.7"/>
<use href="#r" x="965.7" y="814.0"/>
<use href="#r" x="968.1" y="806.9"/>
<use href="#r" x="968.1" y="809.3"/>
<use href="#r" x="968.1" y="811.7"/>
<use href="#r" x="968.1" y="814.0"/>
<use href="#r" x="970.4" y="313.7"/>
<use href="#r" x="970.4" y="809.3"/>
<use href="#r" x="970.4" y="811.7"/>
<use href="#r" x="970.4" y="814.0"/>
<use href="#r" x="972.8" y="432.2"/>
<use href="#r" x="972.8" y="465.4"/>
<use href="#r" x="972.8" y="579.3"/>
<use href="#r" x="972.8" y="806.9"/>
<use href="#r" x="972.8" y="809.3"/>
<use href="#r" x="972.8" y="811.7"/>
<use href="#r" x="972.8" y="814.0"/>
<use href="#r" x="975.2" y="455.9"/>
<use href="#r" x="975.2" y="465.4"/>
<use href="#r" x="975.2" y="814.0"/>
<use href="#r" x="975.2" y="816.4"/>
<use href="#r" x="977.6" y="451.2"/>
<use href="#r" x="977.6" y="455.9"/>
<use href="#r" x="977.6" y="460.7"/>
<use href="#r" x="977.6" y="465.4"/>
<use href="#r" x="977.6" y="811.7"/>
<use href="#r" x="977.6" y="816.4"/>
<use href="#r" x="979.9" y="316.0"/>
<use href="#r" x="979.9" y="814.0"/>
<use href="#r" x="982.3" y="339.7"/>
<use href="#r" x="982.3" y="346.9"/>
<use href="#r" x="982.3" y="451.2"/>
<use href="#r" x="982.3" y="455.9"/>
<use href="#r" x="982.3" y="460.7"/>
<use href="#r" x="982.3" y="465.4"/>
<use href="#r" x="984.7" y="306.5"/>
<use href="#r" x="984.7" y="308.9"/>
<use href="#r" x="984.7" y="311.3"/>
<use href="#r" x="984.7" y="465.4"/>
<use href="#r" x="984.7" y="524.7"/>
<use href="#r" x="987.0" y="304.2"/>
<use href="#r" x="987.0" y="306.5"/>
<use href="#r" x="987.0" y="308.9"/>
<use href="#r" x="987.0" y="311.3"/>
<use href="#r" x="987.0" y="451.2"/>
<use href="#r" x="987.0" y="455.9"/>
<use href="#r" x="987.0" y="460.7"/>
<use href="#r" x="987.0" y="465.4"/>
<use href="#r" x="989.4" y="304.2"/>
<use href="#r" x="989.4" y="306.5"/>
<use href="#r" x="989.4" y="308.9"/>
<use href="#r" x="989.4" y="311.3"/>
<use href="#r" x="989.4" y="455.9"/>
<use href="#r" x="989.4" y="517.6"/>
<use href="#r" x="991.8" y="304.2"/>
<use href="#r" x="991.8" y="306.5"/>
<use href="#r" x="991.8" y="308.9"/>
<use href="#r" x="991.8" y="311.3"/>
<use href="#r" x="991.8" y="346.9"/>
<use href="#r" x="991.8" y="354.0"/>
<use href="#r" x="991.8" y="451.2"/>
<use href="#r" x="991.8" y="455.9"/>
<use href="#r" x="991.8" y="460.7"/>
<use href="#r" x="991.8" y="465.4"/>
<use href="#r" x="991.8" y="814.0"/>
<use href="#r" x="994.2" y="280.5"/>
<use href="#r" x="994.2" y="301.8"/>
<use href="#r" x="994.2" y="304.2"/>
<use href="#r" x="994.2" y="306.5"/>
<use href="#r" x="994.2" y="308.9"/>
<use href="#r" x="994.2" y="311.3"/>
<use href="#r" x="994.2" y="346.9"/>
<use href="#r" x="994.2" y="349.2"/>
<use href="#r" x="994.2" y="351.6"/>
<use href="#r" x="994.2" y="354.0"/>
<use href="#r" x="994.2" y="520.0"/>
<use href="#r" x="994.2" y="524.7"/>
<use href="#r" x="996.5" y="304.2"/>
<use href="#r" x="996.5" y="306.5"/>
<use href="#r" x="996.5" y="308.9"/>
<use href="#r" x="996.5" y="311.3"/>
<use href="#r" x="996.5" y="349.2"/>
<use href="#r" x="996.5" y="351.6"/>
<use href="#r" x="996.5" y="354.0"/>
<use href="#r" x="996.5" y="387.2"/>
<use href="#r" x="996.5" y="451.2"/>
<use href="#r" x="996.5" y="510.5"/>
<use href="#r" x="996.5" y="811.7"/>
<use href="#r" x="998.9" y="304.2"/>
<use href="#r" x="998.9" y="311.3"/>
<use href="#r" x="998.9" y="349.2"/>
<use href="#r" x="998.9" y="351.6"/>
<use href="#r" x="998.9" y="354.0"/>
<use href="#r" x="998.9" y="372.9"/>
<use href="#r" x="998.9" y="517.6"/>
<use href="#r" x="998.9" y="809.3"/>
<use href="#r" x="998.9" y="814.0"/>
<use href="#r" x="998.9" y="816.4"/>
<use href="#r" x="1001.3" y="349.2"/>
<use href="#r" x="1001.3" y="351.6"/>
<use href="#r" x="1001.3" y="354.0"/>
<use href="#r" x="1001.3" y="365.8"/>
<use href="#r" x="1001.3" y="702.6"/>
<use href="#r" x="1001.3" y="814.0"/>
<use href="#r" x="1001.3" y="816.4"/>
<use href="#r" x="1003.6" y="349.2"/>
<use href="#r" x="1003.6" y="508.1"/>
<use href="#r" x="1003.6" y="769.0"/>
<use href="#r" x="1003.6" y="806.9"/>
<use href="#r" x="1003.6" y="809.3"/>
<use href="#r" x="1003.6" y="811.7"/>
<use href="#r" x="1003.6" y="814.0"/>
<use href="#r" x="1006.0" y="380.1"/>
<use href="#r" x="1006.0" y="693.1"/>
<use href="#r" x="1006.0" y="695.5"/>
<use href="#r" x="1006.0" y="757.1"/>
<use href="#r" x="1006.0" y="761.9"/>
<use href="#r" x="1006.0" y="806.9"/>
<use href="#r" x="1006.0" y="809.3"/>
<use href="#r" x="1006.0" y="811.7"/>
<use href="#r" x="1006.0" y="814.0"/>
<use href="#r" x="1008.4" y="346.9"/>
<use href="#r" x="1008.4" y="754.8"/>
<use href="#r" x="1008.4" y="759.5"/>
<use href="#r" x="1008.4" y="806.9"/>
<use href="#r" x="1008.4" y="809.3"/>
<use href="#r" x="1008.4" y="811.7"/>
<use href="#r" x="1008.4" y="814.0"/>
<use href="#r" x="1010.8" y="318.4"/>
<use href="#r" x="1010.8" y="320.8"/>
<use href="#r" x="1010.8" y="693.1"/>
<use href="#r" x="1010.8" y="804.6"/>
<use href="#r" x="1010.8" y="806.9"/>
<use href="#r" x="1010.8" y="809.3"/>
<use href="#r" x="1010.8" y="811.7"/>
<use href="#r" x="1010.8" y="814.0"/>
<use href="#r" x="1013.1" y="311.3"/>
<use href="#r" x="1013.1" y="313.7"/>
<use href="#r" x="1013.1" y="316.0"/>
<use href="#r" x="1013.1" y="318.4"/>
<use href="#r" x="1013.1" y="320.8"/>
<use href="#r" x="1013.1" y="323.1"/>
<use href="#r" x="1013.1" y="325.5"/>
<use href="#r" x="1013.1" y="688.4"/>
<use href="#r" x="1013.1" y="754.8"/>
<use href="#r" x="1013.1" y="757.1"/>
<use href="#r" x="1013.1" y="802.2"/>
<use href="#r" x="1013.1" y="804.6"/>
<use href="#r" x="1013.1" y="806.9"/>
<use href="#r" x="1013.1" y="809.3"/>
<use href="#r" x="1013.1" y="811.7"/>
<use href="#r" x="1013.1" y="814.0"/>
<use href="#r" x="1013.1" y="816.4"/>
<use href="#r" x="1013.1" y="861.5"/>
<use href="#r" x="1013.1" y="863.8"/>
<use href="#r" x="1013.1" y="866.2"/>
<use href="#r" x="1015.5" y="301.8"/>
<use href="#r" x="1015.5" y="304.2"/>
<use href="#r" x="1015.5" y="306.5"/>
<use href="#r" x="1015.5" y="308.9"/>
<use href="#r" x="1015.5" y="311.3"/>
<use href="#r" x="1015.5" y="313.7"/>
<use href="#r" x="1015.5" y="316.0"/>
<use href="#r" x="1015.5" y="318.4"/>
<use href="#r" x="1015.5" y="320.8"/>
<use href="#r" x="1015.5" y="323.1"/>
<use href="#r" x="1015.5" y="325.5"/>
<use href="#r" x="1015.5" y="327.9"/>
<use href="#r" x="1015.5" y="330.3"/>
<use href="#r" x="1015.5" y="690.7"/>
<use href="#r" x="1015.5" y="863.8"/>
<use href="#r" x="1017.9" y="304.2"/>
<use href="#r" x="1017.9" y="306.5"/>
<use href="#r" x="1017.9" y="308.9"/>
<use href="#r" x="1017.9" y="311.3"/>
<use href="#r" x="1017.9" y="313.7"/>
<use href="#r" x="1017.9" y="316.0"/>
<use href="#r" x="1017.9" y="318.4"/>
<use href="#r" x="1017.9" y="320.8"/>
<use href="#r" x="1017.9" y="323.1"/>
<use href="#r" x="1017.9" y="325.5"/>
<use href="#r" x="1017.9" y="327.9"/>
<use href="#r" x="1017.9" y="330.3"/>
<use href="#r" x="1017.9" y="332.6"/>
<use href="#r" x="1017.9" y="335.0"/>
<use href="#r" x="1017.9" y="752.4"/>
<use href="#r" x="1017.9" y="757.1"/>
<use href="#r" x="1017.9" y="859.1"/>
<use href="#r" x="1017.9" y="861.5"/>
<use href="#r" x="1017.9" y="863.8"/>
<use href="#r" x="1020.2" y="306.5"/>
<use href="#r" x="1020.2" y="308.9"/>
<use href="#r" x="1020.2" y="311.3"/>
<use href="#r" x="1020.2" y="313.7"/>
<use href="#r" x="1020.2" y="316.0"/>
<use href="#r" x="1020.2" y="318.4"/>
<use href="#r" x="1020.2" y="320.8"/>
<use href="#r" x="1020.2" y="323.1"/>
<use href="#r" x="1020.2" y="325.5"/>
<use href="#r" x="1020.2" y="327.9"/>
<use href="#r" x="1020.2" y="330.3"/>
<use href="#r" x="1020.2" y="332.6"/>
<use href="#r" x="1020.2" y="335.0"/>
<use href="#r" x="1020.2" y="686.0"/>
<use href="#r" x="1020.2" y="690.7"/>
<use href="#r" x="1020.2" y="752.4"/>
<use href="#r" x="1020.2" y="859.1"/>
<use href="#r" x="1020.2" y="861.5"/>
<use href="#r" x="1020.2" y="863.8"/>
<use href="#r" x="1020.2" y="871.0"/>
<use href="#r" x="1022.6" y="306.5"/>
<use href="#r" x="1022.6" y="308.9"/>
<use href="#r" x="1022.6" y="311.3"/>
<use href="#r" x="1022.6" y="313.7"/>
<use href="#r" x="1022.6" y="316.0"/>
<use href="#r" x="1022.6" y="318.4"/>
<use href="#r" x="1022.6" y="320.8"/>
<use href="#r" x="1022.6" y="323.1"/>
<use href="#r" x="1022.6" y="325.5"/>
<use href="#r" x="1022.6" y="327.9"/>
<use href="#r" x="1022.6" y="330.3"/>
<use href="#r" x="1022.6" y="332.6"/>
<use href="#r" x="1022.6" y="335.0"/>
<use href="#r" x="1022.6" y="337.4"/>
<use href="#r" x="1022.6" y="754.8"/>
<use href="#r" x="1022.6" y="856.7"/>
<use href="#r" x="1022.6" y="859.1"/>
<use href="#r" x="1022.6" y="861.5"/>
<use href="#r" x="1022.6" y="863.8"/>
<use href="#r" x="1025.0" y="306.5"/>
<use href="#r" x="1025.0" y="308.9"/>
<use href="#r" x="1025.0" y="311.3"/>
<use href="#r" x="1025.0" y="313.7"/>
<use href="#r" x="1025.0" y="316.0"/>
<use href="#r" x="1025.0" y="318.4"/>
<use href="#r" x="1025.0" y="320.8"/>
<use href="#r" x="1025.0" y="323.1"/>
<use href="#r" x="1025.0" y="325.5"/>
<use href="#r" x="1025.0" y="327.9"/>
<use href="#r" x="1025.0" y="330.3"/>
<use href="#r" x="1025.0" y="332.6"/>
<use href="#r" x="1025.0" y="335.0"/>
<use href="#r" x="1025.0" y="337.4"/>
<use href="#r" x="1025.0" y="339.7"/>
<use href="#r" x="1025.0" y="342.1"/>
<use href="#r" x="1025.0" y="458.3"/>
<use href="#r" x="1025.0" y="683.6"/>
<use href="#r" x="1025.0" y="688.4"/>
<use href="#r" x="1025.0" y="750.0"/>
<use href="#r" x="1025.0" y="854.4"/>
<use href="#r" x="1025.0" y="856.7"/>
<use href="#r" x="1025.0" y="859.1"/>
<use href="#r" x="1025.0" y="861.5"/>
<use href="#r" x="1025.0" y="863.8"/>
<use href="#r" x="1027.4" y="306.5"/>
<use href="#r" x="1027.4" y="311.3"/>
<use href="#r" x="1027.4" y="313.7"/>
<use href="#r" x="1027.4" y="316.0"/>
<use href="#r" x="1027.4" y="318.4"/>
<use href="#r" x="1027.4" y="320.8"/>
<use href="#r" x="1027.4" y="323.1"/>
<use href="#r" x="1027.4" y="325.5"/>
<use href="#r" x="1027.4" y="327.9"/>
<use href="#r" x="1027.4" y="330.3"/>
<use href="#r" x="1027.4" y="332.6"/>
<use href="#r" x="1027.4" y="335.0"/>
<use href="#r" x="1027.4" y="337.4"/>
<use href="#r" x="1027.4" y="339.7"/>
<use href="#r" x="1027.4" y="854.4"/>
<use href="#r" x="1027.4" y="856.7"/>
<use href="#r" x="1027.4" y="859.1"/>
<use href="#r" x="1027.4" y="861.5"/>
<use href="#r" x="1027.4" y="863.8"/>
<use href="#r" x="1027.4" y="880.4"/>
<use href="#r" x="1029.7" y="313.7"/>
<use href="#r" x="1029.7" y="316.0"/>
<use href="#r" x="1029.7" y="318.4"/>
<use href="#r" x="1029.7" y="320.8"/>
<use href="#r" x="1029.7" y="323.1"/>
<use href="#r" x="1029.7" y="325.5"/>
<use href="#r" x="1029.7" y="327.9"/>
<use href="#r" x="1029.7" y="330.3"/>
<use href="#r" x="1029.7" y="332.6"/>
<use href="#r" x="1029.7" y="335.0"/>
<use href="#r" x="1029.7" y="337.4"/>
<use href="#r" x="1029.7" y="339.7"/>
<use href="#r" x="1029.7" y="686.0"/>
<use href="#r" x="1029.7" y="750.0"/>
<use href="#r" x="1029.7" y="852.0"/>
<use href="#r" x="1029.7" y="854.4"/>
<use href="#r" x="1029.7" y="856.7"/>
<use href="#r" x="1029.7" y="859.1"/>
<use href="#r" x="1029.7" y="861.5"/>
<use href="#r" x="1029.7" y="863.8"/>
<use href="#r" x="1029.7" y="871.0"/>
<use href="#r" x="1032.1" y="316.0"/>
<use href="#r" x="1032.1" y="318.4"/>
<use href="#r" x="1032.1" y="320.8"/>
<use href="#r" x="1032.1" y="323.1"/>
<use href="#r" x="1032.1" y="325.5"/>
<use href="#r" x="1032.1" y="327.9"/>
<use href="#r" x="1032.1" y="330.3"/>
<use href="#r" x="1032.1" y="332.6"/>
<use href="#r" x="1032.1" y="335.0"/>
<use href="#r" x="1032.1" y="337.4"/>
<use href="#r" x="1032.1" y="339.7"/>
<use href="#r" x="1032.1" y="681.2"/>
<use href="#r" x="1032.1" y="852.0"/>
<use href="#r" x="1032.1" y="854.4"/>
<use href="#r" x="1032.1" y="856.7"/>
<use href="#r" x="1032.1" y="859.1"/>
<use href="#r" x="1032.1" y="861.5"/>
<use href="#r" x="1032.1" y="863.8"/>
<use href="#r" x="1034.5" y="320.8"/>
<use href="#r" x="1034.5" y="323.1"/>
<use href="#r" x="1034.5" y="325.5"/>
<use href="#r" x="1034.5" y="327.9"/>
<use href="#r" x="1034.5" y="330.3"/>
<use href="#r" x="1034.5" y="332.6"/>
<use href="#r" x="1034.5" y="335.0"/>
<use href="#r" x="1034.5" y="337.4"/>
<use href="#r" x="1034.5" y="339.7"/>
<use href="#r" x="1034.5" y="465.4"/>
<use href="#r" x="1034.5" y="747.6"/>
<use href="#r" x="1034.5" y="849.6"/>
<use href="#r" x="1034.5" y="852.0"/>
<use href="#r" x="1034.5" y="854.4"/>
<use href="#r" x="1034.5" y="856.7"/>
<use href="#r" x="1034.5" y="859.1"/>
<use href="#r" x="1034.5" y="861.5"/>
<use href="#r" x="1034.5" y="863.8"/>
<use href="#r" x="1034.5" y="866.2"/>
<use href="#r" x="1036.8" y="323.1"/>
<use href="#r" x="1036.8" y="325.5"/>
<use href="#r" x="1036.8" y="327.9"/>
<use href="#r" x="1036.8" y="330.3"/>
<use href="#r" x="1036.8" y="332.6"/>
<use href="#r" x="1036.8" y="335.0"/>
<use href="#r" x="1036.8" y="337.4"/>
<use href="#r" x="1036.8" y="339.7"/>
<use href="#r" x="1036.8" y="847.2"/>
<use href="#r" x="1036.8" y="849.6"/>
<use href="#r" x="1036.8" y="852.0"/>
<use href="#r" x="1036.8" y="854.4"/>
<use href="#r" x="1036.8" y="856.7"/>
<use href="#r" x="1036.8" y="859.1"/>
<use href="#r" x="1036.8" y="861.5"/>
<use href="#r" x="1039.2" y="325.5"/>
<use href="#r" x="1039.2" y="327.9"/>
<use href="#r" x="1039.2" y="330.3"/>
<use href="#r" x="1039.2" y="332.6"/>
<use href="#r" x="1039.2" y="335.0"/>
<use href="#r" x="1039.2" y="337.4"/>
<use href="#r" x="1039.2" y="339.7"/>
<use href="#r" x="1039.2" y="678.9"/>
<use href="#r" x="1039.2" y="847.2"/>
<use href="#r" x="1039.2" y="849.6"/>
<use href="#r" x="1039.2" y="852.0"/>
<use href="#r" x="1039.2" y="854.4"/>
<use href="#r" x="1039.2" y="856.7"/>
<use href="#r" x="1041.6" y="330.3"/>
<use href="#r" x="1041.6" y="332.6"/>
<use href="#r" x="1041.6" y="335.0"/>
<use href="#r" x="1041.6" y="337.4"/>
<use href="#r" x="1041.6" y="339.7"/>
<use href="#r" x="1041.6" y="844.9"/>
<use href="#r" x="1041.6" y="847.2"/>
<use href="#r" x="1041.6" y="849.6"/>
<use href="#r" x="1041.6" y="852.0"/>
<use href="#r" x="1044.0" y="330.3"/>
<use href="#r" x="1044.0" y="332.6"/>
<use href="#r" x="1044.0" y="335.0"/>
<use href="#r" x="1044.0" y="337.4"/>
<use href="#r" x="1044.0" y="339.7"/>
<use href="#r" x="1046.3" y="330.3"/>
<use href="#r" x="1046.3" y="332.6"/>
<use href="#r" x="1046.3" y="335.0"/>
<use href="#r" x="1046.3" y="337.4"/>
<use href="#r" x="1046.3" y="339.7"/>
<use href="#r" x="1046.3" y="674.1"/>
<use href="#r" x="1048.7" y="330.3"/>
<use href="#r" x="1048.7" y="332.6"/>
<use href="#r" x="1048.7" y="335.0"/>
<use href="#r" x="1048.7" y="337.4"/>
<use href="#r" x="1048.7" y="339.7"/>
<use href="#r" x="1051.1" y="318.4"/>
<use href="#r" x="1051.1" y="320.8"/>
<use href="#r" x="1051.1" y="330.3"/>
<use href="#r" x="1051.1" y="332.6"/>
<use href="#r" x="1051.1" y="335.0"/>
<use href="#r" x="1051.1" y="337.4"/>
<use href="#r" x="1051.1" y="339.7"/>
<use href="#r" x="1053.4" y="316.0"/>
<use href="#r" x="1053.4" y="318.4"/>
<use href="#r" x="1053.4" y="320.8"/>
<use href="#r" x="1053.4" y="323.1"/>
<use href="#r" x="1053.4" y="330.3"/>
<use href="#r" x="1053.4" y="332.6"/>
<use href="#r" x="1053.4" y="335.0"/>
<use href="#r" x="1053.4" y="337.4"/>
<use href="#r" x="1053.4" y="339.7"/>
<use href="#r" x="1053.4" y="671.8"/>
<use href="#r" x="1055.8" y="308.9"/>
<use href="#r" x="1055.8" y="311.3"/>
<use href="#r" x="1055.8" y="313.7"/>
<use href="#r" x="1055.8" y="316.0"/>
<use href="#r" x="1055.8" y="318.4"/>
<use href="#r" x="1055.8" y="320.8"/>
<use href="#r" x="1055.8" y="323.1"/>
<use href="#r" x="1055.8" y="325.5"/>
<use href="#r" x="1055.8" y="327.9"/>
<use href="#r" x="1055.8" y="330.3"/>
<use href="#r" x="1055.8" y="332.6"/>
<use href="#r" x="1055.8" y="335.0"/>
<use href="#r" x="1055.8" y="337.4"/>
<use href="#r" x="1055.8" y="339.7"/>
<use href="#r" x="1055.8" y="695.5"/>
<use href="#r" x="1058.2" y="308.9"/>
<use href="#r" x="1058.2" y="311.3"/>
<use href="#r" x="1058.2" y="313.7"/>
<use href="#r" x="1058.2" y="316.0"/>
<use href="#r" x="1058.2" y="318.4"/>
<use href="#r" x="1058.2" y="320.8"/>
<use href="#r" x="1058.2" y="323.1"/>
<use href="#r" x="1058.2" y="325.5"/>
<use href="#r" x="1058.2" y="327.9"/>
<use href="#r" x="1058.2" y="330.3"/>
<use href="#r" x="1058.2" y="332.6"/>
<use href="#r" x="1058.2" y="335.0"/>
<use href="#r" x="1058.2" y="337.4"/>
<use href="#r" x="1058.2" y="339.7"/>
<use href="#r" x="1058.2" y="342.1"/>
<use href="#r" x="1058.2" y="482.0"/>
<use href="#r" x="1058.2" y="688.4"/>
<use href="#r" x="1058.2" y="690.7"/>
<use href="#r" x="1058.2" y="693.1"/>
<use href="#r" x="1058.2" y="754.8"/>
<use href="#r" x="1060.6" y="316.0"/>
<use href="#r" x="1060.6" y="318.4"/>
<use href="#r" x="1060.6" y="320.8"/>
<use href="#r" x="1060.6" y="323.1"/>
<use href="#r" x="1060.6" y="325.5"/>
<use href="#r" x="1060.6" y="327.9"/>
<use href="#r" x="1060.6" y="330.3"/>
<use href="#r" x="1060.6" y="332.6"/>
<use href="#r" x="1060.6" y="335.0"/>
<use href="#r" x="1060.6" y="337.4"/>
<use href="#r" x="1060.6" y="339.7"/>
<use href="#r" x="1060.6" y="342.1"/>
<use href="#r" x="1060.6" y="344.5"/>
<use href="#r" x="1060.6" y="678.9"/>
<use href="#r" x="1060.6" y="681.2"/>
<use href="#r" x="1060.6" y="683.6"/>
<use href="#r" x="1060.6" y="686.0"/>
<use href="#r" x="1060.6" y="688.4"/>
<use href="#r" x="1060.6" y="690.7"/>
<use href="#r" x="1060.6" y="693.1"/>
<use href="#r" x="1060.6" y="697.8"/>
<use href="#r" x="1060.6" y="705.0"/>
<use href="#r" x="1060.6" y="709.7"/>
<use href="#r" x="1060.6" y="716.8"/>
<use href="#r" x="1060.6" y="721.6"/>
<use href="#r" x="1060.6" y="750.0"/>
<use href="#r" x="1060.6" y="752.4"/>
<use href="#r" x="1060.6" y="754.8"/>
<use href="#r" x="1062.9" y="287.6"/>
<use href="#r" x="1062.9" y="289.9"/>
<use href="#r" x="1062.9" y="292.3"/>
<use href="#r" x="1062.9" y="294.7"/>
<use href="#r" x="1062.9" y="297.1"/>
<use href="#r" x="1062.9" y="299.4"/>
<use href="#r" x="1062.9" y="301.8"/>
<use href="#r" x="1062.9" y="323.1"/>
<use href="#r" x="1062.9" y="325.5"/>
<use href="#r" x="1062.9" y="327.9"/>
<use href="#r" x="1062.9" y="330.3"/>
<use href="#r" x="1062.9" y="332.6"/>
<use href="#r" x="1062.9" y="335.0"/>
<use href="#r" x="1062.9" y="337.4"/>
<use href="#r" x="1062.9" y="339.7"/>
<use href="#r" x="1062.9" y="342.1"/>
<use href="#r" x="1062.9" y="344.5"/>
<use href="#r" x="1062.9" y="346.9"/>
<use href="#r" x="1062.9" y="349.2"/>
<use href="#r" x="1062.9" y="351.6"/>
<use href="#r" x="1062.9" y="640.9"/>
<use href="#r" x="1062.9" y="650.4"/>
<use href="#r" x="1062.9" y="657.5"/>
<use href="#r" x="1062.9" y="664.6"/>
<use href="#r" x="1062.9" y="671.8"/>
<use href="#r" x="1062.9" y="674.1"/>
<use href="#r" x="1062.9" y="676.5"/>
<use href="#r" x="1062.9" y="678.9"/>
<use href="#r" x="1062.9" y="681.2"/>
<use href="#r" x="1062.9" y="683.6"/>
<use href="#r" x="1062.9" y="686.0"/>
<use href="#r" x="1062.9" y="688.4"/>
<use href="#r" x="1062.9" y="690.7"/>
<use href="#r" x="1062.9" y="693.1"/>
<use href="#r" x="1062.9" y="738.2"/>
<use href="#r" x="1062.9" y="742.9"/>
<use href="#r" x="1062.9" y="745.3"/>
<use href="#r" x="1062.9" y="747.6"/>
<use href="#r" x="1062.9" y="750.0"/>
<use href="#r" x="1062.9" y="752.4"/>
<use href="#r" x="1062.9" y="754.8"/>
<use href="#r" x="1065.3" y="287.6"/>
<use href="#r" x="1065.3" y="289.9"/>
<use href="#r" x="1065.3" y="292.3"/>
<use href="#r" x="1065.3" y="294.7"/>
<use href="#r" x="1065.3" y="297.1"/>
<use href="#r" x="1065.3" y="299.4"/>
<use href="#r" x="1065.3" y="301.8"/>
<use href="#r" x="1065.3" y="330.3"/>
<use href="#r" x="1065.3" y="332.6"/>
<use href="#r" x="1065.3" y="335.0"/>
<use href="#r" x="1065.3" y="337.4"/>
<use href="#r" x="1065.3" y="339.7"/>
<use href="#r" x="1065.3" y="342.1"/>
<use href="#r" x="1065.3" y="344.5"/>
<use href="#r" x="1065.3" y="346.9"/>
<use href="#r" x="1065.3" y="349.2"/>
<use href="#r" x="1065.3" y="351.6"/>
<use href="#r" x="1065.3" y="354.0"/>
<use href="#r" x="1065.3" y="356.3"/>
<use href="#r" x="1065.3" y="358.7"/>
<use href="#r" x="1065.3" y="486.8"/>
<use href="#r" x="1065.3" y="681.2"/>
<use href="#r" x="1065.3" y="683.6"/>
<use href="#r" x="1065.3" y="686.0"/>
<use href="#r" x="1065.3" y="688.4"/>
<use href="#r" x="1065.3" y="690.7"/>
<use href="#r" x="1065.3" y="693.1"/>
<use href="#r" x="1065.3" y="738.2"/>
<use href="#r" x="1065.3" y="742.9"/>
<use href="#r" x="1065.3" y="745.3"/>
<use href="#r" x="1065.3" y="747.6"/>
<use href="#r" x="1065.3" y="750.0"/>
<use href="#r" x="1065.3" y="752.4"/>
<use href="#r" x="1065.3" y="754.8"/>
<use href="#r" x="1065.3" y="882.8"/>
<use href="#r" x="1065.3" y="889.9"/>
<use href="#r" x="1065.3" y="901.8"/>
<use href="#r" x="1065.3" y="916.0"/>
<use href="#r" x="1065.3" y="918.4"/>
<use href="#r" x="1067.7" y="337.4"/>
<use href="#r" x="1067.7" y="339.7"/>
<use href="#r" x="1067.7" y="342.1"/>
<use href="#r" x="1067.7" y="344.5"/>
<use href="#r" x="1067.7" y="346.9"/>
<use href="#r" x="1067.7" y="349.2"/>
<use href="#r" x="1067.7" y="351.6"/>
<use href="#r" x="1067.7" y="354.0"/>
<use href="#r" x="1067.7" y="356.3"/>
<use href="#r" x="1067.7" y="358.7"/>
<use href="#r" x="1067.7" y="361.1"/>
<use href="#r" x="1067.7" y="363.5"/>
<use href="#r" x="1067.7" y="365.8"/>
<use href="#r" x="1067.7" y="368.2"/>
<use href="#r" x="1067.7" y="690.7"/>
<use href="#r" x="1067.7" y="693.1"/>
<use href="#r" x="1067.7" y="752.4"/>
<use href="#r" x="1067.7" y="754.8"/>
<use href="#r" x="1067.7" y="901.8"/>
<use href="#r" x="1067.7" y="904.2"/>
<use href="#r" x="1067.7" y="906.5"/>
<use href="#r" x="1067.7" y="908.9"/>
<use href="#r" x="1067.7" y="911.3"/>
<use href="#r" x="1067.7" y="913.6"/>
<use href="#r" x="1067.7" y="916.0"/>
<use href="#r" x="1067.7" y="918.4"/>
<use href="#r" x="1070.0" y="344.5"/>
<use href="#r" x="1070.0" y="346.9"/>
<use href="#r" x="1070.0" y="349.2"/>
<use href="#r" x="1070.0" y="351.6"/>
<use href="#r" x="1070.0" y="354.0"/>
<use href="#r" x="1070.0" y="356.3"/>
<use href="#r" x="1070.0" y="358.7"/>
<use href="#r" x="1070.0" y="361.1"/>
<use href="#r" x="1070.0" y="365.8"/>
<use href="#r" x="1070.0" y="368.2"/>
<use href="#r" x="1070.0" y="375.3"/>
<use href="#r" x="1070.0" y="444.1"/>
<use href="#r" x="1070.0" y="695.5"/>
<use href="#r" x="1070.0" y="754.8"/>
<use href="#r" x="1070.0" y="899.4"/>
<use href="#r" x="1070.0" y="901.8"/>
<use href="#r" x="1070.0" y="904.2"/>
<use href="#r" x="1070.0" y="906.5"/>
<use href="#r" x="1070.0" y="908.9"/>
<use href="#r" x="1070.0" y="911.3"/>
<use href="#r" x="1070.0" y="913.6"/>
<use href="#r" x="1070.0" y="916.0"/>
<use href="#r" x="1072.4" y="349.2"/>
<use href="#r" x="1072.4" y="508.1"/>
<use href="#r" x="1072.4" y="897.0"/>
<use href="#r" x="1072.4" y="899.4"/>
<use href="#r" x="1072.4" y="901.8"/>
<use href="#r" x="1072.4" y="904.2"/>
<use href="#r" x="1072.4" y="906.5"/>
<use href="#r" x="1072.4" y="908.9"/>
<use href="#r" x="1072.4" y="911.3"/>
<use href="#r" x="1072.4" y="913.6"/>
<use href="#r" x="1072.4" y="916.0"/>
<use href="#r" x="1074.8" y="508.1"/>
<use href="#r" x="1074.8" y="515.2"/>
<use href="#r" x="1074.8" y="517.6"/>
<use href="#r" x="1074.8" y="524.7"/>
<use href="#r" x="1074.8" y="892.3"/>
<use href="#r" x="1074.8" y="894.7"/>
<use href="#r" x="1074.8" y="897.0"/>
<use href="#r" x="1074.8" y="899.4"/>
<use href="#r" x="1074.8" y="901.8"/>
<use href="#r" x="1074.8" y="904.2"/>
<use href="#r" x="1074.8" y="906.5"/>
<use href="#r" x="1074.8" y="908.9"/>
<use href="#r" x="1074.8" y="911.3"/>
<use href="#r" x="1074.8" y="913.6"/>
<use href="#r" x="1074.8" y="916.0"/>
<use href="#r" x="1074.8" y="918.4"/>
<use href="#r" x="1077.2" y="508.1"/>
<use href="#r" x="1077.2" y="510.5"/>
<use href="#r" x="1077.2" y="512.9"/>
<use href="#r" x="1077.2" y="515.2"/>
<use href="#r" x="1077.2" y="894.7"/>
<use href="#r" x="1077.2" y="897.0"/>
<use href="#r" x="1077.2" y="899.4"/>
<use href="#r" x="1077.2" y="901.8"/>
<use href="#r" x="1077.2" y="904.2"/>
<use href="#r" x="1077.2" y="906.5"/>
<use href="#r" x="1077.2" y="908.9"/>
<use href="#r" x="1077.2" y="911.3"/>
<use href="#r" x="1077.2" y="913.6"/>
<use href="#r" x="1077.2" y="916.0"/>
<use href="#r" x="1077.2" y="918.4"/>
<use href="#r" x="1079.5" y="505.7"/>
<use href="#r" x="1079.5" y="508.1"/>
<use href="#r" x="1079.5" y="510.5"/>
<use href="#r" x="1079.5" y="512.9"/>
<use href="#r" x="1079.5" y="515.2"/>
<use href="#r" x="1079.5" y="892.3"/>
<use href="#r" x="1079.5" y="894.7"/>
<use href="#r" x="1079.5" y="897.0"/>
<use href="#r" x="1079.5" y="899.4"/>
<use href="#r" x="1079.5" y="901.8"/>
<use href="#r" x="1079.5" y="904.2"/>
<use href="#r" x="1079.5" y="906.5"/>
<use href="#r" x="1079.5" y="908.9"/>
<use href="#r" x="1079.5" y="911.3"/>
<use href="#r" x="1079.5" y="913.6"/>
<use href="#r" x="1079.5" y="916.0"/>
<use href="#r" x="1079.5" y="918.4"/>
<use href="#r" x="1081.9" y="444.1"/>
<use href="#r" x="1081.9" y="508.1"/>
<use href="#r" x="1081.9" y="510.5"/>
<use href="#r" x="1081.9" y="512.9"/>
<use href="#r" x="1081.9" y="515.2"/>
<use href="#r" x="1081.9" y="892.3"/>
<use href="#r" x="1081.9" y="894.7"/>
<use href="#r" x="1081.9" y="897.0"/>
<use href="#r" x="1081.9" y="899.4"/>
<use href="#r" x="1081.9" y="901.8"/>
<use href="#r" x="1081.9" y="904.2"/>
<use href="#r" x="1081.9" y="906.5"/>
<use href="#r" x="1081.9" y="908.9"/>
<use href="#r" x="1081.9" y="911.3"/>
<use href="#r" x="1081.9" y="913.6"/>
<use href="#r" x="1081.9" y="916.0"/>
<use href="#r" x="1081.9" y="918.4"/>
<use href="#r" x="1081.9" y="920.8"/>
<use href="#r" x="1084.3" y="508.1"/>
<use href="#r" x="1084.3" y="510.5"/>
<use href="#r" x="1084.3" y="512.9"/>
<use href="#r" x="1084.3" y="515.2"/>
<use href="#r" x="1084.3" y="517.6"/>
<use href="#r" x="1084.3" y="889.9"/>
<use href="#r" x="1084.3" y="892.3"/>
<use href="#r" x="1084.3" y="894.7"/>
<use href="#r" x="1084.3" y="897.0"/>
<use href="#r" x="1084.3" y="899.4"/>
<use href="#r" x="1084.3" y="901.8"/>
<use href="#r" x="1084.3" y="904.2"/>
<use href="#r" x="1084.3" y="906.5"/>
<use href="#r" x="1084.3" y="908.9"/>
<use href="#r" x="1084.3" y="911.3"/>
<use href="#r" x="1084.3" y="913.6"/>
<use href="#r" x="1084.3" y="916.0"/>
<use href="#r" x="1084.3" y="918.4"/>
<use href="#r" x="1086.6" y="508.1"/>
<use href="#r" x="1086.6" y="510.5"/>
<use href="#r" x="1086.6" y="889.9"/>
<use href="#r" x="1086.6" y="892.3"/>
<use href="#r" x="1086.6" y="894.7"/>
<use href="#r" x="1086.6" y="897.0"/>
<use href="#r" x="1086.6" y="899.4"/>
<use href="#r" x="1086.6" y="901.8"/>
<use href="#r" x="1086.6" y="904.2"/>
<use href="#r" x="1086.6" y="906.5"/>
<use href="#r" x="1086.6" y="908.9"/>
<use href="#r" x="1086.6" y="911.3"/>
<use href="#r" x="1086.6" y="913.6"/>
<use href="#r" x="1086.6" y="916.0"/>
<use href="#r" x="1089.0" y="887.6"/>
<use href="#r" x="1089.0" y="889.9"/>
<use href="#r" x="1089.0" y="892.3"/>
<use href="#r" x="1089.0" y="894.7"/>
<use href="#r" x="1089.0" y="897.0"/>
<use href="#r" x="1089.0" y="899.4"/>
<use href="#r" x="1089.0" y="901.8"/>
<use href="#r" x="1089.0" y="904.2"/>
<use href="#r" x="1089.0" y="906.5"/>
<use href="#r" x="1089.0" y="908.9"/>
<use href="#r" x="1089.0" y="911.3"/>
<use href="#r" x="1089.0" y="913.6"/>
<use href="#r" x="1091.4" y="875.7"/>
<use href="#r" x="1091.4" y="878.1"/>
<use href="#r" x="1091.4" y="885.2"/>
<use href="#r" x="1091.4" y="887.6"/>
<use href="#r" x="1091.4" y="889.9"/>
<use href="#r" x="1091.4" y="892.3"/>
<use href="#r" x="1091.4" y="894.7"/>
<use href="#r" x="1091.4" y="897.0"/>
<use href="#r" x="1091.4" y="899.4"/>
<use href="#r" x="1091.4" y="901.8"/>
<use href="#r" x="1091.4" y="911.3"/>
<use href="#r" x="1093.8" y="875.7"/>
<use href="#r" x="1093.8" y="878.1"/>
<use href="#r" x="1093.8" y="880.4"/>
<use href="#r" x="1093.8" y="882.8"/>
<use href="#r" x="1093.8" y="885.2"/>
<use href="#r" x="1093.8" y="887.6"/>
<use href="#r" x="1093.8" y="889.9"/>
<use href="#r" x="1093.8" y="892.3"/>
<use href="#r" x="1093.8" y="894.7"/>
<use href="#r" x="1096.1" y="878.1"/>
<use href="#r" x="1096.1" y="880.4"/>
<use href="#r" x="1096.1" y="882.8"/>
<use href="#r" x="1096.1" y="889.9"/>
<use href="#r" x="1098.5" y="878.1"/>
<use href="#r" x="1098.5" y="880.4"/>
<use href="#r" x="1098.5" y="882.8"/>
<use href="#r" x="1098.5" y="889.9"/>
<use href="#r" x="1100.9" y="878.1"/>
<use href="#r" x="1100.9" y="880.4"/>
<use href="#r" x="1100.9" y="882.8"/>
<use href="#r" x="1103.2" y="878.1"/>
<use href="#r" x="1103.2" y="880.4"/>
<use href="#r" x="1103.2" y="882.8"/>
<use href="#r" x="1105.6" y="875.7"/>
<use href="#r" x="1105.6" y="878.1"/>
<use href="#r" x="1105.6" y="880.4"/>
<use href="#r" x="1105.6" y="882.8"/>
<use href="#r" x="1105.6" y="885.2"/>
<use href="#r" x="1112.7" y="804.6"/>
<use href="#r" x="1117.5" y="804.6"/>
<use href="#r" x="1233.7" y="1089.1"/>
<use href="#r" x="1233.7" y="1091.5"/>
<use href="#r" x="1236.1" y="1089.1"/>
<use href="#r" x="1259.8" y="337.4"/>
<use href="#r" x="1259.8" y="339.7"/>
<use href="#r" x="1259.8" y="342.1"/>
<use href="#r" x="1259.8" y="344.5"/>
<use href="#r" x="1259.8" y="479.7"/>
<use href="#r" x="1262.1" y="1115.2"/>
<use href="#r" x="1264.5" y="1108.1"/>
<use href="#r" x="1266.9" y="1110.5"/>
<use href="#r" x="1311.9" y="1093.9"/>
<use href="#r" x="1311.9" y="1103.4"/>
<use href="#r" x="1311.9" y="1146.1"/>
<use href="#r" x="1314.3" y="1105.7"/>
<use href="#r" x="1314.3" y="1112.9"/>
<use href="#r" x="1319.1" y="1115.2"/>
<use href="#r" x="1319.1" y="1169.8"/>
<use href="#r" x="1321.4" y="1169.8"/>
<use href="#r" x="1330.9" y="1172.1"/>
<use href="#r" x="1338.0" y="1172.1"/>
<use href="#r" x="1345.1" y="1172.1"/>
<use href="#r" x="1352.3" y="1070.2"/>
<use href="#r" x="1352.3" y="1074.9"/>
<use href="#r" x="1352.3" y="1172.1"/>
<use href="#r" x="1352.3" y="1193.5"/>
<use href="#r" x="1352.3" y="1203.0"/>
<use href="#r" x="1359.4" y="1067.8"/>
<use href="#r" x="1359.4" y="1172.1"/>
<use href="#r" x="1373.6" y="1174.5"/>
<use href="#r" x="1376.0" y="1169.8"/>
<use href="#r" x="1376.0" y="1172.1"/>
<use href="#r" x="1376.0" y="1174.5"/>
<use href="#r" x="1378.3" y="1160.3"/>
<use href="#r" x="1378.3" y="1162.7"/>
<use href="#r" x="1378.3" y="1165.0"/>
<use href="#r" x="1378.3" y="1167.4"/>
<use href="#r" x="1378.3" y="1169.8"/>
<use href="#r" x="1378.3" y="1172.1"/>
<use href="#r" x="1380.7" y="1143.7"/>
<use href="#r" x="1380.7" y="1148.4"/>
<use href="#r" x="1380.7" y="1150.8"/>
<use href="#r" x="1380.7" y="1153.2"/>
<use href="#r" x="1380.7" y="1155.5"/>
<use href="#r" x="1380.7" y="1157.9"/>
<use href="#r" x="1380.7" y="1160.3"/>
<use href="#r" x="1380.7" y="1162.7"/>
<use href="#r" x="1380.7" y="1165.0"/>
<use href="#r" x="1380.7" y="1167.4"/>
<use href="#r" x="1380.7" y="1169.8"/>
<use href="#r" x="1380.7" y="1172.1"/>
<use href="#r" x="1383.1" y="482.0"/>
<use href="#r" x="1383.1" y="1146.1"/>
<use href="#r" x="1383.1" y="1148.4"/>
<use href="#r" x="1383.1" y="1150.8"/>
<use href="#r" x="1383.1" y="1153.2"/>
<use href="#r" x="1383.1" y="1155.5"/>
<use href="#r" x="1383.1" y="1157.9"/>
<use href="#r" x="1383.1" y="1160.3"/>
<use href="#r" x="1383.1" y="1162.7"/>
<use href="#r" x="1383.1" y="1165.0"/>
<use href="#r" x="1383.1" y="1167.4"/>
<use href="#r" x="1383.1" y="1169.8"/>
<use href="#r" x="1383.1" y="1172.1"/>
<use href="#r" x="1385.5" y="482.0"/>
<use href="#r" x="1385.5" y="745.3"/>
<use href="#r" x="1385.5" y="747.6"/>
<use href="#r" x="1385.5" y="1143.7"/>
<use href="#r" x="1385.5" y="1146.1"/>
<use href="#r" x="1385.5" y="1148.4"/>
<use href="#r" x="1385.5" y="1150.8"/>
<use href="#r" x="1385.5" y="1153.2"/>
<use href="#r" x="1385.5" y="1155.5"/>
<use href="#r" x="1385.5" y="1157.9"/>
<use href="#r" x="1385.5" y="1160.3"/>
<use href="#r" x="1385.5" y="1162.7"/>
<use href="#r" x="1385.5" y="1165.0"/>
<use href="#r" x="1385.5" y="1167.4"/>
<use href="#r" x="1385.5" y="1169.8"/>
<use href="#r" x="1385.5" y="1172.1"/>
<use href="#r" x="1385.5" y="1186.4"/>
<use href="#r" x="1385.5" y="1221.9"/>
<use href="#r" x="1385.5" y="1231.4"/>
<use href="#r" x="1387.8" y="484.4"/>
<use href="#r" x="1387.8" y="968.2"/>
<use href="#r" x="1387.8" y="970.6"/>
<use href="#r" x="1387.8" y="1150.8"/>
<use href="#r" x="1387.8" y="1153.2"/>
<use href="#r" x="1387.8" y="1155.5"/>
<use href="#r" x="1387.8" y="1157.9"/>
<use href="#r" x="1387.8" y="1160.3"/>
<use href="#r" x="1387.8" y="1162.7"/>
<use href="#r" x="1387.8" y="1165.0"/>
<use href="#r" x="1387.8" y="1167.4"/>
<use href="#r" x="1387.8" y="1169.8"/>
<use href="#r" x="1387.8" y="1172.1"/>
<use href="#r" x="1390.2" y="1160.3"/>
<use href="#r" x="1390.2" y="1162.7"/>
<use href="#r" x="1390.2" y="1165.0"/>
<use href="#r" x="1390.2" y="1167.4"/>
<use href="#r" x="1390.2" y="1169.8"/>
<use href="#r" x="1390.2" y="1172.1"/>
<use href="#r" x="1392.6" y="1169.8"/>
<use href="#r" x="1392.6" y="1172.1"/>
<use href="#r" x="1392.6" y="1174.5"/>
<use href="#r" x="1394.9" y="1174.5"/>
<use href="#r" x="1468.5" y="745.3"/>
<use href="#r" x="1470.8" y="747.6"/>
<use href="#r" x="1470.8" y="752.4"/>
<use href="#r" x="1473.2" y="337.4"/>
<use href="#r" x="1473.2" y="342.1"/>
<use href="#r" x="1473.2" y="344.5"/>
<use href="#r" x="1473.2" y="750.0"/>
<use href="#r" x="1475.6" y="1271.7"/>
<use href="#r" x="1475.6" y="1295.5"/>
<use href="#r" x="1477.9" y="1288.3"/>
<use href="#r" x="1480.3" y="1191.1"/>
<use href="#r" x="1482.7" y="1278.9"/>
<use href="#r" x="1487.4" y="1281.2"/>
<use href="#r" x="1489.8" y="1191.1"/>
<use href="#r" x="1489.8" y="1271.7"/>
<use href="#r" x="1489.8" y="1295.5"/>
</g>
<rect class="ax" x="120.3" y="30.2" width="1450.4" height="1449.4"/>
<path class="ax" d="M171.25,1479.6 H1357.00 M171.25,1479.6 V1510 M408.40,1479.6 V1510 M645.55,1479.6 V1510 M882.70,1479.6 V1510 M1119.85,1479.6 V1510 M1357.00,1479.6 V1510"/>
<path class="ax" d="M120.3,81.25 V1267.00 M120.3,81.25 H90 M120.3,318.40 H90 M120.3,555.55 H90 M120.3,792.70 H90 M120.3,1029.85 H90 M120.3,1267.00 H90"/>
<text x="171.25" y="1588" font-size="49.5" text-anchor="middle">0</text>
<text x="408.40" y="1588" font-size="49.5" text-anchor="middle">100</text>
<text x="645.55" y="1588" font-size="49.5" text-anchor="middle">200</text>
<text x="882.70" y="1588" font-size="49.5" text-anchor="middle">300</text>
<text x="1119.85" y="1588" font-size="49.5" text-anchor="middle">400</text>
<text x="1357.00" y="1588" font-size="49.5" text-anchor="middle">500</text>
<text transform="translate(48,81.25) rotate(-90)" font-size="49.5" text-anchor="middle">0</text>
<text transform="translate(48,318.40) rotate(-90)" font-size="49.5" text-anchor="middle">100</text>
<text transform="translate(48,555.55) rotate(-90)" font-size="49.5" text-anchor="middle">200</text>
<text transform="translate(48,792.70) rotate(-90)" font-size="49.5" text-anchor="middle">300</text>
<text transform="translate(48,1029.85) rotate(-90)" font-size="49.5" text-anchor="middle">400</text>
<text transform="translate(48,1267.00) rotate(-90)" font-size="49.5" text-anchor="middle">500</text>
<use class="t" href="#r" x="1202.7" y="90.3"/>
<use class="s" href="#q" x="1202.7" y="150"/>
<text x="1248" y="108" font-size="50">DNCON2-RR</text>
<text x="1248" y="168" font-size="50">Model-RR</text>
<text x="201" y="1452" font-size="103.5">Top-2L</text>
</svg></body></html>
